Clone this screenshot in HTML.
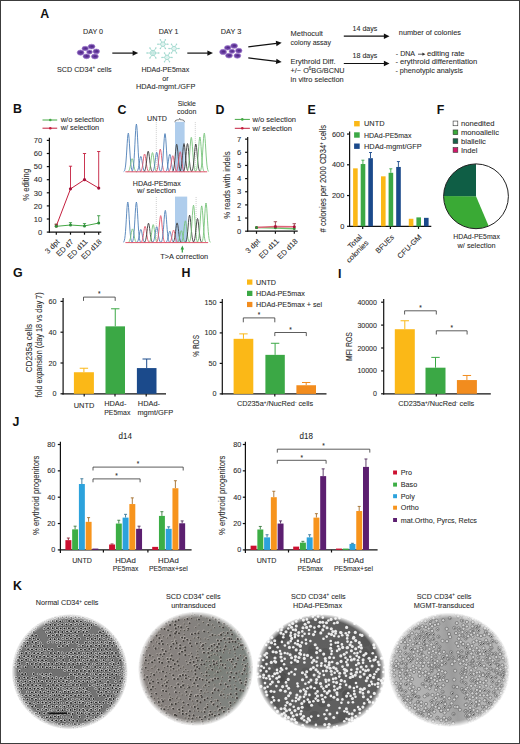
<!DOCTYPE html>
<html><head><meta charset="utf-8"><style>
html,body{margin:0;padding:0;background:#fff;}
body{width:520px;height:744px;overflow:hidden;position:relative;}
svg{position:absolute;left:0;top:0;display:block;}
svg text{font-family:"Liberation Sans", sans-serif;}
</style></head><body>
<svg width="520" height="744" viewBox="0 0 520 744">
<defs><g id="k1a"><circle r="2.15" fill="#4e4e4e"/><circle cx="-0.1" cy="-0.1" r="1.75" fill="#cfcfcf"/><circle r="1.0" fill="#505050"/><circle r="0.75" fill="#141414"/></g><g id="k1b"><circle r="2.0" fill="#555555"/><circle cx="-0.1" cy="-0.1" r="1.6" fill="#c2c2c2"/><circle r="0.75" fill="#333333"/></g><g id="k1c"><circle r="2.0" fill="#6c6c6c"/><circle r="1.5" fill="#a4a4a4"/><circle r="0.7" fill="#6a6a6a"/></g><filter id="kb" x="-5%" y="-5%" width="110%" height="110%"><feGaussianBlur stdDeviation="0.3"/></filter><g id="k2a"><circle cx="-0.4" cy="-0.4" r="1.5" fill="#bdb7b1" opacity="0.8"/><circle r="1.05" fill="#3e3b38"/></g><g id="k2b"><circle cx="-0.3" cy="-0.3" r="1.15" fill="#b3ada7" opacity="0.75"/><circle r="0.75" fill="#524e4a"/></g><linearGradient id="k2lin" x1="0" x2="1" y1="0" y2="0"><stop offset="0" stop-color="#8a8380"/><stop offset="0.45" stop-color="#85817e"/><stop offset="1" stop-color="#7b837e"/></linearGradient><radialGradient id="k2p"><stop offset="0" stop-color="#6f7a70" stop-opacity="0.55"/><stop offset="1" stop-color="#6f7a70" stop-opacity="0"/></radialGradient><circle id="k3a" r="1.3" fill="#f0f0f0"/><circle id="k3b" r="1.55" fill="#ececec"/><circle id="k3d" r="5" fill="#3a3a3a" opacity="0.18"/><g id="k4a"><circle r="1.6" fill="#d2d2d2" stroke="#5e5e5e" stroke-width="0.6"/></g><g id="k4b"><circle r="1.6" fill="#cacaca" stroke="#5a5a5a" stroke-width="0.6"/><circle cx="0.3" cy="0.2" r="0.6" fill="#404040"/></g><linearGradient id="k4band" x1="0" x2="1" y1="0" y2="0"><stop offset="0" stop-color="#8a8a8a" stop-opacity="0"/><stop offset="0.5" stop-color="#8a8a8a" stop-opacity="0.5"/><stop offset="1" stop-color="#8a8a8a" stop-opacity="0"/></linearGradient><radialGradient id="m1g" cx="0.5" cy="0.5" r="0.5"><stop offset="0.897" stop-color="#fff"/><stop offset="0.948" stop-color="#808080"/><stop offset="1" stop-color="#000"/></radialGradient><mask id="m1k" maskContentUnits="userSpaceOnUse"><ellipse cx="69.75" cy="671.75" rx="58.25" ry="57.75" fill="url(#m1g)"/></mask><radialGradient id="m1b" cx="0.5" cy="0.5" r="0.5"><stop offset="0" stop-color="#6e6e6e"/><stop offset="1" stop-color="#767676"/></radialGradient><radialGradient id="m2g" cx="0.5" cy="0.5" r="0.5"><stop offset="0.896" stop-color="#fff"/><stop offset="0.948" stop-color="#808080"/><stop offset="1" stop-color="#000"/></radialGradient><mask id="m2k" maskContentUnits="userSpaceOnUse"><ellipse cx="195.75" cy="668.75" rx="57.75" ry="57.25" fill="url(#m2g)"/></mask><radialGradient id="m2b" cx="0.5" cy="0.5" r="0.5"><stop offset="0" stop-color="#918c87"/><stop offset="1" stop-color="#8d8985"/></radialGradient><radialGradient id="m3g" cx="0.5" cy="0.5" r="0.5"><stop offset="0.907" stop-color="#fff"/><stop offset="0.954" stop-color="#808080"/><stop offset="1" stop-color="#000"/></radialGradient><mask id="m3k" maskContentUnits="userSpaceOnUse"><ellipse cx="320.75" cy="672.0" rx="64.75" ry="58.0" fill="url(#m3g)"/></mask><radialGradient id="m3b" cx="0.5" cy="0.5" r="0.5"><stop offset="0" stop-color="#626262"/><stop offset="1" stop-color="#5c5c5c"/></radialGradient><radialGradient id="m4g" cx="0.5" cy="0.5" r="0.5"><stop offset="0.902" stop-color="#fff"/><stop offset="0.951" stop-color="#808080"/><stop offset="1" stop-color="#000"/></radialGradient><mask id="m4k" maskContentUnits="userSpaceOnUse"><ellipse cx="449.0" cy="669.75" rx="61.0" ry="57.25" fill="url(#m4g)"/></mask><radialGradient id="m4b" cx="0.5" cy="0.5" r="0.5"><stop offset="0" stop-color="#ababab"/><stop offset="1" stop-color="#b6b6b6"/></radialGradient></defs>
<rect x="0" y="0" width="520" height="744" fill="#fff"/>
<text x="12.90" y="590.20" font-size="12.4" text-anchor="start" fill="#111" font-weight="bold">K</text><text x="35.80" y="605.40" font-size="7.2" text-anchor="start" fill="#2b2b2b" stroke="#2b2b2b" stroke-width="0.08">Normal CD34<tspan font-size="4.5" dy="-2.8">+</tspan><tspan dy="2.8"> cells</tspan></text><text x="193.20" y="598.80" font-size="7.2" text-anchor="middle" fill="#2b2b2b" stroke="#2b2b2b" stroke-width="0.08">SCD CD34<tspan font-size="4.5" dy="-2.8">+</tspan><tspan dy="2.8"> cells</tspan></text><text x="193.40" y="608.20" font-size="7.2" text-anchor="middle" fill="#2b2b2b" stroke="#2b2b2b" stroke-width="0.08" textLength="44.40" lengthAdjust="spacingAndGlyphs">untransduced</text><text x="318.30" y="598.80" font-size="7.2" text-anchor="middle" fill="#2b2b2b" stroke="#2b2b2b" stroke-width="0.08">SCD CD34<tspan font-size="4.5" dy="-2.8">+</tspan><tspan dy="2.8"> cells</tspan></text><text x="317.50" y="608.20" font-size="7.2" text-anchor="middle" fill="#2b2b2b" stroke="#2b2b2b" stroke-width="0.08" textLength="49.00" lengthAdjust="spacingAndGlyphs">HDAd-PE5max</text><text x="444.10" y="598.80" font-size="7.2" text-anchor="middle" fill="#2b2b2b" stroke="#2b2b2b" stroke-width="0.08">SCD CD34<tspan font-size="4.5" dy="-2.8">+</tspan><tspan dy="2.8"> cells</tspan></text><text x="443.90" y="608.20" font-size="7.2" text-anchor="middle" fill="#2b2b2b" stroke="#2b2b2b" stroke-width="0.08" textLength="60.50" lengthAdjust="spacingAndGlyphs">MGMT-transduced</text><g mask="url(#m1k)"><g filter="url(#kb)"><ellipse cx="69.75" cy="671.75" rx="58.25" ry="57.75" fill="url(#m1b)"/><use href="#k1b" x="87.0" y="617.4"/><use href="#k1b" x="44.4" y="621.2"/><use href="#k1b" x="64.9" y="621.1"/><use href="#k1b" x="85.2" y="621.5"/><use href="#k1b" x="97.5" y="621.2"/><use href="#k1b" x="58.3" y="624.6"/><use href="#k1b" x="75.3" y="624.5"/><use href="#k1b" x="79.6" y="624.2"/><use href="#k1b" x="35.7" y="628.2"/><use href="#k1b" x="44.3" y="628.7"/><use href="#k1b" x="76.6" y="628.7"/><use href="#k1b" x="29.9" y="631.8"/><use href="#k1b" x="46.7" y="632.2"/><use href="#k1b" x="73.2" y="635.4"/><use href="#k1b" x="93.2" y="635.2"/><use href="#k1b" x="62.9" y="638.5"/><use href="#k1b" x="104.0" y="638.5"/><use href="#k1b" x="108.3" y="639.3"/><use href="#k1b" x="40.4" y="642.9"/><use href="#k1b" x="48.3" y="642.3"/><use href="#k1b" x="52.9" y="642.0"/><use href="#k1b" x="56.7" y="642.4"/><use href="#k1b" x="68.7" y="642.6"/><use href="#k1b" x="89.7" y="642.2"/><use href="#k1b" x="97.3" y="642.3"/><use href="#k1b" x="105.5" y="642.5"/><use href="#k1b" x="30.2" y="646.1"/><use href="#k1b" x="79.1" y="645.7"/><use href="#k1b" x="39.9" y="649.3"/><use href="#k1b" x="77.5" y="649.1"/><use href="#k1b" x="17.4" y="652.8"/><use href="#k1b" x="29.5" y="652.7"/><use href="#k1b" x="46.0" y="653.0"/><use href="#k1b" x="62.3" y="653.0"/><use href="#k1b" x="83.6" y="653.2"/><use href="#k1b" x="95.8" y="653.5"/><use href="#k1b" x="120.6" y="652.7"/><use href="#k1b" x="16.1" y="656.9"/><use href="#k1b" x="64.3" y="656.8"/><use href="#k1b" x="85.2" y="656.5"/><use href="#k1b" x="13.7" y="660.5"/><use href="#k1b" x="30.4" y="659.7"/><use href="#k1b" x="59.1" y="660.6"/><use href="#k1b" x="83.6" y="660.4"/><use href="#k1b" x="99.4" y="660.3"/><use href="#k1b" x="107.9" y="659.9"/><use href="#k1b" x="93.5" y="664.0"/><use href="#k1b" x="110.2" y="663.4"/><use href="#k1b" x="22.1" y="666.9"/><use href="#k1b" x="54.4" y="667.5"/><use href="#k1b" x="67.1" y="667.0"/><use href="#k1b" x="83.4" y="667.6"/><use href="#k1b" x="91.3" y="667.0"/><use href="#k1b" x="103.6" y="666.9"/><use href="#k1b" x="107.7" y="667.5"/><use href="#k1b" x="115.9" y="666.8"/><use href="#k1b" x="120.0" y="667.5"/><use href="#k1b" x="123.8" y="667.2"/><use href="#k1b" x="64.9" y="670.4"/><use href="#k1b" x="118.3" y="670.5"/><use href="#k1b" x="122.3" y="671.3"/><use href="#k1b" x="38.3" y="674.1"/><use href="#k1b" x="91.7" y="674.0"/><use href="#k1b" x="120.2" y="674.3"/><use href="#k1b" x="124.4" y="674.7"/><use href="#k1b" x="56.4" y="677.8"/><use href="#k1b" x="102.2" y="677.6"/><use href="#k1b" x="126.0" y="677.4"/><use href="#k1b" x="21.3" y="681.2"/><use href="#k1b" x="71.2" y="681.5"/><use href="#k1b" x="91.8" y="681.3"/><use href="#k1b" x="104.0" y="681.1"/><use href="#k1b" x="115.7" y="681.6"/><use href="#k1b" x="69.1" y="684.8"/><use href="#k1b" x="93.9" y="685.3"/><use href="#k1b" x="101.5" y="685.4"/><use href="#k1b" x="121.9" y="685.2"/><use href="#k1b" x="63.1" y="688.7"/><use href="#k1b" x="75.0" y="688.3"/><use href="#k1b" x="95.9" y="688.7"/><use href="#k1b" x="27.6" y="692.0"/><use href="#k1b" x="60.3" y="692.4"/><use href="#k1b" x="89.1" y="692.6"/><use href="#k1b" x="109.4" y="691.7"/><use href="#k1b" x="114.5" y="692.3"/><use href="#k1b" x="22.2" y="695.6"/><use href="#k1b" x="45.9" y="695.5"/><use href="#k1b" x="50.4" y="695.4"/><use href="#k1b" x="116.1" y="695.2"/><use href="#k1b" x="40.6" y="698.9"/><use href="#k1b" x="72.8" y="699.3"/><use href="#k1b" x="77.0" y="699.3"/><use href="#k1b" x="21.5" y="702.5"/><use href="#k1b" x="34.2" y="702.6"/><use href="#k1b" x="62.4" y="703.1"/><use href="#k1b" x="87.6" y="703.2"/><use href="#k1b" x="108.3" y="702.6"/><use href="#k1b" x="60.7" y="706.8"/><use href="#k1b" x="42.5" y="709.7"/><use href="#k1b" x="50.7" y="709.8"/><use href="#k1b" x="54.1" y="709.9"/><use href="#k1b" x="67.3" y="709.7"/><use href="#k1b" x="95.4" y="709.5"/><use href="#k1b" x="107.4" y="709.6"/><use href="#k1b" x="111.8" y="710.1"/><use href="#k1b" x="85.5" y="713.2"/><use href="#k1b" x="110.0" y="713.4"/><use href="#k1b" x="62.3" y="717.0"/><use href="#k1b" x="67.1" y="717.1"/><use href="#k1b" x="91.0" y="717.3"/><use href="#k1b" x="46.8" y="724.4"/><use href="#k1b" x="54.2" y="723.9"/><use href="#k1b" x="67.1" y="724.3"/><use href="#k1b" x="70.8" y="724.0"/><use href="#k1b" x="83.2" y="724.4"/><use href="#k1b" x="91.7" y="724.0"/><use href="#k1a" x="72.7" y="614.2"/><use href="#k1a" x="55.0" y="617.3"/><use href="#k1a" x="58.4" y="617.9"/><use href="#k1a" x="62.5" y="617.2"/><use href="#k1a" x="66.4" y="617.3"/><use href="#k1a" x="71.3" y="617.7"/><use href="#k1a" x="75.5" y="617.3"/><use href="#k1a" x="78.9" y="617.5"/><use href="#k1a" x="82.9" y="617.4"/><use href="#k1a" x="48.5" y="621.6"/><use href="#k1a" x="52.7" y="621.0"/><use href="#k1a" x="56.7" y="621.0"/><use href="#k1a" x="60.3" y="621.4"/><use href="#k1a" x="69.1" y="621.1"/><use href="#k1a" x="73.4" y="620.9"/><use href="#k1a" x="76.9" y="621.3"/><use href="#k1a" x="80.9" y="621.5"/><use href="#k1a" x="89.6" y="620.8"/><use href="#k1a" x="93.8" y="621.5"/><use href="#k1a" x="37.7" y="624.3"/><use href="#k1a" x="46.0" y="624.2"/><use href="#k1a" x="50.4" y="624.8"/><use href="#k1a" x="54.9" y="625.1"/><use href="#k1a" x="62.3" y="624.6"/><use href="#k1a" x="66.5" y="624.4"/><use href="#k1a" x="71.1" y="624.7"/><use href="#k1a" x="83.5" y="624.3"/><use href="#k1a" x="87.5" y="625.1"/><use href="#k1a" x="91.5" y="625.0"/><use href="#k1a" x="96.0" y="624.6"/><use href="#k1a" x="31.8" y="628.5"/><use href="#k1a" x="48.1" y="628.2"/><use href="#k1a" x="52.7" y="628.3"/><use href="#k1a" x="56.9" y="628.3"/><use href="#k1a" x="60.6" y="628.5"/><use href="#k1a" x="64.5" y="628.6"/><use href="#k1a" x="68.9" y="628.3"/><use href="#k1a" x="73.0" y="628.2"/><use href="#k1a" x="81.1" y="628.5"/><use href="#k1a" x="85.3" y="628.4"/><use href="#k1a" x="89.4" y="628.1"/><use href="#k1a" x="102.1" y="628.2"/><use href="#k1a" x="105.5" y="628.3"/><use href="#k1a" x="33.8" y="631.9"/><use href="#k1a" x="50.3" y="632.2"/><use href="#k1a" x="55.0" y="632.1"/><use href="#k1a" x="58.4" y="632.0"/><use href="#k1a" x="62.3" y="632.1"/><use href="#k1a" x="67.1" y="631.4"/><use href="#k1a" x="71.1" y="631.3"/><use href="#k1a" x="75.2" y="632.2"/><use href="#k1a" x="78.8" y="631.8"/><use href="#k1a" x="83.3" y="631.9"/><use href="#k1a" x="86.9" y="631.4"/><use href="#k1a" x="100.0" y="632.2"/><use href="#k1a" x="103.3" y="631.3"/><use href="#k1a" x="107.8" y="632.0"/><use href="#k1a" x="28.2" y="635.5"/><use href="#k1a" x="32.1" y="635.2"/><use href="#k1a" x="36.1" y="635.8"/><use href="#k1a" x="48.8" y="635.7"/><use href="#k1a" x="52.8" y="635.6"/><use href="#k1a" x="56.8" y="634.9"/><use href="#k1a" x="60.7" y="634.8"/><use href="#k1a" x="64.9" y="635.4"/><use href="#k1a" x="69.3" y="635.5"/><use href="#k1a" x="77.0" y="635.8"/><use href="#k1a" x="84.8" y="635.4"/><use href="#k1a" x="89.2" y="635.2"/><use href="#k1a" x="97.4" y="635.7"/><use href="#k1a" x="101.7" y="635.8"/><use href="#k1a" x="106.3" y="635.4"/><use href="#k1a" x="109.5" y="635.4"/><use href="#k1a" x="113.5" y="635.7"/><use href="#k1a" x="25.9" y="638.6"/><use href="#k1a" x="29.7" y="638.4"/><use href="#k1a" x="33.6" y="638.5"/><use href="#k1a" x="38.0" y="639.3"/><use href="#k1a" x="50.4" y="639.3"/><use href="#k1a" x="54.6" y="639.3"/><use href="#k1a" x="58.6" y="639.3"/><use href="#k1a" x="66.8" y="638.6"/><use href="#k1a" x="71.0" y="638.5"/><use href="#k1a" x="75.2" y="638.8"/><use href="#k1a" x="79.2" y="638.8"/><use href="#k1a" x="87.6" y="638.6"/><use href="#k1a" x="91.8" y="639.1"/><use href="#k1a" x="95.4" y="638.6"/><use href="#k1a" x="99.7" y="638.9"/><use href="#k1a" x="111.5" y="638.4"/><use href="#k1a" x="116.0" y="639.0"/><use href="#k1a" x="24.0" y="642.7"/><use href="#k1a" x="27.5" y="642.7"/><use href="#k1a" x="32.3" y="642.1"/><use href="#k1a" x="35.9" y="642.7"/><use href="#k1a" x="60.5" y="642.7"/><use href="#k1a" x="64.5" y="642.6"/><use href="#k1a" x="72.8" y="642.0"/><use href="#k1a" x="77.3" y="642.3"/><use href="#k1a" x="85.7" y="642.8"/><use href="#k1a" x="93.4" y="642.8"/><use href="#k1a" x="101.6" y="642.3"/><use href="#k1a" x="109.9" y="642.7"/><use href="#k1a" x="113.7" y="642.7"/><use href="#k1a" x="117.9" y="641.9"/><use href="#k1a" x="17.7" y="646.2"/><use href="#k1a" x="21.3" y="646.2"/><use href="#k1a" x="25.4" y="646.1"/><use href="#k1a" x="33.8" y="646.2"/><use href="#k1a" x="38.4" y="645.8"/><use href="#k1a" x="42.7" y="646.1"/><use href="#k1a" x="59.0" y="646.3"/><use href="#k1a" x="62.9" y="646.0"/><use href="#k1a" x="67.2" y="645.9"/><use href="#k1a" x="82.8" y="645.8"/><use href="#k1a" x="87.5" y="646.2"/><use href="#k1a" x="91.0" y="645.9"/><use href="#k1a" x="96.0" y="645.5"/><use href="#k1a" x="99.3" y="645.7"/><use href="#k1a" x="104.0" y="646.1"/><use href="#k1a" x="107.5" y="645.7"/><use href="#k1a" x="112.2" y="645.8"/><use href="#k1a" x="116.4" y="645.9"/><use href="#k1a" x="120.5" y="646.4"/><use href="#k1a" x="20.0" y="649.4"/><use href="#k1a" x="28.1" y="649.2"/><use href="#k1a" x="32.0" y="649.4"/><use href="#k1a" x="36.3" y="649.6"/><use href="#k1a" x="44.7" y="649.5"/><use href="#k1a" x="48.9" y="649.3"/><use href="#k1a" x="52.2" y="649.8"/><use href="#k1a" x="72.8" y="649.8"/><use href="#k1a" x="80.9" y="649.5"/><use href="#k1a" x="85.0" y="649.8"/><use href="#k1a" x="89.2" y="649.1"/><use href="#k1a" x="93.5" y="649.7"/><use href="#k1a" x="97.8" y="649.1"/><use href="#k1a" x="101.7" y="650.0"/><use href="#k1a" x="106.0" y="649.0"/><use href="#k1a" x="110.1" y="649.2"/><use href="#k1a" x="118.4" y="649.2"/><use href="#k1a" x="122.0" y="649.4"/><use href="#k1a" x="21.6" y="653.5"/><use href="#k1a" x="26.1" y="652.9"/><use href="#k1a" x="34.2" y="653.3"/><use href="#k1a" x="38.1" y="653.4"/><use href="#k1a" x="41.8" y="652.8"/><use href="#k1a" x="50.9" y="653.0"/><use href="#k1a" x="54.7" y="653.3"/><use href="#k1a" x="58.5" y="652.9"/><use href="#k1a" x="67.3" y="653.3"/><use href="#k1a" x="71.1" y="652.6"/><use href="#k1a" x="74.9" y="653.2"/><use href="#k1a" x="79.0" y="653.1"/><use href="#k1a" x="87.6" y="653.5"/><use href="#k1a" x="91.3" y="653.1"/><use href="#k1a" x="99.9" y="653.4"/><use href="#k1a" x="104.2" y="653.2"/><use href="#k1a" x="107.4" y="652.8"/><use href="#k1a" x="112.1" y="652.9"/><use href="#k1a" x="115.9" y="653.0"/><use href="#k1a" x="124.3" y="653.1"/><use href="#k1a" x="19.3" y="656.9"/><use href="#k1a" x="24.2" y="656.3"/><use href="#k1a" x="28.2" y="656.3"/><use href="#k1a" x="31.6" y="656.1"/><use href="#k1a" x="36.6" y="657.0"/><use href="#k1a" x="40.0" y="656.8"/><use href="#k1a" x="44.2" y="656.7"/><use href="#k1a" x="47.9" y="656.3"/><use href="#k1a" x="52.1" y="656.5"/><use href="#k1a" x="56.3" y="656.6"/><use href="#k1a" x="60.8" y="656.4"/><use href="#k1a" x="69.4" y="656.7"/><use href="#k1a" x="72.9" y="656.7"/><use href="#k1a" x="77.4" y="656.9"/><use href="#k1a" x="81.7" y="656.9"/><use href="#k1a" x="89.8" y="656.6"/><use href="#k1a" x="93.4" y="657.0"/><use href="#k1a" x="97.2" y="656.8"/><use href="#k1a" x="101.9" y="656.7"/><use href="#k1a" x="105.6" y="656.7"/><use href="#k1a" x="109.5" y="656.6"/><use href="#k1a" x="113.9" y="656.2"/><use href="#k1a" x="118.1" y="656.3"/><use href="#k1a" x="122.1" y="656.3"/><use href="#k1a" x="18.0" y="659.9"/><use href="#k1a" x="21.8" y="660.6"/><use href="#k1a" x="26.1" y="659.8"/><use href="#k1a" x="33.8" y="660.0"/><use href="#k1a" x="38.5" y="660.5"/><use href="#k1a" x="42.1" y="660.2"/><use href="#k1a" x="45.9" y="660.6"/><use href="#k1a" x="54.5" y="659.9"/><use href="#k1a" x="63.1" y="660.0"/><use href="#k1a" x="70.7" y="660.3"/><use href="#k1a" x="75.4" y="659.7"/><use href="#k1a" x="79.4" y="660.0"/><use href="#k1a" x="87.5" y="660.6"/><use href="#k1a" x="91.0" y="659.9"/><use href="#k1a" x="95.8" y="659.9"/><use href="#k1a" x="103.6" y="660.3"/><use href="#k1a" x="112.4" y="660.3"/><use href="#k1a" x="120.1" y="660.2"/><use href="#k1a" x="123.8" y="660.3"/><use href="#k1a" x="15.2" y="663.5"/><use href="#k1a" x="19.4" y="663.5"/><use href="#k1a" x="27.4" y="663.7"/><use href="#k1a" x="31.9" y="664.1"/><use href="#k1a" x="35.8" y="663.8"/><use href="#k1a" x="40.1" y="663.9"/><use href="#k1a" x="44.3" y="663.7"/><use href="#k1a" x="48.6" y="663.7"/><use href="#k1a" x="52.2" y="664.0"/><use href="#k1a" x="56.7" y="663.4"/><use href="#k1a" x="61.0" y="664.0"/><use href="#k1a" x="64.5" y="663.7"/><use href="#k1a" x="69.0" y="663.7"/><use href="#k1a" x="73.1" y="663.9"/><use href="#k1a" x="77.5" y="663.4"/><use href="#k1a" x="80.7" y="663.7"/><use href="#k1a" x="85.2" y="663.5"/><use href="#k1a" x="89.0" y="664.1"/><use href="#k1a" x="97.2" y="663.5"/><use href="#k1a" x="101.5" y="663.8"/><use href="#k1a" x="105.6" y="663.8"/><use href="#k1a" x="113.7" y="663.9"/><use href="#k1a" x="118.4" y="663.3"/><use href="#k1a" x="125.8" y="663.7"/><use href="#k1a" x="14.0" y="666.9"/><use href="#k1a" x="17.9" y="666.8"/><use href="#k1a" x="25.6" y="667.2"/><use href="#k1a" x="34.3" y="667.0"/><use href="#k1a" x="38.2" y="667.0"/><use href="#k1a" x="42.7" y="667.1"/><use href="#k1a" x="46.8" y="667.4"/><use href="#k1a" x="50.4" y="667.4"/><use href="#k1a" x="58.7" y="667.6"/><use href="#k1a" x="62.6" y="667.6"/><use href="#k1a" x="70.6" y="667.3"/><use href="#k1a" x="74.8" y="667.0"/><use href="#k1a" x="87.2" y="666.8"/><use href="#k1a" x="95.2" y="667.0"/><use href="#k1a" x="100.1" y="667.5"/><use href="#k1a" x="112.4" y="666.8"/><use href="#k1a" x="19.6" y="670.9"/><use href="#k1a" x="68.8" y="670.4"/><use href="#k1a" x="72.8" y="670.8"/><use href="#k1a" x="76.8" y="670.7"/><use href="#k1a" x="80.9" y="671.0"/><use href="#k1a" x="84.9" y="670.7"/><use href="#k1a" x="89.1" y="670.9"/><use href="#k1a" x="93.6" y="671.0"/><use href="#k1a" x="97.5" y="670.7"/><use href="#k1a" x="101.6" y="670.4"/><use href="#k1a" x="105.9" y="670.8"/><use href="#k1a" x="109.7" y="670.3"/><use href="#k1a" x="114.4" y="670.9"/><use href="#k1a" x="126.4" y="671.3"/><use href="#k1a" x="22.1" y="674.2"/><use href="#k1a" x="25.4" y="674.0"/><use href="#k1a" x="33.7" y="674.1"/><use href="#k1a" x="42.3" y="674.3"/><use href="#k1a" x="46.3" y="674.5"/><use href="#k1a" x="50.6" y="674.4"/><use href="#k1a" x="70.9" y="674.4"/><use href="#k1a" x="74.8" y="674.6"/><use href="#k1a" x="78.9" y="674.1"/><use href="#k1a" x="82.9" y="674.4"/><use href="#k1a" x="86.9" y="673.9"/><use href="#k1a" x="95.8" y="674.3"/><use href="#k1a" x="100.0" y="674.7"/><use href="#k1a" x="103.5" y="674.4"/><use href="#k1a" x="107.7" y="674.6"/><use href="#k1a" x="112.2" y="674.2"/><use href="#k1a" x="116.3" y="674.7"/><use href="#k1a" x="15.8" y="677.6"/><use href="#k1a" x="19.2" y="678.0"/><use href="#k1a" x="24.3" y="677.5"/><use href="#k1a" x="27.8" y="678.0"/><use href="#k1a" x="32.4" y="678.4"/><use href="#k1a" x="36.3" y="677.5"/><use href="#k1a" x="43.9" y="677.7"/><use href="#k1a" x="48.4" y="677.9"/><use href="#k1a" x="52.3" y="678.2"/><use href="#k1a" x="61.0" y="678.4"/><use href="#k1a" x="65.0" y="678.0"/><use href="#k1a" x="68.5" y="677.6"/><use href="#k1a" x="76.7" y="677.7"/><use href="#k1a" x="81.3" y="677.6"/><use href="#k1a" x="85.1" y="677.6"/><use href="#k1a" x="89.3" y="677.7"/><use href="#k1a" x="93.1" y="678.3"/><use href="#k1a" x="97.2" y="677.6"/><use href="#k1a" x="105.8" y="677.8"/><use href="#k1a" x="109.8" y="677.5"/><use href="#k1a" x="114.2" y="678.0"/><use href="#k1a" x="122.1" y="678.2"/><use href="#k1a" x="13.2" y="681.0"/><use href="#k1a" x="17.9" y="681.3"/><use href="#k1a" x="25.4" y="681.5"/><use href="#k1a" x="30.2" y="681.7"/><use href="#k1a" x="34.4" y="681.8"/><use href="#k1a" x="38.6" y="681.1"/><use href="#k1a" x="42.2" y="681.7"/><use href="#k1a" x="46.8" y="681.0"/><use href="#k1a" x="50.2" y="681.3"/><use href="#k1a" x="54.7" y="681.8"/><use href="#k1a" x="58.8" y="681.3"/><use href="#k1a" x="63.2" y="681.3"/><use href="#k1a" x="66.7" y="681.7"/><use href="#k1a" x="74.7" y="681.1"/><use href="#k1a" x="79.0" y="681.4"/><use href="#k1a" x="83.3" y="681.4"/><use href="#k1a" x="87.4" y="681.9"/><use href="#k1a" x="95.2" y="681.9"/><use href="#k1a" x="100.1" y="681.2"/><use href="#k1a" x="108.0" y="681.9"/><use href="#k1a" x="120.3" y="681.2"/><use href="#k1a" x="124.6" y="681.8"/><use href="#k1a" x="15.2" y="685.3"/><use href="#k1a" x="19.7" y="685.2"/><use href="#k1a" x="23.7" y="684.7"/><use href="#k1a" x="28.0" y="685.0"/><use href="#k1a" x="32.1" y="685.0"/><use href="#k1a" x="36.2" y="685.4"/><use href="#k1a" x="40.2" y="685.5"/><use href="#k1a" x="48.3" y="685.4"/><use href="#k1a" x="53.0" y="685.0"/><use href="#k1a" x="56.9" y="685.2"/><use href="#k1a" x="61.0" y="685.3"/><use href="#k1a" x="65.3" y="684.6"/><use href="#k1a" x="73.0" y="685.0"/><use href="#k1a" x="76.8" y="684.8"/><use href="#k1a" x="80.8" y="685.1"/><use href="#k1a" x="89.8" y="685.3"/><use href="#k1a" x="97.5" y="684.6"/><use href="#k1a" x="105.4" y="684.7"/><use href="#k1a" x="110.2" y="685.1"/><use href="#k1a" x="113.6" y="685.5"/><use href="#k1a" x="118.2" y="685.4"/><use href="#k1a" x="125.8" y="684.9"/><use href="#k1a" x="17.8" y="688.8"/><use href="#k1a" x="21.4" y="688.8"/><use href="#k1a" x="25.5" y="688.2"/><use href="#k1a" x="30.1" y="688.4"/><use href="#k1a" x="34.5" y="688.8"/><use href="#k1a" x="38.0" y="688.4"/><use href="#k1a" x="41.9" y="688.7"/><use href="#k1a" x="46.7" y="688.5"/><use href="#k1a" x="50.5" y="689.0"/><use href="#k1a" x="54.8" y="688.3"/><use href="#k1a" x="58.4" y="688.9"/><use href="#k1a" x="67.3" y="688.5"/><use href="#k1a" x="71.1" y="688.5"/><use href="#k1a" x="79.6" y="688.4"/><use href="#k1a" x="83.4" y="688.3"/><use href="#k1a" x="87.0" y="689.0"/><use href="#k1a" x="99.2" y="689.0"/><use href="#k1a" x="103.6" y="688.4"/><use href="#k1a" x="108.0" y="688.4"/><use href="#k1a" x="112.4" y="688.1"/><use href="#k1a" x="116.0" y="688.4"/><use href="#k1a" x="120.0" y="688.7"/><use href="#k1a" x="19.3" y="692.1"/><use href="#k1a" x="31.9" y="692.4"/><use href="#k1a" x="35.8" y="692.3"/><use href="#k1a" x="40.4" y="691.9"/><use href="#k1a" x="44.5" y="692.4"/><use href="#k1a" x="48.4" y="691.6"/><use href="#k1a" x="52.9" y="692.5"/><use href="#k1a" x="56.5" y="692.1"/><use href="#k1a" x="64.8" y="691.7"/><use href="#k1a" x="68.5" y="691.7"/><use href="#k1a" x="72.8" y="692.4"/><use href="#k1a" x="77.0" y="691.7"/><use href="#k1a" x="81.2" y="692.2"/><use href="#k1a" x="85.7" y="691.7"/><use href="#k1a" x="98.1" y="692.0"/><use href="#k1a" x="101.4" y="692.4"/><use href="#k1a" x="106.0" y="691.8"/><use href="#k1a" x="117.6" y="692.0"/><use href="#k1a" x="122.0" y="691.7"/><use href="#k1a" x="18.1" y="695.7"/><use href="#k1a" x="26.1" y="695.4"/><use href="#k1a" x="29.9" y="695.6"/><use href="#k1a" x="34.0" y="695.6"/><use href="#k1a" x="38.5" y="695.2"/><use href="#k1a" x="42.3" y="695.6"/><use href="#k1a" x="54.5" y="695.2"/><use href="#k1a" x="59.1" y="695.2"/><use href="#k1a" x="63.2" y="695.5"/><use href="#k1a" x="66.7" y="695.5"/><use href="#k1a" x="71.0" y="695.5"/><use href="#k1a" x="75.1" y="695.9"/><use href="#k1a" x="78.7" y="695.4"/><use href="#k1a" x="83.5" y="695.6"/><use href="#k1a" x="87.3" y="695.4"/><use href="#k1a" x="91.0" y="696.1"/><use href="#k1a" x="99.9" y="695.8"/><use href="#k1a" x="104.0" y="695.2"/><use href="#k1a" x="107.9" y="696.1"/><use href="#k1a" x="111.5" y="696.1"/><use href="#k1a" x="19.6" y="699.2"/><use href="#k1a" x="23.6" y="699.4"/><use href="#k1a" x="27.5" y="699.5"/><use href="#k1a" x="32.0" y="698.8"/><use href="#k1a" x="35.9" y="699.7"/><use href="#k1a" x="44.3" y="699.6"/><use href="#k1a" x="48.8" y="699.2"/><use href="#k1a" x="52.4" y="699.1"/><use href="#k1a" x="57.0" y="699.2"/><use href="#k1a" x="60.6" y="699.5"/><use href="#k1a" x="65.0" y="698.9"/><use href="#k1a" x="68.6" y="699.1"/><use href="#k1a" x="81.1" y="699.3"/><use href="#k1a" x="85.8" y="699.0"/><use href="#k1a" x="89.1" y="699.0"/><use href="#k1a" x="93.6" y="699.0"/><use href="#k1a" x="106.3" y="699.6"/><use href="#k1a" x="109.9" y="698.9"/><use href="#k1a" x="113.6" y="699.0"/><use href="#k1a" x="117.6" y="699.4"/><use href="#k1a" x="26.0" y="702.4"/><use href="#k1a" x="30.0" y="703.2"/><use href="#k1a" x="38.4" y="702.6"/><use href="#k1a" x="42.5" y="702.5"/><use href="#k1a" x="45.9" y="702.8"/><use href="#k1a" x="50.2" y="702.5"/><use href="#k1a" x="54.5" y="702.5"/><use href="#k1a" x="58.4" y="702.8"/><use href="#k1a" x="67.0" y="702.8"/><use href="#k1a" x="71.0" y="702.9"/><use href="#k1a" x="75.3" y="702.5"/><use href="#k1a" x="79.6" y="702.6"/><use href="#k1a" x="83.0" y="702.7"/><use href="#k1a" x="91.5" y="702.6"/><use href="#k1a" x="96.0" y="702.4"/><use href="#k1a" x="99.8" y="702.3"/><use href="#k1a" x="103.4" y="702.8"/><use href="#k1a" x="111.5" y="702.9"/><use href="#k1a" x="23.5" y="706.5"/><use href="#k1a" x="27.9" y="705.9"/><use href="#k1a" x="32.1" y="706.8"/><use href="#k1a" x="35.7" y="706.1"/><use href="#k1a" x="44.7" y="706.7"/><use href="#k1a" x="48.8" y="705.8"/><use href="#k1a" x="52.6" y="706.5"/><use href="#k1a" x="56.7" y="706.7"/><use href="#k1a" x="64.4" y="706.7"/><use href="#k1a" x="68.4" y="705.8"/><use href="#k1a" x="73.2" y="706.3"/><use href="#k1a" x="77.4" y="706.6"/><use href="#k1a" x="85.6" y="706.2"/><use href="#k1a" x="89.2" y="705.8"/><use href="#k1a" x="93.3" y="706.4"/><use href="#k1a" x="97.4" y="706.5"/><use href="#k1a" x="101.4" y="706.7"/><use href="#k1a" x="110.2" y="706.1"/><use href="#k1a" x="114.2" y="706.1"/><use href="#k1a" x="29.9" y="710.4"/><use href="#k1a" x="38.0" y="709.5"/><use href="#k1a" x="46.2" y="709.7"/><use href="#k1a" x="58.2" y="710.3"/><use href="#k1a" x="62.5" y="710.2"/><use href="#k1a" x="70.6" y="710.1"/><use href="#k1a" x="74.7" y="709.5"/><use href="#k1a" x="79.5" y="710.1"/><use href="#k1a" x="83.2" y="709.7"/><use href="#k1a" x="87.1" y="710.3"/><use href="#k1a" x="91.1" y="709.7"/><use href="#k1a" x="99.7" y="709.9"/><use href="#k1a" x="31.9" y="713.0"/><use href="#k1a" x="35.8" y="713.7"/><use href="#k1a" x="39.7" y="713.1"/><use href="#k1a" x="44.3" y="713.6"/><use href="#k1a" x="48.1" y="712.9"/><use href="#k1a" x="52.0" y="713.2"/><use href="#k1a" x="56.5" y="713.4"/><use href="#k1a" x="60.5" y="713.3"/><use href="#k1a" x="64.9" y="713.3"/><use href="#k1a" x="68.9" y="713.2"/><use href="#k1a" x="72.7" y="713.9"/><use href="#k1a" x="77.5" y="713.1"/><use href="#k1a" x="81.7" y="713.2"/><use href="#k1a" x="89.1" y="713.9"/><use href="#k1a" x="93.1" y="713.6"/><use href="#k1a" x="97.7" y="713.4"/><use href="#k1a" x="101.7" y="713.3"/><use href="#k1a" x="34.0" y="716.8"/><use href="#k1a" x="38.2" y="716.8"/><use href="#k1a" x="42.0" y="717.3"/><use href="#k1a" x="46.8" y="717.4"/><use href="#k1a" x="50.7" y="717.2"/><use href="#k1a" x="54.9" y="716.6"/><use href="#k1a" x="58.5" y="716.7"/><use href="#k1a" x="71.4" y="717.1"/><use href="#k1a" x="79.5" y="716.8"/><use href="#k1a" x="87.5" y="716.6"/><use href="#k1a" x="95.8" y="717.3"/><use href="#k1a" x="100.1" y="717.1"/><use href="#k1a" x="103.6" y="716.8"/><use href="#k1a" x="40.2" y="720.1"/><use href="#k1a" x="44.3" y="720.5"/><use href="#k1a" x="48.1" y="720.2"/><use href="#k1a" x="52.2" y="720.3"/><use href="#k1a" x="56.2" y="720.4"/><use href="#k1a" x="61.1" y="720.7"/><use href="#k1a" x="64.7" y="720.3"/><use href="#k1a" x="69.4" y="720.1"/><use href="#k1a" x="73.2" y="720.8"/><use href="#k1a" x="77.2" y="721.0"/><use href="#k1a" x="85.3" y="720.2"/><use href="#k1a" x="89.0" y="720.2"/><use href="#k1a" x="93.3" y="720.7"/><use href="#k1a" x="97.4" y="720.8"/><use href="#k1a" x="59.0" y="724.1"/><use href="#k1a" x="62.6" y="724.5"/><use href="#k1a" x="74.9" y="724.2"/><use href="#k1a" x="79.0" y="724.3"/><use href="#k1a" x="60.5" y="727.8"/><use href="#k1a" x="73.4" y="727.8"/><use href="#k1a" x="77.4" y="727.5"/><use href="#k1a" x="81.3" y="727.6"/></g></g><line x1="49.20" y1="713.30" x2="67.10" y2="713.30" stroke="#111" stroke-width="1.7"/><g mask="url(#m2k)"><g filter="url(#kb)"><ellipse cx="195.75" cy="668.75" rx="57.75" ry="57.25" fill="url(#m2b)"/><ellipse cx="195.75" cy="668.75" rx="57.75" ry="57.25" fill="url(#k2lin)"/><ellipse cx="215.75" cy="664.75" rx="20" ry="24" fill="url(#k2p)"/><use href="#k2b" x="252.8" y="677.2"/><use href="#k2b" x="203.8" y="687.0"/><use href="#k2b" x="227.3" y="660.6"/><use href="#k2b" x="173.8" y="618.2"/><use href="#k2b" x="221.6" y="633.4"/><use href="#k2b" x="242.7" y="649.6"/><use href="#k2b" x="181.4" y="626.3"/><use href="#k2b" x="240.5" y="655.8"/><use href="#k2b" x="183.4" y="647.4"/><use href="#k2b" x="235.9" y="681.4"/><use href="#k2b" x="154.2" y="667.1"/><use href="#k2b" x="223.5" y="652.8"/><use href="#k2b" x="164.8" y="699.9"/><use href="#k2b" x="172.4" y="698.4"/><use href="#k2b" x="150.1" y="700.4"/><use href="#k2b" x="235.2" y="656.6"/><use href="#k2b" x="181.2" y="679.1"/><use href="#k2b" x="214.7" y="654.3"/><use href="#k2b" x="163.1" y="659.0"/><use href="#k2b" x="179.4" y="698.9"/><use href="#k2b" x="145.5" y="657.5"/><use href="#k2b" x="230.2" y="650.2"/><use href="#k2b" x="219.0" y="635.5"/><use href="#k2b" x="206.9" y="618.1"/><use href="#k2b" x="218.5" y="710.7"/><use href="#k2b" x="168.3" y="680.6"/><use href="#k2b" x="183.9" y="684.5"/><use href="#k2b" x="192.8" y="686.4"/><use href="#k2b" x="169.9" y="673.6"/><use href="#k2b" x="168.1" y="709.5"/><use href="#k2b" x="187.9" y="630.5"/><use href="#k2b" x="186.3" y="661.6"/><use href="#k2b" x="185.8" y="669.6"/><use href="#k2b" x="157.0" y="626.8"/><use href="#k2b" x="191.8" y="691.2"/><use href="#k2b" x="220.6" y="664.7"/><use href="#k2b" x="139.2" y="662.5"/><use href="#k2b" x="220.5" y="703.8"/><use href="#k2b" x="225.2" y="635.5"/><use href="#k2b" x="139.8" y="667.1"/><use href="#k2b" x="227.0" y="648.9"/><use href="#k2b" x="160.1" y="634.5"/><use href="#k2b" x="167.6" y="717.8"/><use href="#k2b" x="193.1" y="677.2"/><use href="#k2b" x="188.3" y="685.6"/><use href="#k2b" x="164.4" y="679.9"/><use href="#k2b" x="208.1" y="639.5"/><use href="#k2b" x="187.8" y="688.6"/><use href="#k2b" x="144.4" y="674.9"/><use href="#k2b" x="180.6" y="668.3"/><use href="#k2b" x="176.7" y="698.6"/><use href="#k2b" x="233.6" y="646.4"/><use href="#k2b" x="212.6" y="624.9"/><use href="#k2b" x="200.5" y="642.5"/><use href="#k2b" x="150.4" y="676.6"/><use href="#k2b" x="186.5" y="695.2"/><use href="#k2b" x="146.6" y="650.7"/><use href="#k2b" x="148.9" y="659.9"/><use href="#k2b" x="198.4" y="711.3"/><use href="#k2b" x="155.9" y="709.4"/><use href="#k2b" x="170.4" y="649.3"/><use href="#k2b" x="199.2" y="648.7"/><use href="#k2b" x="198.0" y="689.3"/><use href="#k2b" x="147.3" y="687.3"/><use href="#k2b" x="224.2" y="689.3"/><use href="#k2b" x="231.1" y="689.2"/><use href="#k2b" x="215.0" y="675.0"/><use href="#k2b" x="215.0" y="671.1"/><use href="#k2b" x="179.2" y="712.4"/><use href="#k2b" x="200.1" y="693.2"/><use href="#k2b" x="211.0" y="630.1"/><use href="#k2b" x="225.6" y="642.4"/><use href="#k2b" x="179.3" y="692.8"/><use href="#k2b" x="166.0" y="706.8"/><use href="#k2b" x="217.5" y="655.1"/><use href="#k2b" x="179.1" y="659.1"/><use href="#k2b" x="151.7" y="693.4"/><use href="#k2b" x="156.5" y="672.0"/><use href="#k2b" x="157.2" y="654.8"/><use href="#k2b" x="156.6" y="642.0"/><use href="#k2b" x="180.7" y="630.8"/><use href="#k2b" x="187.8" y="664.4"/><use href="#k2b" x="182.4" y="681.6"/><use href="#k2b" x="197.7" y="651.3"/><use href="#k2b" x="227.1" y="625.7"/><use href="#k2b" x="182.1" y="695.0"/><use href="#k2b" x="188.6" y="718.4"/><use href="#k2b" x="225.5" y="664.8"/><use href="#k2b" x="138.1" y="671.3"/><use href="#k2b" x="158.9" y="705.4"/><use href="#k2b" x="148.0" y="670.6"/><use href="#k2b" x="196.2" y="620.1"/><use href="#k2b" x="183.3" y="667.0"/><use href="#k2b" x="189.9" y="612.7"/><use href="#k2b" x="195.8" y="627.7"/><use href="#k2b" x="230.6" y="705.8"/><use href="#k2b" x="142.3" y="664.9"/><use href="#k2b" x="191.9" y="615.6"/><use href="#k2b" x="247.7" y="663.7"/><use href="#k2b" x="201.3" y="711.9"/><use href="#k2b" x="171.5" y="686.4"/><use href="#k2b" x="163.5" y="636.7"/><use href="#k2b" x="227.9" y="695.2"/><use href="#k2b" x="227.4" y="673.0"/><use href="#k2b" x="184.2" y="688.3"/><use href="#k2b" x="169.5" y="693.9"/><use href="#k2b" x="215.0" y="711.3"/><use href="#k2b" x="214.5" y="667.1"/><use href="#k2b" x="155.2" y="688.8"/><use href="#k2b" x="184.0" y="705.2"/><use href="#k2b" x="167.3" y="638.0"/><use href="#k2b" x="176.0" y="670.9"/><use href="#k2b" x="184.2" y="634.6"/><use href="#k2b" x="167.6" y="644.7"/><use href="#k2b" x="178.2" y="702.3"/><use href="#k2b" x="158.2" y="632.1"/><use href="#k2b" x="199.0" y="657.2"/><use href="#k2b" x="253.0" y="663.6"/><use href="#k2b" x="240.4" y="700.8"/><use href="#k2b" x="197.3" y="705.0"/><use href="#k2b" x="229.0" y="627.8"/><use href="#k2b" x="219.6" y="718.0"/><use href="#k2b" x="232.1" y="708.8"/><use href="#k2b" x="206.5" y="661.4"/><use href="#k2b" x="181.8" y="720.3"/><use href="#k2b" x="148.4" y="680.1"/><use href="#k2b" x="207.6" y="704.4"/><use href="#k2b" x="196.7" y="717.7"/><use href="#k2b" x="227.5" y="698.0"/><use href="#k2b" x="219.7" y="626.4"/><use href="#k2b" x="184.7" y="619.7"/><use href="#k2b" x="246.6" y="673.9"/><use href="#k2b" x="153.3" y="640.0"/><use href="#k2b" x="191.5" y="653.2"/><use href="#k2b" x="238.2" y="677.1"/><use href="#k2b" x="210.0" y="636.3"/><use href="#k2b" x="203.3" y="622.4"/><use href="#k2b" x="211.6" y="697.6"/><use href="#k2b" x="184.2" y="624.0"/><use href="#k2b" x="189.0" y="724.3"/><use href="#k2b" x="159.8" y="672.8"/><use href="#k2b" x="161.7" y="695.6"/><use href="#k2b" x="176.6" y="722.6"/><use href="#k2b" x="232.7" y="697.2"/><use href="#k2b" x="201.6" y="673.4"/><use href="#k2b" x="224.9" y="707.4"/><use href="#k2b" x="219.5" y="668.0"/><use href="#k2b" x="206.1" y="667.7"/><use href="#k2b" x="161.8" y="704.9"/><use href="#k2b" x="192.7" y="700.9"/><use href="#k2b" x="183.8" y="671.6"/><use href="#k2b" x="208.7" y="669.3"/><use href="#k2b" x="189.0" y="655.4"/><use href="#k2b" x="244.0" y="655.9"/><use href="#k2b" x="239.2" y="671.9"/><use href="#k2b" x="246.5" y="678.8"/><use href="#k2b" x="206.3" y="690.1"/><use href="#k2b" x="209.4" y="675.6"/><use href="#k2b" x="194.7" y="614.6"/><use href="#k2b" x="190.6" y="640.2"/><use href="#k2b" x="185.1" y="718.0"/><use href="#k2b" x="221.7" y="681.1"/><use href="#k2b" x="174.7" y="637.0"/><use href="#k2b" x="204.8" y="692.9"/><use href="#k2b" x="191.6" y="707.1"/><use href="#k2b" x="214.8" y="685.1"/><use href="#k2b" x="190.7" y="659.5"/><use href="#k2b" x="234.3" y="630.3"/><use href="#k2b" x="209.5" y="661.5"/><use href="#k2b" x="221.8" y="692.0"/><use href="#k2b" x="205.7" y="643.4"/><use href="#k2b" x="229.6" y="668.1"/><use href="#k2b" x="171.1" y="631.4"/><use href="#k2b" x="168.4" y="687.9"/><use href="#k2b" x="208.9" y="686.5"/><use href="#k2b" x="144.9" y="663.0"/><use href="#k2b" x="238.8" y="643.4"/><use href="#k2b" x="169.3" y="618.7"/><use href="#k2b" x="140.1" y="676.1"/><use href="#k2b" x="191.3" y="671.0"/><use href="#k2b" x="149.0" y="647.5"/><use href="#k2b" x="223.9" y="619.8"/><use href="#k2b" x="220.3" y="647.3"/><use href="#k2b" x="191.5" y="618.4"/><use href="#k2b" x="157.7" y="679.2"/><use href="#k2b" x="164.3" y="667.8"/><use href="#k2b" x="215.2" y="635.4"/><use href="#k2b" x="232.8" y="664.3"/><use href="#k2b" x="242.7" y="664.5"/><use href="#k2b" x="214.8" y="648.7"/><use href="#k2b" x="217.3" y="665.5"/><use href="#k2b" x="188.1" y="671.4"/><use href="#k2b" x="170.7" y="670.0"/><use href="#k2b" x="153.5" y="645.9"/><use href="#k2b" x="186.1" y="724.7"/><use href="#k2b" x="234.9" y="702.7"/><use href="#k2b" x="152.9" y="656.7"/><use href="#k2b" x="223.6" y="694.4"/><use href="#k2b" x="250.6" y="656.3"/><use href="#k2b" x="194.9" y="721.3"/><use href="#k2b" x="154.4" y="698.3"/><use href="#k2b" x="158.2" y="698.3"/><use href="#k2b" x="208.1" y="721.8"/><use href="#k2b" x="246.0" y="642.0"/><use href="#k2b" x="208.0" y="692.2"/><use href="#k2b" x="169.0" y="653.0"/><use href="#k2b" x="199.0" y="625.0"/><use href="#k2b" x="211.5" y="722.1"/><use href="#k2b" x="158.8" y="648.1"/><use href="#k2b" x="148.3" y="642.1"/><use href="#k2b" x="208.3" y="632.5"/><use href="#k2b" x="211.3" y="655.4"/><use href="#k2b" x="220.8" y="671.0"/><use href="#k2b" x="166.5" y="672.6"/><use href="#k2b" x="234.9" y="685.2"/><use href="#k2b" x="232.5" y="669.1"/><use href="#k2b" x="148.3" y="663.4"/><use href="#k2b" x="211.0" y="651.3"/><use href="#k2b" x="151.4" y="701.2"/><use href="#k2b" x="205.1" y="639.0"/><use href="#k2b" x="155.1" y="665.9"/><use href="#k2b" x="184.3" y="630.4"/><use href="#k2b" x="203.8" y="675.4"/><use href="#k2b" x="162.7" y="715.0"/><use href="#k2b" x="242.7" y="636.2"/><use href="#k2b" x="214.4" y="654.3"/><use href="#k2b" x="222.5" y="677.3"/><use href="#k2b" x="180.3" y="699.3"/><use href="#k2b" x="152.0" y="668.5"/><use href="#k2b" x="188.7" y="676.6"/><use href="#k2b" x="194.4" y="711.1"/><use href="#k2b" x="175.8" y="664.3"/><use href="#k2b" x="224.1" y="697.7"/><use href="#k2b" x="197.9" y="654.2"/><use href="#k2b" x="223.7" y="632.5"/><use href="#k2b" x="214.6" y="627.7"/><use href="#k2b" x="248.8" y="688.1"/><use href="#k2b" x="158.6" y="658.1"/><use href="#k2b" x="186.8" y="626.4"/><use href="#k2b" x="192.2" y="724.7"/><use href="#k2b" x="182.4" y="613.5"/><use href="#k2b" x="164.4" y="683.7"/><use href="#k2b" x="165.3" y="679.9"/><use href="#k2b" x="170.7" y="697.2"/><use href="#k2b" x="194.3" y="638.0"/><use href="#k2b" x="172.2" y="641.4"/><use href="#k2b" x="215.2" y="700.7"/><use href="#k2b" x="169.6" y="706.8"/><use href="#k2b" x="178.7" y="670.0"/><use href="#k2b" x="193.2" y="704.1"/><use href="#k2b" x="229.8" y="653.1"/><use href="#k2b" x="238.0" y="660.3"/><use href="#k2b" x="175.7" y="640.2"/><use href="#k2b" x="188.0" y="693.9"/><use href="#k2b" x="230.4" y="685.9"/><use href="#k2b" x="142.0" y="685.1"/><use href="#k2b" x="150.0" y="637.8"/><use href="#k2b" x="249.4" y="667.1"/><use href="#k2b" x="200.7" y="639.1"/><use href="#k2b" x="152.0" y="635.7"/><use href="#k2b" x="143.2" y="689.7"/><use href="#k2b" x="198.9" y="631.5"/><use href="#k2b" x="164.0" y="621.6"/><use href="#k2b" x="235.1" y="653.6"/><use href="#k2b" x="198.0" y="647.1"/><use href="#k2b" x="151.2" y="673.5"/><use href="#k2b" x="166.2" y="715.8"/><use href="#k2b" x="217.0" y="661.6"/><use href="#k2b" x="177.2" y="696.9"/><use href="#k2b" x="169.2" y="715.6"/><use href="#k2b" x="142.5" y="668.0"/><use href="#k2b" x="162.7" y="656.6"/><use href="#k2a" x="216.6" y="663.2"/><use href="#k2a" x="176.0" y="641.3"/><use href="#k2a" x="217.1" y="651.1"/><use href="#k2a" x="150.9" y="635.9"/><use href="#k2a" x="192.4" y="656.6"/><use href="#k2a" x="228.3" y="638.9"/><use href="#k2a" x="186.4" y="691.9"/><use href="#k2a" x="237.9" y="658.3"/><use href="#k2a" x="192.8" y="724.7"/><use href="#k2a" x="176.2" y="715.5"/><use href="#k2a" x="228.6" y="709.3"/><use href="#k2a" x="250.2" y="679.8"/><use href="#k2a" x="156.2" y="693.8"/><use href="#k2a" x="182.7" y="711.0"/><use href="#k2a" x="159.1" y="658.7"/><use href="#k2a" x="176.3" y="631.9"/><use href="#k2a" x="244.8" y="698.8"/><use href="#k2a" x="199.8" y="679.0"/><use href="#k2a" x="180.1" y="648.2"/><use href="#k2a" x="151.2" y="696.5"/><use href="#k2a" x="152.1" y="662.2"/><use href="#k2a" x="245.5" y="666.0"/><use href="#k2a" x="147.2" y="677.0"/><use href="#k2a" x="236.3" y="673.4"/><use href="#k2a" x="173.4" y="643.7"/><use href="#k2a" x="250.6" y="683.4"/><use href="#k2a" x="201.9" y="697.0"/><use href="#k2a" x="212.1" y="650.6"/><use href="#k2a" x="242.8" y="645.0"/><use href="#k2a" x="230.2" y="677.1"/><use href="#k2a" x="201.9" y="660.3"/><use href="#k2a" x="207.5" y="707.1"/><use href="#k2a" x="158.8" y="702.1"/><use href="#k2a" x="195.9" y="696.2"/><use href="#k2a" x="194.2" y="683.3"/><use href="#k2a" x="231.4" y="639.3"/><use href="#k2a" x="196.1" y="665.1"/><use href="#k2a" x="211.6" y="646.0"/><use href="#k2a" x="174.7" y="664.1"/><use href="#k2a" x="166.3" y="713.3"/><use href="#k2a" x="162.1" y="700.1"/><use href="#k2a" x="219.1" y="714.5"/><use href="#k2a" x="229.3" y="642.3"/><use href="#k2a" x="161.3" y="708.9"/><use href="#k2a" x="170.8" y="666.7"/><use href="#k2a" x="178.6" y="619.9"/><use href="#k2a" x="198.4" y="633.2"/><use href="#k2a" x="202.6" y="679.7"/><use href="#k2a" x="175.3" y="687.8"/><use href="#k2a" x="145.9" y="660.2"/><use href="#k2a" x="175.6" y="621.4"/><use href="#k2a" x="204.0" y="652.7"/><use href="#k2a" x="218.0" y="678.6"/><use href="#k2a" x="237.8" y="639.0"/><use href="#k2a" x="190.2" y="696.2"/><use href="#k2a" x="247.7" y="688.2"/><use href="#k2a" x="213.7" y="704.0"/><use href="#k2a" x="166.2" y="686.1"/><use href="#k2a" x="143.4" y="655.0"/><use href="#k2a" x="229.9" y="659.8"/><use href="#k2a" x="215.3" y="688.9"/><use href="#k2a" x="151.4" y="680.3"/><use href="#k2a" x="241.4" y="683.0"/><use href="#k2a" x="175.9" y="692.2"/><use href="#k2a" x="212.3" y="669.8"/><use href="#k2a" x="217.7" y="700.6"/><use href="#k2a" x="190.1" y="662.8"/><use href="#k2a" x="173.1" y="660.3"/><use href="#k2a" x="191.7" y="722.0"/><use href="#k2a" x="155.6" y="649.1"/><use href="#k2a" x="164.2" y="709.2"/><use href="#k2a" x="171.6" y="655.5"/><use href="#k2a" x="177.9" y="679.1"/><use href="#k2a" x="175.1" y="624.9"/><use href="#k2a" x="195.4" y="674.1"/><use href="#k2a" x="226.4" y="715.2"/><use href="#k2a" x="194.8" y="706.9"/><use href="#k2a" x="149.8" y="683.3"/><use href="#k2a" x="243.3" y="690.9"/><use href="#k2a" x="151.0" y="689.5"/><use href="#k2a" x="201.8" y="719.7"/><use href="#k2a" x="185.8" y="675.2"/><use href="#k2a" x="171.8" y="704.4"/><use href="#k2a" x="229.0" y="712.1"/><use href="#k2a" x="235.4" y="641.9"/><use href="#k2a" x="248.7" y="652.7"/><use href="#k2a" x="161.5" y="679.3"/><use href="#k2a" x="236.4" y="688.9"/><use href="#k2a" x="217.8" y="640.5"/><use href="#k2a" x="202.2" y="646.0"/><use href="#k2a" x="186.4" y="713.7"/><use href="#k2a" x="246.2" y="682.0"/><use href="#k2a" x="173.2" y="675.3"/><use href="#k2a" x="192.5" y="718.5"/><use href="#k2a" x="208.3" y="625.0"/><use href="#k2a" x="191.9" y="634.3"/><use href="#k2a" x="220.3" y="650.6"/><use href="#k2a" x="250.4" y="672.4"/><use href="#k2a" x="217.8" y="672.2"/><use href="#k2a" x="200.4" y="702.4"/><use href="#k2a" x="180.2" y="645.2"/><use href="#k2a" x="218.3" y="690.4"/><use href="#k2a" x="183.5" y="702.5"/><use href="#k2a" x="201.2" y="690.7"/><use href="#k2a" x="220.8" y="657.4"/><use href="#k2a" x="244.7" y="669.2"/><use href="#k2a" x="167.6" y="666.3"/><use href="#k2a" x="190.5" y="679.7"/><use href="#k2a" x="168.6" y="661.7"/><use href="#k2a" x="211.5" y="679.8"/><use href="#k2a" x="141.8" y="669.3"/><use href="#k2a" x="240.4" y="690.4"/><use href="#k2a" x="246.1" y="658.0"/><use href="#k2a" x="199.0" y="619.5"/><use href="#k2a" x="180.1" y="676.0"/><use href="#k2a" x="149.9" y="655.4"/><use href="#k2a" x="140.1" y="655.1"/><use href="#k2a" x="159.2" y="643.6"/><use href="#k2a" x="166.1" y="691.3"/><use href="#k2a" x="164.1" y="654.0"/><use href="#k2a" x="242.4" y="674.0"/><use href="#k2a" x="196.4" y="657.9"/><use href="#k2a" x="183.5" y="641.0"/><use href="#k2a" x="154.6" y="703.1"/><use href="#k2a" x="163.1" y="690.7"/><use href="#k2a" x="206.7" y="680.3"/><use href="#k2a" x="182.8" y="713.9"/><use href="#k2a" x="237.6" y="647.3"/><use href="#k2a" x="220.9" y="695.3"/><use href="#k2a" x="178.5" y="665.5"/><use href="#k2a" x="204.2" y="631.5"/><use href="#k2a" x="145.7" y="667.8"/><use href="#k2a" x="197.8" y="686.0"/><use href="#k2a" x="225.6" y="646.4"/><use href="#k2a" x="162.6" y="649.7"/><use href="#k2a" x="232.6" y="641.7"/><use href="#k2a" x="230.8" y="694.3"/><use href="#k2a" x="173.3" y="708.7"/><use href="#k2a" x="243.9" y="660.3"/><use href="#k2a" x="164.5" y="629.0"/><use href="#k2a" x="179.4" y="616.5"/><use href="#k2a" x="174.2" y="679.0"/><use href="#k2a" x="212.9" y="617.4"/><use href="#k2a" x="236.4" y="693.9"/><use href="#k2a" x="224.2" y="623.8"/><use href="#k2a" x="240.2" y="680.2"/><use href="#k2a" x="220.7" y="684.5"/><use href="#k2a" x="218.9" y="643.9"/><use href="#k2a" x="188.2" y="704.8"/><use href="#k2a" x="209.1" y="648.6"/><use href="#k2a" x="168.7" y="621.7"/><use href="#k2a" x="230.4" y="702.9"/><use href="#k2a" x="217.5" y="706.4"/><use href="#k2a" x="225.4" y="668.0"/><use href="#k2a" x="176.0" y="648.3"/><use href="#k2a" x="179.0" y="633.3"/><use href="#k2a" x="223.2" y="627.5"/><use href="#k2a" x="209.8" y="620.3"/><use href="#k2a" x="195.3" y="670.4"/><use href="#k2a" x="237.0" y="698.1"/><use href="#k2a" x="210.4" y="665.8"/><use href="#k2a" x="232.1" y="634.6"/><use href="#k2a" x="173.5" y="668.8"/><use href="#k2a" x="163.0" y="671.6"/><use href="#k2a" x="174.1" y="721.3"/><use href="#k2a" x="231.2" y="624.0"/><use href="#k2a" x="158.2" y="682.8"/><use href="#k2a" x="203.2" y="648.8"/><use href="#k2a" x="233.0" y="659.4"/><use href="#k2a" x="187.4" y="619.0"/><use href="#k2a" x="191.6" y="646.3"/><use href="#k2a" x="179.4" y="653.9"/><use href="#k2a" x="198.4" y="637.6"/><use href="#k2a" x="210.5" y="711.8"/><use href="#k2a" x="223.9" y="711.7"/><use href="#k2a" x="197.7" y="660.6"/><use href="#k2a" x="143.0" y="647.2"/><use href="#k2a" x="236.2" y="663.8"/><use href="#k2a" x="225.7" y="684.2"/><use href="#k2a" x="213.7" y="661.2"/><use href="#k2a" x="170.7" y="659.0"/><use href="#k2a" x="204.3" y="664.3"/><use href="#k2a" x="212.4" y="635.1"/><use href="#k2a" x="170.1" y="625.1"/><use href="#k2a" x="182.0" y="651.7"/><use href="#k2a" x="189.8" y="699.1"/><use href="#k2a" x="165.8" y="651.3"/><use href="#k2a" x="166.1" y="623.4"/><use href="#k2a" x="199.3" y="668.6"/><use href="#k2a" x="161.8" y="641.0"/><use href="#k2a" x="219.2" y="619.3"/><use href="#k2a" x="224.4" y="638.7"/><use href="#k2a" x="145.9" y="692.3"/><use href="#k2a" x="207.5" y="698.3"/><use href="#k2a" x="212.2" y="714.3"/><use href="#k2a" x="162.5" y="685.6"/><use href="#k2a" x="189.6" y="623.2"/><use href="#k2a" x="198.0" y="708.6"/><use href="#k2a" x="227.7" y="633.1"/><use href="#k2a" x="221.0" y="640.8"/><use href="#k2a" x="237.9" y="631.8"/><use href="#k2a" x="227.8" y="686.8"/><use href="#k2a" x="170.1" y="635.4"/><use href="#k2a" x="152.5" y="631.5"/><use href="#k2a" x="201.3" y="664.6"/><use href="#k2a" x="160.5" y="654.5"/><use href="#k2a" x="219.0" y="622.4"/><use href="#k2a" x="234.7" y="649.4"/><use href="#k2a" x="158.6" y="669.6"/><use href="#k2a" x="152.9" y="686.8"/><use href="#k2a" x="231.4" y="672.7"/><use href="#k2a" x="220.9" y="661.0"/><use href="#k2a" x="201.0" y="615.9"/><use href="#k2a" x="189.9" y="711.2"/><use href="#k2a" x="168.1" y="630.2"/><use href="#k2a" x="160.6" y="712.5"/><use href="#k2a" x="208.3" y="653.0"/><use href="#k2a" x="235.0" y="667.0"/><use href="#k2a" x="196.9" y="643.6"/><use href="#k2a" x="161.3" y="628.8"/><use href="#k2a" x="222.0" y="707.9"/><use href="#k2a" x="167.6" y="659.0"/><use href="#k2a" x="178.2" y="684.2"/><use href="#k2a" x="205.1" y="717.0"/><use href="#k2a" x="177.1" y="719.7"/><use href="#k2a" x="204.6" y="712.0"/><use href="#k2a" x="175.7" y="628.4"/><use href="#k2a" x="234.0" y="677.7"/><use href="#k2a" x="211.3" y="701.8"/><use href="#k2a" x="203.2" y="724.4"/><use href="#k2a" x="144.2" y="679.5"/><use href="#k2a" x="178.5" y="626.7"/><use href="#k2a" x="245.6" y="684.7"/><use href="#k2a" x="189.4" y="715.6"/><use href="#k2a" x="182.9" y="675.1"/><use href="#k2a" x="182.6" y="707.6"/><use href="#k2a" x="206.4" y="675.8"/><use href="#k2a" x="216.8" y="719.2"/><use href="#k2a" x="176.6" y="643.1"/><use href="#k2a" x="193.6" y="715.4"/><use href="#k2a" x="214.4" y="644.7"/><use href="#k2a" x="204.6" y="699.9"/><use href="#k2a" x="155.9" y="629.5"/><use href="#k2a" x="183.1" y="685.4"/><use href="#k2a" x="184.8" y="638.0"/><use href="#k2a" x="231.1" y="630.3"/><use href="#k2a" x="185.2" y="647.4"/><use href="#k2a" x="209.1" y="719.2"/><use href="#k2a" x="229.7" y="680.7"/><use href="#k2a" x="215.6" y="619.4"/><use href="#k2a" x="195.9" y="680.1"/><use href="#k2a" x="167.0" y="682.2"/><use href="#k2a" x="206.7" y="672.3"/><use href="#k2a" x="156.5" y="635.6"/><use href="#k2a" x="170.0" y="699.9"/><use href="#k2a" x="195.2" y="633.6"/><use href="#k2a" x="201.3" y="695.8"/><use href="#k2a" x="241.0" y="645.2"/><use href="#k2a" x="197.1" y="667.0"/><use href="#k2a" x="188.3" y="628.8"/><use href="#k2a" x="141.0" y="672.6"/><use href="#k2a" x="172.4" y="621.2"/><use href="#k2a" x="180.9" y="687.1"/><use href="#k2a" x="175.7" y="703.9"/><use href="#k2a" x="151.1" y="641.8"/><use href="#k2a" x="147.8" y="697.2"/><use href="#k2a" x="197.8" y="695.7"/><use href="#k2a" x="252.4" y="667.1"/><use href="#k2a" x="239.2" y="634.3"/><use href="#k2a" x="191.0" y="694.5"/><use href="#k2a" x="222.6" y="665.1"/><use href="#k2a" x="209.2" y="657.2"/><use href="#k2a" x="209.1" y="682.2"/><use href="#k2a" x="189.2" y="687.4"/><use href="#k2a" x="209.6" y="715.0"/><use href="#k2a" x="162.9" y="644.1"/><use href="#k2a" x="159.4" y="662.0"/><use href="#k2a" x="177.5" y="661.4"/><use href="#k2a" x="197.2" y="677.5"/><use href="#k2a" x="205.5" y="685.3"/><use href="#k2a" x="187.3" y="721.5"/><use href="#k2a" x="224.4" y="649.6"/><use href="#k2a" x="192.6" y="612.6"/><use href="#k2a" x="182.1" y="637.6"/><use href="#k2a" x="197.3" y="700.9"/><use href="#k2a" x="221.1" y="634.9"/><use href="#k2a" x="193.6" y="661.9"/><use href="#k2a" x="190.1" y="643.2"/><use href="#k2a" x="154.6" y="660.3"/><use href="#k2a" x="154.1" y="674.9"/><use href="#k2a" x="185.3" y="655.1"/><use href="#k2a" x="175.0" y="714.9"/><use href="#k2a" x="241.0" y="639.1"/><use href="#k2a" x="159.3" y="638.1"/><use href="#k2a" x="212.6" y="693.0"/><use href="#k2a" x="245.9" y="648.1"/><use href="#k2a" x="182.0" y="723.5"/><use href="#k2a" x="145.7" y="647.0"/><use href="#k2a" x="214.8" y="690.0"/><use href="#k2a" x="187.3" y="639.7"/><use href="#k2a" x="229.5" y="638.9"/><use href="#k2a" x="155.5" y="648.3"/><use href="#k2a" x="205.4" y="708.8"/><use href="#k2a" x="179.2" y="709.6"/><use href="#k2a" x="213.4" y="704.6"/><use href="#k2a" x="194.4" y="665.7"/><use href="#k2a" x="202.6" y="721.6"/><use href="#k2a" x="185.1" y="650.4"/><use href="#k2a" x="171.1" y="646.6"/><use href="#k2a" x="199.8" y="717.3"/><use href="#k2a" x="162.1" y="662.9"/><use href="#k2a" x="163.0" y="701.4"/><use href="#k2a" x="219.8" y="709.7"/><use href="#k2a" x="231.6" y="661.7"/><use href="#k2a" x="181.2" y="627.4"/><use href="#k2a" x="214.0" y="664.4"/><use href="#k2a" x="217.2" y="646.9"/><use href="#k2a" x="215.1" y="678.6"/><use href="#k2a" x="175.2" y="633.4"/><use href="#k2a" x="165.8" y="676.2"/><use href="#k2a" x="244.4" y="670.6"/><use href="#k2a" x="214.9" y="715.7"/><use href="#k2a" x="168.5" y="661.7"/><use href="#k2a" x="212.7" y="680.4"/><use href="#k2a" x="168.3" y="718.2"/><use href="#k2a" x="186.0" y="678.3"/><use href="#k2a" x="203.1" y="645.0"/><use href="#k2a" x="153.1" y="681.5"/></g></g><g mask="url(#m3k)"><g filter="url(#kb)"><ellipse cx="320.75" cy="672.0" rx="64.75" ry="58.0" fill="url(#m3b)"/><use href="#k3d" x="274.2" y="652.3"/><use href="#k3d" x="334.7" y="644.1"/><use href="#k3d" x="285.4" y="627.3"/><use href="#k3d" x="344.2" y="658.4"/><use href="#k3d" x="291.3" y="634.9"/><use href="#k3d" x="257.1" y="670.8"/><use href="#k3d" x="278.2" y="665.2"/><use href="#k3d" x="369.2" y="655.9"/><use href="#k3d" x="309.3" y="702.6"/><use href="#k3d" x="305.9" y="672.3"/><use href="#k3d" x="277.4" y="640.9"/><use href="#k3d" x="267.5" y="695.9"/><use href="#k3d" x="364.2" y="653.1"/><use href="#k3d" x="311.5" y="654.0"/><use href="#k3d" x="380.9" y="691.8"/><use href="#k3d" x="314.3" y="698.2"/><use href="#k3d" x="365.4" y="641.6"/><use href="#k3d" x="347.0" y="695.0"/><use href="#k3d" x="322.3" y="702.3"/><use href="#k3d" x="367.6" y="673.7"/><use href="#k3d" x="307.1" y="706.3"/><use href="#k3d" x="329.2" y="689.7"/><use href="#k3d" x="380.0" y="683.1"/><use href="#k3d" x="319.9" y="628.6"/><use href="#k3d" x="338.5" y="687.7"/><use href="#k3d" x="347.4" y="694.3"/><use href="#k3d" x="352.5" y="682.8"/><use href="#k3d" x="329.0" y="696.4"/><use href="#k3d" x="295.8" y="639.7"/><use href="#k3d" x="282.5" y="677.8"/><use href="#k3d" x="265.1" y="659.5"/><use href="#k3d" x="314.6" y="686.4"/><use href="#k3d" x="281.2" y="676.2"/><use href="#k3d" x="324.9" y="653.0"/><use href="#k3d" x="326.2" y="666.9"/><use href="#k3d" x="279.1" y="661.9"/><use href="#k3d" x="296.4" y="722.1"/><use href="#k3d" x="313.0" y="649.6"/><use href="#k3d" x="270.1" y="673.4"/><use href="#k3d" x="339.5" y="675.6"/><use href="#k3d" x="276.4" y="642.4"/><use href="#k3d" x="279.8" y="680.8"/><use href="#k3d" x="287.7" y="670.7"/><use href="#k3d" x="366.1" y="632.2"/><use href="#k3d" x="311.5" y="672.9"/><use href="#k3d" x="274.4" y="703.3"/><use href="#k3d" x="311.2" y="688.8"/><use href="#k3d" x="342.4" y="716.9"/><use href="#k3d" x="295.8" y="650.5"/><use href="#k3d" x="280.5" y="636.6"/><use href="#k3d" x="378.5" y="660.8"/><use href="#k3d" x="267.4" y="693.0"/><use href="#k3d" x="374.6" y="647.6"/><use href="#k3d" x="320.9" y="627.6"/><use href="#k3d" x="261.2" y="668.2"/><use href="#k3d" x="281.9" y="637.2"/><use href="#k3d" x="323.5" y="689.4"/><use href="#k3d" x="314.4" y="715.9"/><use href="#k3d" x="294.9" y="660.6"/><use href="#k3d" x="344.5" y="724.4"/><use href="#k3a" x="325.0" y="665.6"/><use href="#k3a" x="346.1" y="684.9"/><use href="#k3a" x="300.6" y="650.4"/><use href="#k3a" x="353.9" y="688.0"/><use href="#k3a" x="309.7" y="720.4"/><use href="#k3a" x="275.1" y="707.7"/><use href="#k3a" x="300.7" y="654.4"/><use href="#k3a" x="337.2" y="694.7"/><use href="#k3a" x="341.4" y="702.8"/><use href="#k3a" x="340.3" y="684.2"/><use href="#k3a" x="358.8" y="647.0"/><use href="#k3a" x="274.5" y="661.3"/><use href="#k3a" x="307.5" y="688.2"/><use href="#k3a" x="301.3" y="711.2"/><use href="#k3a" x="338.0" y="642.6"/><use href="#k3a" x="335.5" y="618.6"/><use href="#k3a" x="317.4" y="657.8"/><use href="#k3a" x="295.8" y="722.4"/><use href="#k3a" x="282.2" y="669.7"/><use href="#k3a" x="321.4" y="686.5"/><use href="#k3a" x="286.7" y="685.9"/><use href="#k3a" x="346.5" y="718.8"/><use href="#k3a" x="297.9" y="640.9"/><use href="#k3a" x="321.2" y="665.7"/><use href="#k3a" x="356.2" y="665.0"/><use href="#k3a" x="311.3" y="657.6"/><use href="#k3a" x="318.1" y="616.6"/><use href="#k3a" x="304.6" y="633.7"/><use href="#k3a" x="281.5" y="630.0"/><use href="#k3a" x="266.8" y="657.4"/><use href="#k3a" x="305.9" y="639.8"/><use href="#k3a" x="317.9" y="671.7"/><use href="#k3a" x="340.5" y="632.4"/><use href="#k3a" x="324.5" y="691.3"/><use href="#k3a" x="325.6" y="679.8"/><use href="#k3a" x="339.5" y="618.1"/><use href="#k3a" x="347.3" y="711.9"/><use href="#k3a" x="297.9" y="686.3"/><use href="#k3a" x="260.1" y="676.6"/><use href="#k3a" x="346.6" y="652.5"/><use href="#k3a" x="344.1" y="669.2"/><use href="#k3a" x="323.1" y="671.1"/><use href="#k3a" x="359.8" y="713.0"/><use href="#k3a" x="328.8" y="684.8"/><use href="#k3a" x="265.0" y="683.1"/><use href="#k3a" x="273.0" y="697.3"/><use href="#k3a" x="296.3" y="621.4"/><use href="#k3a" x="284.7" y="658.8"/><use href="#k3a" x="315.9" y="724.9"/><use href="#k3a" x="350.3" y="656.7"/><use href="#k3a" x="333.5" y="682.0"/><use href="#k3a" x="326.7" y="636.6"/><use href="#k3a" x="367.2" y="711.3"/><use href="#k3a" x="285.6" y="705.5"/><use href="#k3a" x="310.4" y="641.0"/><use href="#k3a" x="280.0" y="651.1"/><use href="#k3a" x="354.8" y="720.2"/><use href="#k3a" x="372.2" y="684.1"/><use href="#k3a" x="351.3" y="669.8"/><use href="#k3a" x="312.9" y="616.6"/><use href="#k3a" x="307.8" y="699.6"/><use href="#k3a" x="315.7" y="698.6"/><use href="#k3a" x="306.9" y="619.4"/><use href="#k3a" x="263.2" y="660.0"/><use href="#k3a" x="375.9" y="657.0"/><use href="#k3a" x="293.3" y="647.3"/><use href="#k3a" x="295.2" y="643.2"/><use href="#k3a" x="302.4" y="636.1"/><use href="#k3a" x="337.4" y="671.1"/><use href="#k3a" x="304.0" y="696.7"/><use href="#k3a" x="358.1" y="707.1"/><use href="#k3a" x="269.4" y="668.5"/><use href="#k3a" x="323.3" y="688.6"/><use href="#k3a" x="372.7" y="653.2"/><use href="#k3a" x="269.9" y="678.9"/><use href="#k3a" x="305.3" y="674.6"/><use href="#k3a" x="330.7" y="641.0"/><use href="#k3a" x="347.6" y="659.8"/><use href="#k3a" x="283.3" y="637.3"/><use href="#k3a" x="331.8" y="651.1"/><use href="#k3a" x="333.8" y="657.7"/><use href="#k3a" x="317.2" y="665.6"/><use href="#k3a" x="349.0" y="632.4"/><use href="#k3a" x="375.0" y="684.5"/><use href="#k3a" x="333.1" y="678.9"/><use href="#k3a" x="373.0" y="702.6"/><use href="#k3a" x="351.1" y="642.2"/><use href="#k3a" x="355.8" y="716.3"/><use href="#k3a" x="304.1" y="727.6"/><use href="#k3a" x="297.4" y="683.6"/><use href="#k3a" x="371.3" y="681.7"/><use href="#k3a" x="277.8" y="630.4"/><use href="#k3a" x="347.5" y="641.6"/><use href="#k3a" x="260.7" y="670.6"/><use href="#k3a" x="267.6" y="686.8"/><use href="#k3a" x="266.1" y="645.0"/><use href="#k3a" x="349.3" y="713.7"/><use href="#k3a" x="304.4" y="662.5"/><use href="#k3a" x="280.3" y="671.6"/><use href="#k3a" x="319.7" y="673.5"/><use href="#k3a" x="286.0" y="682.4"/><use href="#k3a" x="311.6" y="729.1"/><use href="#k3a" x="360.3" y="671.9"/><use href="#k3a" x="308.8" y="682.2"/><use href="#k3a" x="292.0" y="723.7"/><use href="#k3a" x="350.6" y="695.9"/><use href="#k3a" x="290.7" y="641.1"/><use href="#k3a" x="356.0" y="683.0"/><use href="#k3a" x="338.7" y="636.5"/><use href="#k3a" x="279.5" y="715.8"/><use href="#k3a" x="342.5" y="666.6"/><use href="#k3a" x="324.4" y="714.2"/><use href="#k3a" x="293.0" y="629.7"/><use href="#k3a" x="272.7" y="676.3"/><use href="#k3a" x="270.4" y="684.2"/><use href="#k3a" x="322.8" y="617.6"/><use href="#k3a" x="287.5" y="653.5"/><use href="#k3a" x="294.9" y="637.1"/><use href="#k3a" x="292.4" y="700.7"/><use href="#k3a" x="291.4" y="672.0"/><use href="#k3a" x="370.1" y="635.6"/><use href="#k3a" x="330.9" y="695.9"/><use href="#k3a" x="261.5" y="666.3"/><use href="#k3a" x="284.9" y="645.5"/><use href="#k3a" x="331.4" y="653.9"/><use href="#k3a" x="295.8" y="701.1"/><use href="#k3a" x="276.4" y="686.1"/><use href="#k3a" x="266.5" y="664.1"/><use href="#k3a" x="341.9" y="644.4"/><use href="#k3a" x="363.1" y="669.5"/><use href="#k3a" x="304.1" y="701.4"/><use href="#k3a" x="342.2" y="635.3"/><use href="#k3a" x="344.3" y="721.2"/><use href="#k3a" x="278.8" y="700.4"/><use href="#k3a" x="363.1" y="662.8"/><use href="#k3a" x="334.7" y="672.7"/><use href="#k3a" x="289.0" y="673.6"/><use href="#k3a" x="313.4" y="701.3"/><use href="#k3a" x="275.0" y="644.3"/><use href="#k3a" x="317.5" y="691.4"/><use href="#k3a" x="277.0" y="669.9"/><use href="#k3a" x="266.4" y="671.4"/><use href="#k3a" x="281.9" y="641.9"/><use href="#k3a" x="297.7" y="618.5"/><use href="#k3a" x="339.6" y="708.0"/><use href="#k3a" x="308.3" y="615.3"/><use href="#k3a" x="257.5" y="676.9"/><use href="#k3a" x="302.3" y="631.4"/><use href="#k3a" x="332.2" y="662.0"/><use href="#k3a" x="290.9" y="632.7"/><use href="#k3a" x="295.5" y="669.3"/><use href="#k3a" x="377.0" y="699.1"/><use href="#k3a" x="316.5" y="661.7"/><use href="#k3a" x="356.7" y="655.8"/><use href="#k3a" x="322.5" y="699.3"/><use href="#k3a" x="354.5" y="653.3"/><use href="#k3a" x="302.7" y="725.2"/><use href="#k3a" x="291.3" y="662.6"/><use href="#k3a" x="363.0" y="693.4"/><use href="#k3a" x="284.1" y="664.3"/><use href="#k3a" x="357.0" y="686.7"/><use href="#k3a" x="348.3" y="702.6"/><use href="#k3a" x="312.1" y="662.6"/><use href="#k3a" x="314.4" y="627.6"/><use href="#k3a" x="306.5" y="676.9"/><use href="#k3a" x="315.0" y="631.7"/><use href="#k3a" x="315.7" y="693.5"/><use href="#k3a" x="298.4" y="635.6"/><use href="#k3a" x="337.1" y="650.9"/><use href="#k3a" x="349.4" y="722.9"/><use href="#k3a" x="288.3" y="628.5"/><use href="#k3a" x="337.1" y="712.9"/><use href="#k3a" x="370.2" y="661.0"/><use href="#k3a" x="339.3" y="676.6"/><use href="#k3a" x="348.2" y="693.3"/><use href="#k3a" x="266.3" y="678.3"/><use href="#k3a" x="274.1" y="700.4"/><use href="#k3a" x="346.0" y="675.7"/><use href="#k3a" x="263.9" y="667.7"/><use href="#k3a" x="326.8" y="710.2"/><use href="#k3a" x="301.9" y="642.5"/><use href="#k3a" x="309.4" y="694.9"/><use href="#k3a" x="289.5" y="625.3"/><use href="#k3a" x="328.9" y="633.7"/><use href="#k3a" x="257.5" y="673.7"/><use href="#k3a" x="344.8" y="681.4"/><use href="#k3a" x="258.1" y="665.7"/><use href="#k3a" x="331.0" y="644.6"/><use href="#k3a" x="311.3" y="716.6"/><use href="#k3a" x="305.4" y="683.8"/><use href="#k3a" x="344.5" y="711.2"/><use href="#k3a" x="355.5" y="696.8"/><use href="#k3a" x="345.5" y="657.8"/><use href="#k3a" x="357.9" y="660.2"/><use href="#k3a" x="345.8" y="633.3"/><use href="#k3a" x="294.6" y="674.4"/><use href="#k3a" x="323.8" y="675.0"/><use href="#k3a" x="337.5" y="688.7"/><use href="#k3a" x="383.4" y="672.0"/><use href="#k3a" x="352.9" y="702.3"/><use href="#k3a" x="376.3" y="671.7"/><use href="#k3a" x="304.3" y="654.9"/><use href="#k3a" x="347.2" y="638.4"/><use href="#k3a" x="367.8" y="699.6"/><use href="#k3a" x="354.5" y="710.4"/><use href="#k3a" x="370.9" y="696.8"/><use href="#k3a" x="274.3" y="691.7"/><use href="#k3a" x="360.4" y="651.6"/><use href="#k3a" x="334.3" y="686.4"/><use href="#k3a" x="293.7" y="706.8"/><use href="#k3a" x="323.5" y="638.7"/><use href="#k3a" x="357.4" y="653.1"/><use href="#k3a" x="370.1" y="708.7"/><use href="#k3a" x="306.1" y="643.6"/><use href="#k3a" x="334.2" y="635.9"/><use href="#k3a" x="374.4" y="674.3"/><use href="#k3a" x="281.0" y="668.4"/><use href="#k3a" x="359.0" y="657.4"/><use href="#k3a" x="263.5" y="677.6"/><use href="#k3a" x="300.9" y="617.8"/><use href="#k3a" x="321.8" y="614.1"/><use href="#k3a" x="354.6" y="623.8"/><use href="#k3a" x="335.7" y="642.7"/><use href="#k3a" x="364.2" y="703.4"/><use href="#k3a" x="309.0" y="630.0"/><use href="#k3a" x="277.7" y="647.3"/><use href="#k3a" x="334.2" y="623.3"/><use href="#k3a" x="325.3" y="697.3"/><use href="#k3a" x="338.1" y="646.2"/><use href="#k3a" x="377.9" y="686.7"/><use href="#k3a" x="375.3" y="659.6"/><use href="#k3a" x="366.3" y="666.4"/><use href="#k3a" x="318.3" y="715.8"/><use href="#k3a" x="260.1" y="656.3"/><use href="#k3a" x="331.6" y="674.5"/><use href="#k3a" x="328.4" y="620.5"/><use href="#k3a" x="342.4" y="699.4"/><use href="#k3a" x="296.1" y="697.8"/><use href="#k3a" x="271.5" y="702.4"/><use href="#k3a" x="327.0" y="693.4"/><use href="#k3a" x="296.8" y="722.7"/><use href="#k3a" x="303.8" y="689.6"/><use href="#k3a" x="384.5" y="667.3"/><use href="#k3a" x="284.8" y="653.0"/><use href="#k3a" x="268.5" y="641.8"/><use href="#k3a" x="378.5" y="679.4"/><use href="#k3a" x="335.6" y="633.4"/><use href="#k3a" x="352.0" y="720.2"/><use href="#k3a" x="326.0" y="681.7"/><use href="#k3a" x="304.2" y="720.2"/><use href="#k3a" x="362.7" y="689.9"/><use href="#k3a" x="321.5" y="663.4"/><use href="#k3a" x="283.5" y="634.4"/><use href="#k3a" x="314.5" y="688.2"/><use href="#k3a" x="354.2" y="691.0"/><use href="#k3a" x="309.0" y="633.7"/><use href="#k3a" x="360.2" y="634.8"/><use href="#k3a" x="258.7" y="660.1"/><use href="#k3a" x="346.3" y="662.1"/><use href="#k3a" x="383.6" y="678.5"/><use href="#k3a" x="336.9" y="726.4"/><use href="#k3a" x="286.4" y="668.5"/><use href="#k3b" x="353.8" y="637.3"/><use href="#k3b" x="346.6" y="696.1"/><use href="#k3b" x="277.3" y="673.0"/><use href="#k3b" x="354.4" y="694.0"/><use href="#k3b" x="335.5" y="631.3"/><use href="#k3b" x="364.1" y="674.1"/><use href="#k3b" x="281.9" y="627.2"/><use href="#k3b" x="325.6" y="661.0"/><use href="#k3b" x="352.3" y="646.5"/><use href="#k3b" x="274.7" y="673.7"/><use href="#k3b" x="260.9" y="686.4"/><use href="#k3b" x="362.0" y="635.4"/><use href="#k3b" x="264.8" y="688.1"/><use href="#k3b" x="300.1" y="697.1"/><use href="#k3b" x="317.0" y="729.6"/><use href="#k3b" x="373.9" y="660.1"/><use href="#k3b" x="309.5" y="702.0"/><use href="#k3b" x="290.1" y="654.8"/><use href="#k3b" x="364.4" y="688.5"/><use href="#k3b" x="296.2" y="649.9"/><use href="#k3b" x="284.9" y="718.2"/><use href="#k3b" x="281.8" y="660.7"/><use href="#k3b" x="290.6" y="635.6"/><use href="#k3b" x="327.3" y="692.8"/><use href="#k3b" x="264.8" y="655.1"/><use href="#k3b" x="289.7" y="709.8"/><use href="#k3b" x="310.7" y="669.2"/><use href="#k3b" x="361.2" y="667.0"/><use href="#k3b" x="302.4" y="672.7"/><use href="#k3b" x="347.1" y="647.8"/><use href="#k3b" x="304.3" y="658.4"/><use href="#k3b" x="300.5" y="691.1"/><use href="#k3b" x="300.1" y="645.6"/><use href="#k3b" x="355.7" y="640.6"/><use href="#k3b" x="352.0" y="717.8"/><use href="#k3b" x="373.8" y="644.9"/><use href="#k3b" x="346.7" y="670.7"/><use href="#k3b" x="331.3" y="628.7"/><use href="#k3b" x="317.1" y="648.1"/><use href="#k3b" x="360.5" y="689.0"/><use href="#k3b" x="381.3" y="680.5"/><use href="#k3b" x="339.7" y="673.2"/><use href="#k3b" x="341.1" y="661.4"/><use href="#k3b" x="324.0" y="626.1"/><use href="#k3b" x="322.8" y="622.3"/><use href="#k3b" x="295.0" y="710.6"/><use href="#k3b" x="277.4" y="711.4"/><use href="#k3b" x="271.5" y="642.7"/><use href="#k3b" x="288.6" y="695.7"/><use href="#k3b" x="295.5" y="656.6"/><use href="#k3b" x="335.7" y="678.2"/><use href="#k3b" x="310.9" y="680.1"/><use href="#k3b" x="326.1" y="718.6"/><use href="#k3b" x="326.5" y="622.8"/><use href="#k3b" x="330.6" y="648.2"/><use href="#k3b" x="355.3" y="632.4"/><use href="#k3b" x="316.2" y="682.6"/><use href="#k3b" x="315.5" y="619.5"/><use href="#k3b" x="276.2" y="652.3"/><use href="#k3b" x="272.3" y="682.1"/><use href="#k3b" x="369.1" y="658.3"/><use href="#k3b" x="329.9" y="714.0"/><use href="#k3b" x="303.5" y="716.2"/><use href="#k3b" x="295.1" y="634.5"/><use href="#k3b" x="287.2" y="702.5"/><use href="#k3b" x="313.4" y="667.5"/><use href="#k3b" x="280.9" y="653.8"/><use href="#k3b" x="295.2" y="659.9"/><use href="#k3b" x="378.1" y="669.2"/><use href="#k3b" x="323.5" y="701.8"/><use href="#k3b" x="320.8" y="632.9"/><use href="#k3b" x="334.6" y="690.0"/><use href="#k3b" x="357.7" y="718.9"/><use href="#k3b" x="328.8" y="680.1"/><use href="#k3b" x="326.4" y="686.4"/><use href="#k3b" x="352.7" y="676.4"/><use href="#k3b" x="310.9" y="686.9"/><use href="#k3b" x="274.7" y="640.7"/><use href="#k3b" x="328.4" y="727.3"/><use href="#k3b" x="266.9" y="695.0"/><use href="#k3b" x="329.3" y="662.5"/><use href="#k3b" x="330.1" y="668.2"/><use href="#k3b" x="303.0" y="627.8"/><use href="#k3b" x="337.4" y="622.5"/><use href="#k3b" x="296.9" y="695.0"/><use href="#k3b" x="298.4" y="708.4"/><use href="#k3b" x="306.6" y="627.4"/><use href="#k3b" x="291.7" y="638.4"/><use href="#k3b" x="315.2" y="644.7"/><use href="#k3b" x="293.2" y="716.0"/><use href="#k3b" x="303.4" y="620.1"/><use href="#k3b" x="285.3" y="691.3"/><use href="#k3b" x="263.6" y="675.0"/><use href="#k3b" x="360.3" y="676.7"/><use href="#k3b" x="320.2" y="650.5"/><use href="#k3b" x="366.3" y="680.7"/><use href="#k3b" x="350.1" y="644.8"/><use href="#k3b" x="285.9" y="698.4"/><use href="#k3b" x="281.1" y="708.7"/><use href="#k3b" x="271.8" y="637.5"/><use href="#k3b" x="352.2" y="713.9"/><use href="#k3b" x="363.4" y="696.8"/><use href="#k3b" x="331.2" y="671.2"/><use href="#k3b" x="280.9" y="633.1"/><use href="#k3b" x="362.9" y="707.1"/><use href="#k3b" x="344.2" y="654.2"/><use href="#k3b" x="281.9" y="714.2"/><use href="#k3b" x="381.7" y="658.2"/><use href="#k3b" x="336.6" y="682.6"/><use href="#k3b" x="361.4" y="647.9"/><use href="#k3b" x="318.0" y="700.5"/><use href="#k3b" x="307.5" y="655.4"/><use href="#k3b" x="316.0" y="669.7"/><use href="#k3b" x="318.9" y="626.2"/><use href="#k3b" x="323.7" y="654.1"/><use href="#k3b" x="368.4" y="691.9"/><use href="#k3b" x="288.3" y="721.6"/><use href="#k3b" x="308.5" y="622.3"/><use href="#k3b" x="339.3" y="649.1"/><use href="#k3b" x="271.1" y="691.3"/><use href="#k3b" x="301.8" y="703.5"/><use href="#k3b" x="278.4" y="681.7"/><use href="#k3b" x="271.3" y="662.4"/><use href="#k3b" x="334.3" y="727.2"/><use href="#k3b" x="355.7" y="648.8"/><use href="#k3b" x="347.5" y="635.3"/><use href="#k3b" x="299.0" y="657.5"/><use href="#k3b" x="291.6" y="712.9"/><use href="#k3b" x="331.5" y="634.4"/><use href="#k3b" x="342.7" y="647.4"/><use href="#k3b" x="307.0" y="721.9"/><use href="#k3b" x="377.9" y="683.4"/><use href="#k3b" x="291.7" y="719.1"/><use href="#k3b" x="373.5" y="677.4"/><use href="#k3b" x="297.7" y="644.2"/><use href="#k3b" x="318.8" y="676.8"/><use href="#k3b" x="266.6" y="653.2"/><use href="#k3b" x="288.2" y="679.4"/><use href="#k3b" x="365.9" y="653.5"/><use href="#k3b" x="321.7" y="695.3"/><use href="#k3b" x="305.5" y="694.3"/><use href="#k3b" x="288.6" y="688.3"/><use href="#k3b" x="367.5" y="677.9"/><use href="#k3b" x="378.1" y="662.1"/><use href="#k3b" x="322.8" y="629.9"/><use href="#k3b" x="291.5" y="627.2"/><use href="#k3b" x="333.9" y="697.3"/><use href="#k3b" x="355.3" y="675.1"/><use href="#k3b" x="363.1" y="659.9"/><use href="#k3b" x="284.7" y="708.6"/><use href="#k3b" x="380.2" y="694.6"/><use href="#k3b" x="369.5" y="701.9"/><use href="#k3b" x="273.1" y="651.8"/><use href="#k3b" x="328.6" y="705.3"/><use href="#k3b" x="372.1" y="666.0"/><use href="#k3b" x="337.3" y="663.3"/><use href="#k3b" x="313.5" y="634.6"/><use href="#k3b" x="286.0" y="631.7"/><use href="#k3b" x="346.4" y="708.7"/><use href="#k3b" x="374.3" y="647.8"/><use href="#k3b" x="314.1" y="675.0"/><use href="#k3b" x="289.4" y="647.4"/><use href="#k3b" x="324.8" y="724.6"/><use href="#k3b" x="329.1" y="724.3"/><use href="#k3b" x="331.1" y="619.4"/><use href="#k3b" x="352.4" y="698.5"/><use href="#k3b" x="368.3" y="670.1"/><use href="#k3b" x="320.5" y="683.5"/><use href="#k3b" x="354.2" y="659.1"/><use href="#k3b" x="280.5" y="690.2"/><use href="#k3b" x="333.7" y="667.5"/><use href="#k3b" x="311.6" y="705.2"/><use href="#k3b" x="351.1" y="673.8"/><use href="#k3b" x="302.5" y="679.8"/><use href="#k3b" x="351.4" y="650.8"/><use href="#k3b" x="347.5" y="664.9"/><use href="#k3b" x="341.3" y="680.4"/><use href="#k3b" x="296.3" y="626.0"/><use href="#k3b" x="302.2" y="707.2"/><use href="#k3b" x="360.2" y="692.0"/><use href="#k3b" x="305.8" y="691.5"/><use href="#k3b" x="337.6" y="699.5"/><use href="#k3b" x="344.6" y="672.9"/><use href="#k3b" x="296.8" y="714.8"/><use href="#k3b" x="290.3" y="693.1"/><use href="#k3b" x="329.0" y="665.1"/><use href="#k3b" x="266.1" y="691.9"/><use href="#k3b" x="359.3" y="642.6"/><use href="#k3b" x="301.8" y="718.3"/><use href="#k3b" x="381.8" y="688.9"/><use href="#k3b" x="294.6" y="719.6"/><use href="#k3b" x="316.6" y="679.5"/><use href="#k3b" x="356.5" y="672.2"/><use href="#k3b" x="295.6" y="629.9"/><use href="#k3b" x="333.8" y="717.5"/><use href="#k3b" x="314.6" y="614.4"/><use href="#k3b" x="298.8" y="632.5"/><use href="#k3b" x="320.1" y="622.3"/><use href="#k3b" x="358.6" y="663.3"/><use href="#k3b" x="374.3" y="693.4"/><use href="#k3b" x="360.8" y="645.0"/><use href="#k3b" x="326.4" y="670.7"/><use href="#k3b" x="269.7" y="647.8"/><use href="#k3b" x="382.5" y="683.0"/><use href="#k3b" x="349.8" y="686.9"/><use href="#k3b" x="292.7" y="623.5"/><use href="#k3b" x="275.0" y="658.0"/><use href="#k3b" x="306.7" y="671.7"/><use href="#k3b" x="297.7" y="661.4"/><use href="#k3b" x="379.1" y="664.7"/><use href="#k3b" x="336.0" y="668.8"/><use href="#k3b" x="332.8" y="631.5"/><use href="#k3b" x="269.0" y="676.1"/><use href="#k3b" x="281.0" y="657.0"/><use href="#k3b" x="275.7" y="662.1"/><use href="#k3b" x="268.1" y="639.0"/><use href="#k3b" x="288.2" y="642.9"/><use href="#k3b" x="327.0" y="627.8"/><use href="#k3b" x="369.3" y="685.5"/><use href="#k3b" x="288.4" y="717.4"/><use href="#k3b" x="282.6" y="686.6"/><use href="#k3b" x="336.9" y="692.8"/><use href="#k3b" x="299.7" y="653.2"/><use href="#k3b" x="339.9" y="687.2"/><use href="#k3b" x="325.3" y="658.6"/><use href="#k3b" x="279.2" y="676.8"/><use href="#k3b" x="308.3" y="718.6"/><use href="#k3b" x="300.6" y="714.0"/><use href="#k3b" x="363.9" y="655.3"/><use href="#k3b" x="310.5" y="626.3"/><use href="#k3b" x="284.2" y="713.1"/><use href="#k3b" x="350.3" y="677.5"/><use href="#k3b" x="305.1" y="624.3"/><use href="#k3b" x="285.7" y="715.6"/><use href="#k3b" x="365.6" y="670.7"/><use href="#k3b" x="327.1" y="667.2"/><use href="#k3b" x="329.3" y="691.0"/><use href="#k3b" x="349.2" y="719.5"/><use href="#k3b" x="347.5" y="647.5"/><use href="#k3b" x="317.5" y="696.0"/><use href="#k3b" x="351.4" y="659.9"/><use href="#k3b" x="346.6" y="627.4"/><use href="#k3b" x="298.6" y="699.3"/><use href="#k3b" x="313.8" y="660.4"/><use href="#k3b" x="345.3" y="669.8"/><use href="#k3b" x="370.1" y="675.4"/><use href="#k3b" x="353.5" y="638.3"/><use href="#k3b" x="276.8" y="678.2"/><use href="#k3b" x="316.6" y="652.6"/><use href="#k3b" x="340.8" y="655.9"/><use href="#k3b" x="291.6" y="657.8"/><use href="#k3b" x="357.2" y="669.0"/><use href="#k3b" x="286.4" y="710.7"/><use href="#k3b" x="359.7" y="709.3"/><use href="#k3b" x="341.1" y="632.8"/><use href="#k3b" x="300.4" y="646.2"/><use href="#k3b" x="290.3" y="704.2"/><use href="#k3b" x="329.6" y="657.5"/></g></g><g mask="url(#m4k)"><g filter="url(#kb)"><ellipse cx="449.0" cy="669.75" rx="61.0" ry="57.25" fill="url(#m4b)"/><rect x="436.0" y="612.5" width="32" height="114.5" fill="url(#k4band)" transform="rotate(-7 452.0 669.75)"/><use href="#k4a" x="438.1" y="674.1"/><use href="#k4a" x="420.5" y="662.8"/><use href="#k4a" x="472.7" y="622.2"/><use href="#k4a" x="485.4" y="668.6"/><use href="#k4a" x="437.4" y="661.1"/><use href="#k4a" x="430.7" y="627.8"/><use href="#k4a" x="408.2" y="658.3"/><use href="#k4a" x="464.4" y="664.3"/><use href="#k4a" x="441.0" y="710.9"/><use href="#k4a" x="477.5" y="683.0"/><use href="#k4a" x="486.9" y="712.5"/><use href="#k4a" x="434.4" y="699.4"/><use href="#k4a" x="463.4" y="661.1"/><use href="#k4a" x="430.2" y="623.9"/><use href="#k4a" x="432.2" y="708.6"/><use href="#k4a" x="467.2" y="687.8"/><use href="#k4a" x="476.7" y="694.4"/><use href="#k4a" x="427.1" y="645.5"/><use href="#k4a" x="428.4" y="711.8"/><use href="#k4a" x="485.8" y="626.8"/><use href="#k4a" x="463.0" y="644.4"/><use href="#k4a" x="463.4" y="625.2"/><use href="#k4a" x="466.7" y="704.4"/><use href="#k4a" x="479.9" y="641.8"/><use href="#k4a" x="396.3" y="683.2"/><use href="#k4a" x="468.5" y="718.8"/><use href="#k4a" x="433.0" y="651.2"/><use href="#k4a" x="455.2" y="706.8"/><use href="#k4a" x="440.5" y="724.8"/><use href="#k4a" x="426.0" y="703.9"/><use href="#k4a" x="472.5" y="661.5"/><use href="#k4a" x="390.3" y="677.7"/><use href="#k4a" x="389.7" y="671.1"/><use href="#k4a" x="455.1" y="670.8"/><use href="#k4a" x="413.5" y="652.0"/><use href="#k4a" x="421.7" y="621.0"/><use href="#k4a" x="473.3" y="657.0"/><use href="#k4a" x="444.4" y="697.0"/><use href="#k4a" x="479.2" y="672.2"/><use href="#k4a" x="443.2" y="679.7"/><use href="#k4a" x="430.9" y="715.7"/><use href="#k4a" x="401.8" y="638.0"/><use href="#k4a" x="433.5" y="618.2"/><use href="#k4a" x="437.1" y="681.2"/><use href="#k4a" x="487.2" y="674.9"/><use href="#k4a" x="410.2" y="628.9"/><use href="#k4a" x="400.0" y="672.5"/><use href="#k4a" x="474.2" y="674.7"/><use href="#k4a" x="413.4" y="687.1"/><use href="#k4a" x="485.3" y="700.1"/><use href="#k4a" x="456.8" y="623.1"/><use href="#k4a" x="482.8" y="673.9"/><use href="#k4a" x="427.2" y="617.5"/><use href="#k4a" x="467.3" y="653.0"/><use href="#k4a" x="492.3" y="707.0"/><use href="#k4a" x="389.1" y="664.6"/><use href="#k4a" x="438.3" y="669.1"/><use href="#k4a" x="453.2" y="723.3"/><use href="#k4a" x="503.7" y="646.7"/><use href="#k4a" x="409.8" y="707.8"/><use href="#k4a" x="432.5" y="695.0"/><use href="#k4a" x="465.7" y="615.1"/><use href="#k4a" x="400.2" y="651.5"/><use href="#k4a" x="431.7" y="655.2"/><use href="#k4a" x="407.0" y="710.1"/><use href="#k4a" x="476.2" y="701.9"/><use href="#k4a" x="476.3" y="691.1"/><use href="#k4a" x="425.3" y="675.4"/><use href="#k4a" x="465.7" y="711.1"/><use href="#k4a" x="471.9" y="645.9"/><use href="#k4a" x="424.2" y="711.1"/><use href="#k4a" x="484.0" y="665.7"/><use href="#k4a" x="405.3" y="673.6"/><use href="#k4a" x="472.4" y="636.5"/><use href="#k4a" x="507.9" y="673.3"/><use href="#k4a" x="400.9" y="678.7"/><use href="#k4a" x="405.0" y="642.2"/><use href="#k4a" x="414.2" y="655.6"/><use href="#k4a" x="441.2" y="720.2"/><use href="#k4a" x="473.3" y="650.6"/><use href="#k4a" x="473.6" y="642.2"/><use href="#k4a" x="398.1" y="646.9"/><use href="#k4a" x="420.9" y="647.9"/><use href="#k4a" x="423.5" y="655.8"/><use href="#k4a" x="433.1" y="721.3"/><use href="#k4a" x="415.0" y="707.9"/><use href="#k4a" x="452.1" y="664.2"/><use href="#k4a" x="425.6" y="708.1"/><use href="#k4a" x="455.8" y="613.5"/><use href="#k4a" x="504.2" y="691.0"/><use href="#k4a" x="409.8" y="712.1"/><use href="#k4a" x="471.1" y="670.3"/><use href="#k4a" x="483.1" y="622.9"/><use href="#k4a" x="479.5" y="676.2"/><use href="#k4a" x="480.1" y="691.0"/><use href="#k4a" x="414.9" y="648.7"/><use href="#k4a" x="458.8" y="638.7"/><use href="#k4a" x="480.9" y="636.1"/><use href="#k4a" x="416.7" y="662.8"/><use href="#k4a" x="397.3" y="690.2"/><use href="#k4a" x="444.1" y="717.7"/><use href="#k4a" x="413.0" y="644.5"/><use href="#k4a" x="425.4" y="621.3"/><use href="#k4a" x="391.1" y="659.6"/><use href="#k4a" x="483.5" y="654.1"/><use href="#k4a" x="469.8" y="699.3"/><use href="#k4a" x="394.3" y="675.6"/><use href="#k4a" x="410.3" y="702.8"/><use href="#k4a" x="443.3" y="685.3"/><use href="#k4a" x="412.1" y="679.1"/><use href="#k4a" x="490.3" y="697.6"/><use href="#k4a" x="396.8" y="651.4"/><use href="#k4a" x="480.2" y="695.2"/><use href="#k4a" x="428.9" y="673.5"/><use href="#k4a" x="435.0" y="624.8"/><use href="#k4a" x="423.0" y="666.0"/><use href="#k4a" x="483.5" y="648.2"/><use href="#k4a" x="500.9" y="693.0"/><use href="#k4a" x="422.7" y="672.8"/><use href="#k4a" x="402.4" y="669.8"/><use href="#k4a" x="416.3" y="668.1"/><use href="#k4a" x="412.5" y="714.1"/><use href="#k4a" x="439.5" y="653.5"/><use href="#k4a" x="486.1" y="640.3"/><use href="#k4a" x="470.2" y="707.9"/><use href="#k4a" x="407.5" y="670.5"/><use href="#k4a" x="409.8" y="675.5"/><use href="#k4a" x="405.6" y="702.6"/><use href="#k4a" x="459.5" y="635.3"/><use href="#k4a" x="413.2" y="666.2"/><use href="#k4a" x="426.7" y="657.6"/><use href="#k4a" x="408.4" y="680.4"/><use href="#k4a" x="408.0" y="696.5"/><use href="#k4a" x="486.3" y="706.8"/><use href="#k4a" x="477.6" y="635.1"/><use href="#k4a" x="456.7" y="696.4"/><use href="#k4a" x="492.7" y="660.7"/><use href="#k4a" x="500.5" y="669.4"/><use href="#k4a" x="400.2" y="656.5"/><use href="#k4a" x="441.7" y="660.8"/><use href="#k4a" x="396.3" y="661.2"/><use href="#k4a" x="477.8" y="679.4"/><use href="#k4a" x="412.0" y="633.3"/><use href="#k4a" x="442.5" y="640.9"/><use href="#k4a" x="448.0" y="709.7"/><use href="#k4a" x="425.8" y="686.6"/><use href="#k4a" x="394.3" y="669.8"/><use href="#k4a" x="456.0" y="633.1"/><use href="#k4a" x="434.0" y="647.0"/><use href="#k4a" x="496.3" y="657.0"/><use href="#k4a" x="431.2" y="678.1"/><use href="#k4a" x="427.4" y="718.2"/><use href="#k4a" x="422.3" y="626.4"/><use href="#k4a" x="410.7" y="670.0"/><use href="#k4a" x="483.5" y="682.8"/><use href="#k4a" x="447.0" y="681.0"/><use href="#k4a" x="460.7" y="641.9"/><use href="#k4a" x="407.8" y="644.8"/><use href="#k4a" x="446.9" y="655.5"/><use href="#k4a" x="425.8" y="627.0"/><use href="#k4a" x="466.6" y="659.8"/><use href="#k4a" x="466.3" y="677.0"/><use href="#k4a" x="417.5" y="659.1"/><use href="#k4a" x="458.1" y="616.4"/><use href="#k4a" x="466.9" y="626.5"/><use href="#k4a" x="434.3" y="711.7"/><use href="#k4a" x="499.7" y="688.5"/><use href="#k4a" x="463.5" y="628.8"/><use href="#k4a" x="415.5" y="691.7"/><use href="#k4a" x="437.0" y="724.8"/><use href="#k4a" x="491.4" y="686.7"/><use href="#k4a" x="499.2" y="681.3"/><use href="#k4a" x="457.2" y="687.1"/><use href="#k4a" x="470.0" y="649.2"/><use href="#k4a" x="479.7" y="687.0"/><use href="#k4a" x="471.2" y="685.9"/><use href="#k4a" x="415.2" y="704.6"/><use href="#k4a" x="436.5" y="620.7"/><use href="#k4a" x="418.3" y="623.9"/><use href="#k4a" x="412.1" y="690.7"/><use href="#k4a" x="443.2" y="620.3"/><use href="#k4a" x="476.7" y="648.1"/><use href="#k4a" x="445.3" y="672.5"/><use href="#k4a" x="496.1" y="688.6"/><use href="#k4a" x="398.4" y="663.7"/><use href="#k4a" x="409.7" y="688.4"/><use href="#k4a" x="494.8" y="701.5"/><use href="#k4a" x="420.4" y="668.7"/><use href="#k4a" x="446.3" y="720.1"/><use href="#k4a" x="482.3" y="711.5"/><use href="#k4a" x="451.6" y="703.3"/><use href="#k4a" x="462.1" y="677.7"/><use href="#k4a" x="476.5" y="697.9"/><use href="#k4a" x="425.7" y="671.6"/><use href="#k4a" x="505.6" y="667.4"/><use href="#k4a" x="436.0" y="689.7"/><use href="#k4a" x="410.7" y="683.8"/><use href="#k4a" x="424.3" y="662.7"/><use href="#k4a" x="397.9" y="640.1"/><use href="#k4a" x="410.0" y="640.4"/><use href="#k4a" x="475.7" y="667.8"/><use href="#k4a" x="432.4" y="705.1"/><use href="#k4a" x="473.6" y="709.9"/><use href="#k4a" x="458.7" y="659.5"/><use href="#k4a" x="440.4" y="687.6"/><use href="#k4a" x="508.4" y="669.8"/><use href="#k4a" x="438.3" y="624.1"/><use href="#k4a" x="476.6" y="640.6"/><use href="#k4a" x="441.8" y="664.8"/><use href="#k4a" x="477.4" y="711.1"/><use href="#k4a" x="434.8" y="663.0"/><use href="#k4a" x="435.1" y="676.4"/><use href="#k4a" x="417.6" y="651.1"/><use href="#k4a" x="482.9" y="660.3"/><use href="#k4a" x="442.1" y="671.3"/><use href="#k4a" x="481.5" y="717.8"/><use href="#k4a" x="390.3" y="654.7"/><use href="#k4a" x="414.0" y="671.9"/><use href="#k4a" x="429.5" y="688.3"/><use href="#k4a" x="502.3" y="665.3"/><use href="#k4a" x="507.4" y="682.1"/><use href="#k4a" x="467.4" y="694.6"/><use href="#k4a" x="407.3" y="699.6"/><use href="#k4a" x="445.2" y="704.1"/><use href="#k4a" x="444.6" y="712.7"/><use href="#k4a" x="466.9" y="621.9"/><use href="#k4a" x="489.8" y="658.3"/><use href="#k4a" x="468.0" y="644.4"/><use href="#k4a" x="443.8" y="651.9"/><use href="#k4a" x="449.2" y="698.3"/><use href="#k4a" x="401.0" y="704.4"/><use href="#k4a" x="405.7" y="678.2"/><use href="#k4a" x="432.1" y="630.9"/><use href="#k4a" x="432.6" y="724.9"/><use href="#k4a" x="421.3" y="705.8"/><use href="#k4a" x="462.4" y="632.0"/><use href="#k4a" x="435.1" y="683.7"/><use href="#k4a" x="429.0" y="652.7"/><use href="#k4a" x="419.7" y="675.9"/><use href="#k4a" x="472.4" y="693.3"/><use href="#k4a" x="503.0" y="658.3"/><use href="#k4a" x="458.2" y="646.2"/><use href="#k4a" x="475.3" y="685.5"/><use href="#k4a" x="429.5" y="649.0"/><use href="#k4a" x="454.2" y="679.7"/><use href="#k4a" x="498.9" y="700.7"/><use href="#k4a" x="500.1" y="654.1"/><use href="#k4a" x="487.3" y="695.3"/><use href="#k4a" x="503.6" y="679.7"/><use href="#k4a" x="458.1" y="652.3"/><use href="#k4a" x="436.0" y="652.6"/><use href="#k4a" x="476.6" y="717.6"/><use href="#k4a" x="460.3" y="663.5"/><use href="#k4a" x="418.5" y="709.4"/><use href="#k4a" x="397.1" y="643.5"/><use href="#k4a" x="469.4" y="722.5"/><use href="#k4a" x="472.5" y="626.4"/><use href="#k4a" x="399.0" y="695.2"/><use href="#k4a" x="470.5" y="631.0"/><use href="#k4a" x="472.8" y="697.1"/><use href="#k4a" x="479.5" y="700.9"/><use href="#k4a" x="401.2" y="642.0"/><use href="#k4a" x="486.7" y="668.5"/><use href="#k4a" x="471.3" y="653.6"/><use href="#k4a" x="424.7" y="696.3"/><use href="#k4a" x="428.3" y="662.6"/><use href="#k4a" x="463.6" y="691.8"/><use href="#k4a" x="432.1" y="626.3"/><use href="#k4a" x="419.0" y="671.8"/><use href="#k4a" x="469.4" y="714.7"/><use href="#k4a" x="497.2" y="668.4"/><use href="#k4a" x="437.4" y="703.0"/><use href="#k4a" x="465.9" y="689.4"/><use href="#k4a" x="490.5" y="645.0"/><use href="#k4a" x="456.6" y="643.1"/><use href="#k4a" x="454.7" y="661.2"/><use href="#k4a" x="464.8" y="673.3"/><use href="#k4a" x="472.8" y="618.8"/><use href="#k4a" x="449.0" y="634.0"/><use href="#k4a" x="439.0" y="708.1"/><use href="#k4a" x="468.2" y="636.2"/><use href="#k4a" x="480.3" y="682.0"/><use href="#k4a" x="480.2" y="654.1"/><use href="#k4a" x="441.2" y="710.6"/><use href="#k4a" x="392.7" y="683.3"/><use href="#k4a" x="483.8" y="695.5"/><use href="#k4a" x="502.3" y="676.2"/><use href="#k4a" x="450.1" y="637.1"/><use href="#k4a" x="391.7" y="672.3"/><use href="#k4a" x="400.8" y="683.6"/><use href="#k4a" x="466.3" y="664.7"/><use href="#k4a" x="406.6" y="706.7"/><use href="#k4a" x="391.9" y="662.9"/><use href="#k4a" x="465.7" y="705.0"/><use href="#k4a" x="419.4" y="643.1"/><use href="#k4a" x="484.9" y="628.4"/><use href="#k4a" x="465.8" y="667.9"/><use href="#k4a" x="419.9" y="653.9"/><use href="#k4a" x="408.5" y="658.6"/><use href="#k4a" x="422.8" y="720.9"/><use href="#k4a" x="419.5" y="620.3"/><use href="#k4a" x="463.3" y="644.0"/><use href="#k4a" x="447.0" y="641.2"/><use href="#k4a" x="509.2" y="676.8"/><use href="#k4a" x="428.8" y="714.1"/><use href="#k4a" x="479.3" y="650.6"/><use href="#k4a" x="457.4" y="707.0"/><use href="#k4a" x="459.2" y="629.8"/><use href="#k4a" x="477.2" y="663.6"/><use href="#k4a" x="421.2" y="702.4"/><use href="#k4a" x="470.4" y="718.4"/><use href="#k4a" x="418.9" y="688.9"/><use href="#k4a" x="482.9" y="675.1"/><use href="#k4a" x="478.9" y="704.5"/><use href="#k4a" x="435.3" y="615.1"/><use href="#k4a" x="484.4" y="635.1"/><use href="#k4a" x="431.3" y="644.5"/><use href="#k4a" x="459.9" y="709.8"/><use href="#k4a" x="499.3" y="697.5"/><use href="#k4a" x="408.1" y="630.4"/><use href="#k4a" x="403.3" y="659.1"/><use href="#k4a" x="435.7" y="706.7"/><use href="#k4a" x="434.5" y="679.8"/><use href="#k4a" x="446.7" y="628.9"/><use href="#k4a" x="474.2" y="632.9"/><use href="#k4a" x="476.9" y="672.5"/><use href="#k4a" x="473.6" y="673.8"/><use href="#k4a" x="416.5" y="634.6"/><use href="#k4a" x="437.8" y="694.3"/><use href="#k4a" x="476.9" y="689.9"/><use href="#k4a" x="428.7" y="628.6"/><use href="#k4a" x="396.1" y="666.1"/><use href="#k4a" x="399.6" y="675.8"/><use href="#k4a" x="431.5" y="657.0"/><use href="#k4a" x="488.8" y="634.2"/><use href="#k4a" x="508.8" y="663.9"/><use href="#k4a" x="471.2" y="634.7"/><use href="#k4a" x="439.0" y="670.2"/><use href="#k4a" x="484.6" y="700.3"/><use href="#k4a" x="499.6" y="647.7"/><use href="#k4a" x="486.1" y="680.6"/><use href="#k4a" x="421.5" y="649.8"/><use href="#k4a" x="476.4" y="693.6"/><use href="#k4a" x="494.5" y="635.1"/><use href="#k4a" x="435.9" y="698.0"/><use href="#k4a" x="431.6" y="664.9"/><use href="#k4a" x="506.6" y="673.5"/><use href="#k4a" x="454.2" y="699.5"/><use href="#k4a" x="472.3" y="679.0"/><use href="#k4a" x="486.5" y="710.9"/><use href="#k4a" x="440.2" y="680.2"/><use href="#k4a" x="486.1" y="685.6"/><use href="#k4b" x="406.6" y="629.8"/><use href="#k4b" x="496.7" y="684.0"/><use href="#k4b" x="472.5" y="630.0"/><use href="#k4b" x="464.9" y="692.3"/><use href="#k4b" x="470.0" y="711.2"/><use href="#k4b" x="424.8" y="648.6"/><use href="#k4b" x="479.0" y="625.8"/><use href="#k4b" x="479.3" y="662.6"/><use href="#k4b" x="392.4" y="665.7"/><use href="#k4b" x="437.1" y="704.3"/><use href="#k4b" x="495.4" y="653.6"/><use href="#k4b" x="404.8" y="707.7"/><use href="#k4b" x="433.2" y="634.4"/><use href="#k4b" x="491.5" y="647.9"/><use href="#k4b" x="503.1" y="675.0"/><use href="#k4b" x="465.7" y="671.3"/><use href="#k4b" x="503.6" y="671.2"/><use href="#k4b" x="421.3" y="652.9"/><use href="#k4b" x="430.8" y="685.2"/><use href="#k4b" x="483.3" y="643.2"/><use href="#k4b" x="429.0" y="665.8"/><use href="#k4b" x="499.7" y="673.9"/><use href="#k4b" x="419.2" y="638.4"/><use href="#k4b" x="403.5" y="632.2"/><use href="#k4b" x="477.1" y="652.7"/><use href="#k4b" x="412.3" y="658.7"/><use href="#k4b" x="499.0" y="697.3"/><use href="#k4b" x="458.7" y="628.4"/><use href="#k4b" x="411.3" y="698.9"/><use href="#k4b" x="508.3" y="665.6"/><use href="#k4b" x="493.8" y="692.3"/><use href="#k4b" x="470.6" y="690.4"/><use href="#k4b" x="403.3" y="700.1"/><use href="#k4b" x="476.0" y="705.7"/><use href="#k4b" x="445.1" y="663.3"/><use href="#k4b" x="405.4" y="691.4"/><use href="#k4b" x="491.2" y="704.0"/><use href="#k4b" x="487.7" y="643.2"/><use href="#k4b" x="499.6" y="649.4"/><use href="#k4b" x="479.8" y="714.7"/><use href="#k4b" x="431.8" y="668.9"/><use href="#k4b" x="491.3" y="636.2"/><use href="#k4b" x="403.5" y="695.8"/><use href="#k4b" x="418.7" y="718.1"/><use href="#k4b" x="473.2" y="714.1"/><use href="#k4b" x="438.6" y="665.5"/><use href="#k4b" x="484.6" y="716.1"/><use href="#k4b" x="491.2" y="677.1"/><use href="#k4b" x="465.9" y="698.2"/><use href="#k4b" x="438.8" y="649.9"/><use href="#k4b" x="438.4" y="636.7"/><use href="#k4b" x="478.3" y="657.8"/><use href="#k4b" x="462.7" y="669.6"/><use href="#k4b" x="416.8" y="713.5"/><use href="#k4b" x="487.5" y="661.9"/><use href="#k4b" x="437.4" y="717.8"/><use href="#k4b" x="471.5" y="680.6"/><use href="#k4b" x="495.6" y="633.8"/><use href="#k4b" x="487.9" y="654.8"/><use href="#k4b" x="442.6" y="691.9"/><use href="#k4b" x="433.3" y="639.0"/><use href="#k4b" x="488.5" y="691.5"/><use href="#k4b" x="444.3" y="700.8"/><use href="#k4b" x="496.1" y="695.6"/><use href="#k4b" x="469.7" y="663.8"/><use href="#k4b" x="495.6" y="677.2"/><use href="#k4b" x="441.2" y="702.3"/><use href="#k4b" x="422.7" y="684.1"/><use href="#k4b" x="471.3" y="703.3"/><use href="#k4b" x="422.1" y="631.6"/><use href="#k4b" x="428.0" y="677.4"/><use href="#k4b" x="431.9" y="660.3"/><use href="#k4b" x="414.9" y="628.4"/><use href="#k4b" x="426.7" y="721.6"/><use href="#k4b" x="498.4" y="636.2"/><use href="#k4b" x="505.8" y="660.7"/><use href="#k4b" x="462.3" y="657.0"/><use href="#k4b" x="406.1" y="663.7"/><use href="#k4b" x="398.7" y="668.2"/><use href="#k4b" x="401.8" y="663.0"/><use href="#k4b" x="396.5" y="697.9"/><use href="#k4b" x="507.2" y="686.8"/><use href="#k4b" x="465.5" y="683.4"/><use href="#k4b" x="461.5" y="673.4"/><use href="#k4b" x="416.0" y="643.2"/><use href="#k4b" x="405.4" y="653.4"/><use href="#k4b" x="498.1" y="665.0"/><use href="#k4b" x="439.5" y="614.9"/><use href="#k4b" x="490.2" y="664.1"/><use href="#k4b" x="478.0" y="620.3"/><use href="#k4b" x="493.9" y="670.6"/><use href="#k4b" x="408.7" y="636.2"/><use href="#k4b" x="418.8" y="628.1"/><use href="#k4b" x="424.1" y="640.1"/><use href="#k4b" x="405.1" y="647.7"/><use href="#k4b" x="418.5" y="697.0"/><use href="#k4b" x="459.1" y="656.0"/><use href="#k4b" x="490.7" y="668.9"/><use href="#k4b" x="469.2" y="617.3"/><use href="#k4b" x="495.3" y="662.8"/><use href="#k4b" x="470.4" y="674.3"/><use href="#k4b" x="461.9" y="681.4"/><use href="#k4b" x="452.5" y="657.7"/><use href="#k4b" x="498.5" y="659.9"/><use href="#k4b" x="492.4" y="681.5"/><use href="#k4b" x="454.3" y="627.9"/><use href="#k4b" x="496.7" y="641.8"/><use href="#k4b" x="421.6" y="659.5"/><use href="#k4b" x="410.2" y="661.3"/><use href="#k4b" x="425.9" y="680.2"/><use href="#k4b" x="453.5" y="714.0"/><use href="#k4b" x="449.6" y="718.6"/><use href="#k4b" x="508.0" y="658.0"/><use href="#k4b" x="418.0" y="701.9"/><use href="#k4b" x="451.1" y="652.4"/><use href="#k4b" x="452.1" y="693.2"/><use href="#k4b" x="466.3" y="715.7"/><use href="#k4b" x="492.4" y="641.1"/><use href="#k4b" x="478.2" y="630.5"/><use href="#k4b" x="449.2" y="725.0"/><use href="#k4b" x="444.2" y="707.5"/><use href="#k4b" x="422.5" y="715.7"/><use href="#k4b" x="401.3" y="689.9"/><use href="#k4b" x="503.6" y="652.8"/><use href="#k4b" x="485.9" y="631.9"/><use href="#k4b" x="427.6" y="694.7"/><use href="#k4b" x="427.2" y="636.7"/><use href="#k4b" x="488.1" y="702.5"/><use href="#k4b" x="466.5" y="632.4"/><use href="#k4b" x="393.5" y="655.8"/><use href="#k4b" x="394.4" y="648.1"/><use href="#k4b" x="429.2" y="680.9"/><use href="#k4b" x="449.7" y="706.8"/><use href="#k4b" x="466.1" y="647.5"/><use href="#k4b" x="484.3" y="690.1"/><use href="#k4b" x="409.6" y="654.6"/><use href="#k4b" x="461.6" y="651.3"/><use href="#k4b" x="435.1" y="666.7"/><use href="#k4b" x="465.7" y="638.5"/><use href="#k4b" x="488.1" y="629.2"/><use href="#k4b" x="492.3" y="632.4"/><use href="#k4b" x="419.7" y="635.2"/><use href="#k4b" x="423.5" y="636.3"/><use href="#k4b" x="492.1" y="653.9"/><use href="#k4b" x="482.9" y="706.8"/><use href="#k4b" x="437.5" y="629.3"/><use href="#k4b" x="489.5" y="650.5"/><use href="#k4b" x="406.0" y="684.2"/><use href="#k4b" x="411.2" y="649.1"/><use href="#k4b" x="415.2" y="638.6"/><use href="#k4b" x="431.5" y="701.2"/><use href="#k4b" x="485.2" y="651.2"/><use href="#k4b" x="436.4" y="643.1"/><use href="#k4b" x="506.4" y="650.9"/><use href="#k4b" x="435.6" y="656.9"/><use href="#k4b" x="424.0" y="644.0"/><use href="#k4b" x="439.0" y="677.0"/><use href="#k4b" x="466.1" y="656.4"/><use href="#k4b" x="453.8" y="686.9"/><use href="#k4b" x="480.3" y="665.3"/><use href="#k4b" x="412.6" y="694.2"/><use href="#k4b" x="461.8" y="689.1"/><use href="#k4b" x="502.2" y="685.8"/><use href="#k4b" x="443.2" y="657.1"/><use href="#k4b" x="431.7" y="709.7"/><use href="#k4b" x="428.5" y="710.5"/><use href="#k4b" x="415.2" y="696.1"/><use href="#k4b" x="444.9" y="724.3"/><use href="#k4b" x="480.0" y="623.8"/><use href="#k4b" x="480.3" y="644.3"/><use href="#k4b" x="399.8" y="686.9"/><use href="#k4b" x="448.2" y="658.9"/><use href="#k4b" x="472.7" y="665.9"/><use href="#k4b" x="476.0" y="627.3"/><use href="#k4b" x="449.8" y="618.0"/><use href="#k4b" x="497.1" y="672.9"/><use href="#k4b" x="486.5" y="658.1"/><use href="#k4b" x="437.1" y="686.4"/><use href="#k4b" x="443.5" y="676.3"/><use href="#k4b" x="500.7" y="642.4"/><use href="#k4b" x="429.6" y="640.4"/><use href="#k4b" x="430.6" y="620.4"/><use href="#k4b" x="462.8" y="635.7"/><use href="#k4b" x="426.2" y="633.1"/><use href="#k4b" x="429.3" y="634.1"/><use href="#k4b" x="461.8" y="615.7"/><use href="#k4b" x="488.5" y="673.1"/><use href="#k4b" x="411.7" y="624.6"/><use href="#k4b" x="486.3" y="676.4"/><use href="#k4b" x="467.0" y="652.5"/><use href="#k4b" x="475.0" y="681.3"/><use href="#k4b" x="420.8" y="713.0"/><use href="#k4b" x="404.4" y="638.5"/><use href="#k4b" x="462.0" y="620.6"/><use href="#k4b" x="503.0" y="645.8"/><use href="#k4b" x="406.1" y="673.9"/><use href="#k4b" x="472.8" y="661.0"/><use href="#k4b" x="441.0" y="696.3"/><use href="#k4b" x="431.5" y="671.1"/><use href="#k4b" x="424.1" y="618.0"/><use href="#k4b" x="439.5" y="646.7"/><use href="#k4b" x="417.2" y="713.8"/><use href="#k4b" x="489.2" y="708.1"/><use href="#k4b" x="475.1" y="720.8"/><use href="#k4b" x="465.6" y="711.3"/><use href="#k4b" x="405.7" y="667.5"/><use href="#k4b" x="493.4" y="708.9"/><use href="#k4b" x="430.7" y="615.5"/></g></g><text x="40.30" y="17.80" font-size="12.4" text-anchor="start" fill="#111" font-weight="bold">A</text><text x="83.10" y="33.80" font-size="7.2" text-anchor="start" fill="#2b2b2b" stroke="#2b2b2b" stroke-width="0.08" textLength="20.00" lengthAdjust="spacingAndGlyphs">DAY 0</text><ellipse cx="91.60" cy="46.60" rx="3.40" ry="2.40" fill="#6a40a3" stroke="#a07ccc" stroke-width="0.7"/><ellipse cx="92.00" cy="46.40" rx="1.53" ry="0.84" fill="#4e2482" opacity="0.8"/><ellipse cx="85.20" cy="48.50" rx="3.20" ry="2.20" fill="#6a40a3" stroke="#a07ccc" stroke-width="0.7"/><ellipse cx="85.60" cy="48.30" rx="1.44" ry="0.77" fill="#4e2482" opacity="0.8"/><ellipse cx="80.60" cy="52.60" rx="3.40" ry="2.60" fill="#6a40a3" stroke="#a07ccc" stroke-width="0.7"/><ellipse cx="81.00" cy="52.40" rx="1.53" ry="0.91" fill="#4e2482" opacity="0.8"/><ellipse cx="89.50" cy="52.00" rx="2.80" ry="2.00" fill="#6a40a3" stroke="#a07ccc" stroke-width="0.7"/><ellipse cx="89.90" cy="51.80" rx="1.26" ry="0.70" fill="#4e2482" opacity="0.8"/><ellipse cx="96.30" cy="51.40" rx="3.20" ry="2.40" fill="#6a40a3" stroke="#a07ccc" stroke-width="0.7"/><ellipse cx="96.70" cy="51.20" rx="1.44" ry="0.84" fill="#4e2482" opacity="0.8"/><ellipse cx="86.50" cy="56.30" rx="3.40" ry="2.40" fill="#6a40a3" stroke="#a07ccc" stroke-width="0.7"/><ellipse cx="86.90" cy="56.10" rx="1.53" ry="0.84" fill="#4e2482" opacity="0.8"/><ellipse cx="94.90" cy="56.50" rx="3.40" ry="2.40" fill="#6a40a3" stroke="#a07ccc" stroke-width="0.7"/><ellipse cx="95.30" cy="56.30" rx="1.53" ry="0.84" fill="#4e2482" opacity="0.8"/><text x="57.00" y="71.60" font-size="7.2" text-anchor="start" fill="#2b2b2b" stroke="#2b2b2b" stroke-width="0.08">SCD CD34<tspan font-size="4.5" dy="-3">+</tspan><tspan dy="3"> cells</tspan></text><line x1="112.30" y1="53.10" x2="133.10" y2="53.10" stroke="#111" stroke-width="1.2"/><polygon points="138.20,53.10 132.60,55.80 132.60,50.40" fill="#111"/><text x="158.70" y="33.80" font-size="7.2" text-anchor="start" fill="#2b2b2b" stroke="#2b2b2b" stroke-width="0.08" textLength="19.80" lengthAdjust="spacingAndGlyphs">DAY 1</text><line x1="155.85" y1="53.00" x2="158.80" y2="53.00" stroke="#9dd7cc" stroke-width="0.8"/><circle cx="158.80" cy="53.00" r="0.75" fill="#9dd7cc"/><line x1="154.38" y1="55.55" x2="155.85" y2="58.11" stroke="#9dd7cc" stroke-width="0.8"/><circle cx="155.85" cy="58.11" r="0.75" fill="#9dd7cc"/><line x1="151.43" y1="55.55" x2="149.95" y2="58.11" stroke="#9dd7cc" stroke-width="0.8"/><circle cx="149.95" cy="58.11" r="0.75" fill="#9dd7cc"/><line x1="149.95" y1="53.00" x2="147.00" y2="53.00" stroke="#9dd7cc" stroke-width="0.8"/><circle cx="147.00" cy="53.00" r="0.75" fill="#9dd7cc"/><line x1="151.43" y1="50.45" x2="149.95" y2="47.89" stroke="#9dd7cc" stroke-width="0.8"/><circle cx="149.95" cy="47.89" r="0.75" fill="#9dd7cc"/><line x1="154.38" y1="50.45" x2="155.85" y2="47.89" stroke="#9dd7cc" stroke-width="0.8"/><circle cx="155.85" cy="47.89" r="0.75" fill="#9dd7cc"/><polygon points="155.85,53.00 154.38,55.55 151.43,55.55 149.95,53.00 151.43,50.45 154.38,50.45" fill="#dff3ef" stroke="#9dd7cc" stroke-width="0.9"/><circle cx="152.90" cy="53.00" r="1.33" fill="none" stroke="#9dd7cc" stroke-width="0.6"/><line x1="165.40" y1="44.20" x2="167.90" y2="44.20" stroke="#9dd7cc" stroke-width="0.8"/><circle cx="167.90" cy="44.20" r="0.75" fill="#9dd7cc"/><line x1="164.15" y1="46.37" x2="165.40" y2="48.53" stroke="#9dd7cc" stroke-width="0.8"/><circle cx="165.40" cy="48.53" r="0.75" fill="#9dd7cc"/><line x1="161.65" y1="46.37" x2="160.40" y2="48.53" stroke="#9dd7cc" stroke-width="0.8"/><circle cx="160.40" cy="48.53" r="0.75" fill="#9dd7cc"/><line x1="160.40" y1="44.20" x2="157.90" y2="44.20" stroke="#9dd7cc" stroke-width="0.8"/><circle cx="157.90" cy="44.20" r="0.75" fill="#9dd7cc"/><line x1="161.65" y1="42.03" x2="160.40" y2="39.87" stroke="#9dd7cc" stroke-width="0.8"/><circle cx="160.40" cy="39.87" r="0.75" fill="#9dd7cc"/><line x1="164.15" y1="42.03" x2="165.40" y2="39.87" stroke="#9dd7cc" stroke-width="0.8"/><circle cx="165.40" cy="39.87" r="0.75" fill="#9dd7cc"/><polygon points="165.40,44.20 164.15,46.37 161.65,46.37 160.40,44.20 161.65,42.03 164.15,42.03" fill="#dff3ef" stroke="#9dd7cc" stroke-width="0.9"/><line x1="176.50" y1="48.60" x2="179.00" y2="48.60" stroke="#9dd7cc" stroke-width="0.8"/><circle cx="179.00" cy="48.60" r="0.75" fill="#9dd7cc"/><line x1="175.25" y1="50.77" x2="176.50" y2="52.93" stroke="#9dd7cc" stroke-width="0.8"/><circle cx="176.50" cy="52.93" r="0.75" fill="#9dd7cc"/><line x1="172.75" y1="50.77" x2="171.50" y2="52.93" stroke="#9dd7cc" stroke-width="0.8"/><circle cx="171.50" cy="52.93" r="0.75" fill="#9dd7cc"/><line x1="171.50" y1="48.60" x2="169.00" y2="48.60" stroke="#9dd7cc" stroke-width="0.8"/><circle cx="169.00" cy="48.60" r="0.75" fill="#9dd7cc"/><line x1="172.75" y1="46.43" x2="171.50" y2="44.27" stroke="#9dd7cc" stroke-width="0.8"/><circle cx="171.50" cy="44.27" r="0.75" fill="#9dd7cc"/><line x1="175.25" y1="46.43" x2="176.50" y2="44.27" stroke="#9dd7cc" stroke-width="0.8"/><circle cx="176.50" cy="44.27" r="0.75" fill="#9dd7cc"/><polygon points="176.50,48.60 175.25,50.77 172.75,50.77 171.50,48.60 172.75,46.43 175.25,46.43" fill="#dff3ef" stroke="#9dd7cc" stroke-width="0.9"/><line x1="169.50" y1="57.40" x2="172.00" y2="57.40" stroke="#9dd7cc" stroke-width="0.8"/><circle cx="172.00" cy="57.40" r="0.75" fill="#9dd7cc"/><line x1="168.25" y1="59.57" x2="169.50" y2="61.73" stroke="#9dd7cc" stroke-width="0.8"/><circle cx="169.50" cy="61.73" r="0.75" fill="#9dd7cc"/><line x1="165.75" y1="59.57" x2="164.50" y2="61.73" stroke="#9dd7cc" stroke-width="0.8"/><circle cx="164.50" cy="61.73" r="0.75" fill="#9dd7cc"/><line x1="164.50" y1="57.40" x2="162.00" y2="57.40" stroke="#9dd7cc" stroke-width="0.8"/><circle cx="162.00" cy="57.40" r="0.75" fill="#9dd7cc"/><line x1="165.75" y1="55.23" x2="164.50" y2="53.07" stroke="#9dd7cc" stroke-width="0.8"/><circle cx="164.50" cy="53.07" r="0.75" fill="#9dd7cc"/><line x1="168.25" y1="55.23" x2="169.50" y2="53.07" stroke="#9dd7cc" stroke-width="0.8"/><circle cx="169.50" cy="53.07" r="0.75" fill="#9dd7cc"/><polygon points="169.50,57.40 168.25,59.57 165.75,59.57 164.50,57.40 165.75,55.23 168.25,55.23" fill="#dff3ef" stroke="#9dd7cc" stroke-width="0.9"/><text x="141.40" y="72.40" font-size="7.2" text-anchor="start" fill="#2b2b2b" stroke="#2b2b2b" stroke-width="0.08" textLength="47.80" lengthAdjust="spacingAndGlyphs">HDAd-PE5max</text><text x="165.40" y="80.90" font-size="7.2" text-anchor="middle" fill="#2b2b2b" stroke="#2b2b2b" stroke-width="0.08">or</text><text x="136.00" y="89.30" font-size="7.2" text-anchor="start" fill="#2b2b2b" stroke="#2b2b2b" stroke-width="0.08" textLength="59.30" lengthAdjust="spacingAndGlyphs">HDAd-mgmt./GFP</text><line x1="187.30" y1="53.10" x2="207.90" y2="53.10" stroke="#111" stroke-width="1.2"/><polygon points="213.00,53.10 207.40,55.80 207.40,50.40" fill="#111"/><text x="220.80" y="33.80" font-size="7.2" text-anchor="start" fill="#2b2b2b" stroke="#2b2b2b" stroke-width="0.08" textLength="20.40" lengthAdjust="spacingAndGlyphs">DAY 3</text><ellipse cx="234.10" cy="45.90" rx="3.40" ry="2.40" fill="#6a40a3" stroke="#a07ccc" stroke-width="0.7"/><ellipse cx="234.50" cy="45.70" rx="1.53" ry="0.84" fill="#4e2482" opacity="0.8"/><ellipse cx="227.70" cy="47.80" rx="3.20" ry="2.20" fill="#6a40a3" stroke="#a07ccc" stroke-width="0.7"/><ellipse cx="228.10" cy="47.60" rx="1.44" ry="0.77" fill="#4e2482" opacity="0.8"/><ellipse cx="223.10" cy="51.90" rx="3.40" ry="2.60" fill="#6a40a3" stroke="#a07ccc" stroke-width="0.7"/><ellipse cx="223.50" cy="51.70" rx="1.53" ry="0.91" fill="#4e2482" opacity="0.8"/><ellipse cx="232.00" cy="51.30" rx="2.80" ry="2.00" fill="#6a40a3" stroke="#a07ccc" stroke-width="0.7"/><ellipse cx="232.40" cy="51.10" rx="1.26" ry="0.70" fill="#4e2482" opacity="0.8"/><ellipse cx="238.80" cy="50.70" rx="3.20" ry="2.40" fill="#6a40a3" stroke="#a07ccc" stroke-width="0.7"/><ellipse cx="239.20" cy="50.50" rx="1.44" ry="0.84" fill="#4e2482" opacity="0.8"/><ellipse cx="229.00" cy="55.60" rx="3.40" ry="2.40" fill="#6a40a3" stroke="#a07ccc" stroke-width="0.7"/><ellipse cx="229.40" cy="55.40" rx="1.53" ry="0.84" fill="#4e2482" opacity="0.8"/><ellipse cx="237.40" cy="55.80" rx="3.40" ry="2.40" fill="#6a40a3" stroke="#a07ccc" stroke-width="0.7"/><ellipse cx="237.80" cy="55.60" rx="1.53" ry="0.84" fill="#4e2482" opacity="0.8"/><line x1="248.30" y1="46.90" x2="276.64" y2="43.42" stroke="#111" stroke-width="1.2"/><polygon points="281.70,42.80 276.47,46.16 275.81,40.80" fill="#111"/><line x1="248.30" y1="57.90" x2="276.64" y2="61.38" stroke="#111" stroke-width="1.2"/><polygon points="281.70,62.00 275.81,64.00 276.47,58.64" fill="#111"/><text x="290.60" y="36.20" font-size="7.4" text-anchor="start" fill="#2b2b2b" stroke="#2b2b2b" stroke-width="0.08" textLength="32.30" lengthAdjust="spacingAndGlyphs">Methocult</text><text x="290.60" y="45.30" font-size="7.4" text-anchor="start" fill="#2b2b2b" stroke="#2b2b2b" stroke-width="0.08" textLength="40.40" lengthAdjust="spacingAndGlyphs">colony assay</text><text x="290.60" y="63.60" font-size="7.4" text-anchor="start" fill="#2b2b2b" stroke="#2b2b2b" stroke-width="0.08" textLength="45.00" lengthAdjust="spacingAndGlyphs">Erythroid Diff.</text><text x="290.60" y="73.00" font-size="7.4" text-anchor="start" fill="#2b2b2b" stroke="#2b2b2b" stroke-width="0.08" textLength="53.90" lengthAdjust="spacingAndGlyphs">+/− O<tspan font-size="4.5" dy="-3">6</tspan><tspan dy="3">BG/BCNU</tspan></text><text x="290.60" y="82.40" font-size="7.4" text-anchor="start" fill="#2b2b2b" stroke="#2b2b2b" stroke-width="0.08" textLength="53.10" lengthAdjust="spacingAndGlyphs">in vitro selection</text><line x1="343.80" y1="36.20" x2="384.40" y2="36.20" stroke="#111" stroke-width="1.2"/><polygon points="389.50,36.20 383.90,38.90 383.90,33.50" fill="#111"/><text x="352.60" y="30.70" font-size="7.2" text-anchor="start" fill="#2b2b2b" stroke="#2b2b2b" stroke-width="0.08" textLength="24.70" lengthAdjust="spacingAndGlyphs">14 days</text><line x1="343.80" y1="63.50" x2="384.40" y2="63.50" stroke="#111" stroke-width="1.2"/><polygon points="389.50,63.50 383.90,66.20 383.90,60.80" fill="#111"/><text x="352.60" y="57.70" font-size="7.2" text-anchor="start" fill="#2b2b2b" stroke="#2b2b2b" stroke-width="0.08" textLength="24.70" lengthAdjust="spacingAndGlyphs">18 days</text><text x="398.80" y="35.30" font-size="7.2" text-anchor="start" fill="#2b2b2b" stroke="#2b2b2b" stroke-width="0.08" textLength="62.10" lengthAdjust="spacingAndGlyphs">number of colonies</text><text x="395.80" y="55.90" font-size="7.4" text-anchor="start" fill="#2b2b2b" stroke="#2b2b2b" stroke-width="0.08" textLength="19.30" lengthAdjust="spacingAndGlyphs">- DNA</text><line x1="418.00" y1="54.20" x2="423.20" y2="54.20" stroke="#333" stroke-width="0.8"/><polygon points="425.4,54.2 422.4,52.6 422.4,55.8" fill="#333"/><text x="426.90" y="55.90" font-size="7.4" text-anchor="start" fill="#2b2b2b" stroke="#2b2b2b" stroke-width="0.08" textLength="37.70" lengthAdjust="spacingAndGlyphs">editing rate</text><text x="395.40" y="64.40" font-size="7.4" text-anchor="start" fill="#2b2b2b" stroke="#2b2b2b" stroke-width="0.08" textLength="81.90" lengthAdjust="spacingAndGlyphs">- erythroid differentiation</text><text x="395.40" y="72.90" font-size="7.4" text-anchor="start" fill="#2b2b2b" stroke="#2b2b2b" stroke-width="0.08" textLength="67.50" lengthAdjust="spacingAndGlyphs">- phenotypic analysis</text><text x="12.90" y="113.20" font-size="12.4" text-anchor="start" fill="#111" font-weight="bold">B</text><line x1="42.50" y1="120.00" x2="57.20" y2="120.00" stroke="#45a845" stroke-width="1"/><circle cx="50.3" cy="120" r="1.3" fill="#45a845"/><line x1="42.50" y1="128.20" x2="57.20" y2="128.20" stroke="#c41f3e" stroke-width="1"/><circle cx="50.3" cy="128.2" r="1.3" fill="#c41f3e"/><text x="60.70" y="122.20" font-size="7.4" text-anchor="start" fill="#2b2b2b" stroke="#2b2b2b" stroke-width="0.08" textLength="43.20" lengthAdjust="spacingAndGlyphs">w/o selection</text><text x="60.70" y="130.40" font-size="7.4" text-anchor="start" fill="#2b2b2b" stroke="#2b2b2b" stroke-width="0.08" textLength="38.50" lengthAdjust="spacingAndGlyphs">w/ selection</text><line x1="49.40" y1="137.70" x2="49.40" y2="232.70" stroke="#111" stroke-width="1.2"/><line x1="46.80" y1="232.10" x2="49.40" y2="232.10" stroke="#111" stroke-width="1.2"/><text x="42.30" y="234.84" font-size="7.6" text-anchor="end" fill="#2b2b2b" stroke="#2b2b2b" stroke-width="0.08">0</text><line x1="46.80" y1="219.00" x2="49.40" y2="219.00" stroke="#111" stroke-width="1.2"/><text x="42.30" y="221.74" font-size="7.6" text-anchor="end" fill="#2b2b2b" stroke="#2b2b2b" stroke-width="0.08">10</text><line x1="46.80" y1="205.90" x2="49.40" y2="205.90" stroke="#111" stroke-width="1.2"/><text x="42.30" y="208.64" font-size="7.6" text-anchor="end" fill="#2b2b2b" stroke="#2b2b2b" stroke-width="0.08">20</text><line x1="46.80" y1="192.80" x2="49.40" y2="192.80" stroke="#111" stroke-width="1.2"/><text x="42.30" y="195.54" font-size="7.6" text-anchor="end" fill="#2b2b2b" stroke="#2b2b2b" stroke-width="0.08">30</text><line x1="46.80" y1="179.70" x2="49.40" y2="179.70" stroke="#111" stroke-width="1.2"/><text x="42.30" y="182.44" font-size="7.6" text-anchor="end" fill="#2b2b2b" stroke="#2b2b2b" stroke-width="0.08">40</text><line x1="46.80" y1="166.60" x2="49.40" y2="166.60" stroke="#111" stroke-width="1.2"/><text x="42.30" y="169.34" font-size="7.6" text-anchor="end" fill="#2b2b2b" stroke="#2b2b2b" stroke-width="0.08">50</text><line x1="46.80" y1="153.50" x2="49.40" y2="153.50" stroke="#111" stroke-width="1.2"/><text x="42.30" y="156.24" font-size="7.6" text-anchor="end" fill="#2b2b2b" stroke="#2b2b2b" stroke-width="0.08">60</text><line x1="46.80" y1="140.40" x2="49.40" y2="140.40" stroke="#111" stroke-width="1.2"/><text x="42.30" y="143.14" font-size="7.6" text-anchor="end" fill="#2b2b2b" stroke="#2b2b2b" stroke-width="0.08">70</text><line x1="48.80" y1="232.10" x2="101.30" y2="232.10" stroke="#111" stroke-width="1.2"/><line x1="56.30" y1="232.10" x2="56.30" y2="234.70" stroke="#111" stroke-width="1.2"/><line x1="70.50" y1="232.10" x2="70.50" y2="234.70" stroke="#111" stroke-width="1.2"/><line x1="84.50" y1="232.10" x2="84.50" y2="234.70" stroke="#111" stroke-width="1.2"/><line x1="98.70" y1="232.10" x2="98.70" y2="234.70" stroke="#111" stroke-width="1.2"/><line x1="56.30" y1="225.94" x2="56.30" y2="224.24" stroke="#c41f3e" stroke-width="0.9"/><line x1="54.70" y1="224.24" x2="57.90" y2="224.24" stroke="#c41f3e" stroke-width="0.9"/><line x1="70.50" y1="188.87" x2="70.50" y2="166.21" stroke="#c41f3e" stroke-width="0.9"/><line x1="68.90" y1="166.21" x2="72.10" y2="166.21" stroke="#c41f3e" stroke-width="0.9"/><line x1="84.50" y1="179.70" x2="84.50" y2="153.50" stroke="#c41f3e" stroke-width="0.9"/><line x1="82.90" y1="153.50" x2="86.10" y2="153.50" stroke="#c41f3e" stroke-width="0.9"/><line x1="98.70" y1="188.08" x2="98.70" y2="151.53" stroke="#c41f3e" stroke-width="0.9"/><line x1="97.10" y1="151.53" x2="100.30" y2="151.53" stroke="#c41f3e" stroke-width="0.9"/><line x1="56.30" y1="226.34" x2="56.30" y2="224.24" stroke="#3d9a45" stroke-width="0.9"/><line x1="54.70" y1="224.24" x2="57.90" y2="224.24" stroke="#3d9a45" stroke-width="0.9"/><line x1="70.50" y1="225.03" x2="70.50" y2="222.67" stroke="#3d9a45" stroke-width="0.9"/><line x1="68.90" y1="222.67" x2="72.10" y2="222.67" stroke="#3d9a45" stroke-width="0.9"/><line x1="84.50" y1="225.94" x2="84.50" y2="223.58" stroke="#3d9a45" stroke-width="0.9"/><line x1="82.90" y1="223.58" x2="86.10" y2="223.58" stroke="#3d9a45" stroke-width="0.9"/><line x1="98.70" y1="223.06" x2="98.70" y2="215.72" stroke="#3d9a45" stroke-width="0.9"/><line x1="97.10" y1="215.72" x2="100.30" y2="215.72" stroke="#3d9a45" stroke-width="0.9"/><polyline points="56.30,225.94 70.50,188.87 84.50,179.70 98.70,188.08" fill="none" stroke="#c41f3e" stroke-width="1"/><polyline points="56.30,226.34 70.50,225.03 84.50,225.94 98.70,223.06" fill="none" stroke="#45a845" stroke-width="1"/><circle cx="56.3" cy="225.94" r="1.6" fill="#a8123a"/><circle cx="70.5" cy="188.87" r="1.6" fill="#a8123a"/><circle cx="84.5" cy="179.70" r="1.6" fill="#a8123a"/><circle cx="98.7" cy="188.08" r="1.6" fill="#a8123a"/><circle cx="56.3" cy="226.34" r="1.5" fill="#2f8f3a"/><circle cx="70.5" cy="225.03" r="1.5" fill="#2f8f3a"/><circle cx="84.5" cy="225.94" r="1.5" fill="#2f8f3a"/><circle cx="98.7" cy="223.06" r="1.5" fill="#2f8f3a"/><text x="29.40" y="184.75" font-size="8.4" text-anchor="middle" fill="#2b2b2b" stroke="#2b2b2b" stroke-width="0.08" textLength="31.90" lengthAdjust="spacingAndGlyphs" transform="rotate(-90 29.40 184.75)">% editing</text><text x="59.90" y="242.20" font-size="7.6" text-anchor="end" fill="#2b2b2b" stroke="#2b2b2b" stroke-width="0.08" transform="rotate(-45 59.90 242.20)">3 dpt</text><text x="74.10" y="242.20" font-size="7.6" text-anchor="end" fill="#2b2b2b" stroke="#2b2b2b" stroke-width="0.08" transform="rotate(-45 74.10 242.20)">ED d7</text><text x="88.10" y="242.20" font-size="7.6" text-anchor="end" fill="#2b2b2b" stroke="#2b2b2b" stroke-width="0.08" transform="rotate(-45 88.10 242.20)">ED d11</text><text x="102.30" y="242.20" font-size="7.6" text-anchor="end" fill="#2b2b2b" stroke="#2b2b2b" stroke-width="0.08" transform="rotate(-45 102.30 242.20)">ED d18</text><text x="117.60" y="113.90" font-size="12.4" text-anchor="start" fill="#111" font-weight="bold">C</text><text x="157.00" y="120.90" font-size="7.6" text-anchor="middle" fill="#2b2b2b" stroke="#2b2b2b" stroke-width="0.08" textLength="19.90" lengthAdjust="spacingAndGlyphs">UNTD</text><text x="186.80" y="106.30" font-size="7.6" text-anchor="middle" fill="#2b2b2b" stroke="#2b2b2b" stroke-width="0.08" textLength="18.20" lengthAdjust="spacingAndGlyphs">Sickle</text><text x="186.70" y="114.40" font-size="7.6" text-anchor="middle" fill="#2b2b2b" stroke="#2b2b2b" stroke-width="0.08" textLength="19.30" lengthAdjust="spacingAndGlyphs">codon</text><path d="M174.8,122.2 Q175,119.8 177.5,119.8 L178.6,119.8 Q179.6,119.8 179.7,118.4 Q179.8,119.8 180.8,119.8 L182,119.8 Q184.4,119.8 184.6,122.2" fill="none" stroke="#444" stroke-width="0.7"/><rect x="175.00" y="121.80" width="9.60" height="50.00" fill="#afcdec"/><line x1="156.30" y1="122.30" x2="156.30" y2="171.80" stroke="#9a9a9a" stroke-width="0.6" stroke-dasharray="0.8 1.2"/><line x1="195.30" y1="122.30" x2="195.30" y2="171.80" stroke="#9a9a9a" stroke-width="0.6" stroke-dasharray="0.8 1.2"/><path d="M123.76,171.57 L124.13,171.28 L124.51,170.70 L124.89,169.63 L125.27,167.83 L125.65,165.04 L126.03,161.07 L126.41,155.93 L126.79,149.95 L127.16,143.77 L127.54,138.32 L127.92,134.55 L128.30,133.20 L128.68,134.55 L129.06,138.32 L129.44,143.77 L129.81,149.95 L130.19,155.93 L130.57,161.07 L130.95,165.04 L131.33,167.83 L131.71,169.63 L132.09,170.70 L132.47,171.28 L132.84,171.57" fill="none" stroke="#4d7fb8" stroke-width="0.9" stroke-linejoin="round"/><path d="M127.56,171.72 L127.93,171.62 L128.31,171.43 L128.69,171.06 L129.07,170.45 L129.45,169.51 L129.83,168.16 L130.21,166.41 L130.59,164.38 L130.96,162.29 L131.34,160.44 L131.72,159.16 L132.10,158.70 L132.48,159.16 L132.86,160.44 L133.24,162.29 L133.61,164.38 L133.99,166.41 L134.37,168.16 L134.75,169.51 L135.13,170.45 L135.51,171.06 L135.89,171.43 L136.27,171.62 L136.64,171.72" fill="none" stroke="#76c379" stroke-width="0.9" stroke-linejoin="round"/><path d="M131.86,171.51 L132.23,171.15 L132.61,170.44 L132.99,169.12 L133.37,166.90 L133.75,163.45 L134.13,158.54 L134.51,152.19 L134.89,144.79 L135.26,137.16 L135.64,130.42 L136.02,125.77 L136.40,124.10 L136.78,125.77 L137.16,130.42 L137.54,137.16 L137.91,144.79 L138.29,152.19 L138.67,158.54 L139.05,163.45 L139.43,166.90 L139.81,169.12 L140.19,170.44 L140.57,171.15 L140.94,171.51" fill="none" stroke="#4d7fb8" stroke-width="0.9" stroke-linejoin="round"/><path d="M136.26,171.71 L136.63,171.59 L137.01,171.36 L137.39,170.94 L137.77,170.22 L138.15,169.10 L138.53,167.52 L138.91,165.47 L139.29,163.08 L139.66,160.62 L140.04,158.44 L140.42,156.94 L140.80,156.40 L141.18,156.94 L141.56,158.44 L141.94,160.62 L142.31,163.08 L142.69,165.47 L143.07,167.52 L143.45,169.10 L143.83,170.22 L144.21,170.94 L144.59,171.36 L144.97,171.59 L145.34,171.71" fill="none" stroke="#4d7fb8" stroke-width="0.9" stroke-linejoin="round"/><path d="M140.06,171.69 L140.43,171.56 L140.81,171.29 L141.19,170.80 L141.57,169.97 L141.95,168.68 L142.33,166.85 L142.71,164.48 L143.09,161.72 L143.46,158.87 L143.84,156.36 L144.22,154.62 L144.60,154.00 L144.98,154.62 L145.36,156.36 L145.74,158.87 L146.11,161.72 L146.49,164.48 L146.87,166.85 L147.25,168.68 L147.63,169.97 L148.01,170.80 L148.39,171.29 L148.77,171.56 L149.14,171.69" fill="none" stroke="#e0566b" stroke-width="0.9" stroke-linejoin="round"/><path d="M143.66,171.68 L144.03,171.52 L144.41,171.21 L144.79,170.64 L145.17,169.68 L145.55,168.19 L145.93,166.07 L146.31,163.33 L146.69,160.14 L147.06,156.84 L147.44,153.93 L147.82,151.92 L148.20,151.20 L148.58,151.92 L148.96,153.93 L149.34,156.84 L149.71,160.14 L150.09,163.33 L150.47,166.07 L150.85,168.19 L151.23,169.68 L151.61,170.64 L151.99,171.21 L152.37,171.52 L152.74,171.68" fill="none" stroke="#3a3a3a" stroke-width="0.9" stroke-linejoin="round"/><path d="M147.96,171.69 L148.33,171.54 L148.71,171.25 L149.09,170.72 L149.47,169.83 L149.85,168.44 L150.23,166.46 L150.61,163.91 L150.99,160.93 L151.36,157.86 L151.74,155.15 L152.12,153.27 L152.50,152.60 L152.88,153.27 L153.26,155.15 L153.64,157.86 L154.01,160.93 L154.39,163.91 L154.77,166.46 L155.15,168.44 L155.53,169.83 L155.91,170.72 L156.29,171.25 L156.67,171.54 L157.04,171.69" fill="none" stroke="#76c379" stroke-width="0.9" stroke-linejoin="round"/><path d="M152.16,171.68 L152.53,171.54 L152.91,171.24 L153.29,170.71 L153.67,169.80 L154.05,168.38 L154.43,166.38 L154.81,163.78 L155.19,160.76 L155.56,157.64 L155.94,154.89 L156.32,152.98 L156.70,152.30 L157.08,152.98 L157.46,154.89 L157.84,157.64 L158.21,160.76 L158.59,163.78 L158.97,166.38 L159.35,168.38 L159.73,169.80 L160.11,170.71 L160.49,171.24 L160.87,171.54 L161.24,171.68" fill="none" stroke="#4d7fb8" stroke-width="0.9" stroke-linejoin="round"/><path d="M155.76,171.66 L156.13,171.49 L156.51,171.15 L156.89,170.53 L157.27,169.47 L157.65,167.82 L158.03,165.49 L158.41,162.47 L158.79,158.95 L159.16,155.32 L159.54,152.11 L159.92,149.89 L160.30,149.10 L160.68,149.89 L161.06,152.11 L161.44,155.32 L161.81,158.95 L162.19,162.47 L162.57,165.49 L162.95,167.82 L163.33,169.47 L163.71,170.53 L164.09,171.15 L164.47,171.49 L164.84,171.66" fill="none" stroke="#e0566b" stroke-width="0.9" stroke-linejoin="round"/><path d="M160.46,171.57 L160.83,171.28 L161.21,170.71 L161.59,169.66 L161.97,167.88 L162.35,165.11 L162.73,161.18 L163.11,156.10 L163.49,150.17 L163.86,144.06 L164.24,138.66 L164.62,134.93 L165.00,133.60 L165.38,134.93 L165.76,138.66 L166.14,144.06 L166.51,150.17 L166.89,156.10 L167.27,161.18 L167.65,165.11 L168.03,167.88 L168.41,169.66 L168.79,170.71 L169.17,171.28 L169.54,171.57" fill="none" stroke="#4d7fb8" stroke-width="0.9" stroke-linejoin="round"/><path d="M165.26,171.70 L165.63,171.56 L166.01,171.30 L166.39,170.82 L166.77,170.00 L167.15,168.74 L167.53,166.93 L167.91,164.61 L168.29,161.89 L168.66,159.09 L169.04,156.62 L169.42,154.91 L169.80,154.30 L170.18,154.91 L170.56,156.62 L170.94,159.09 L171.31,161.89 L171.69,164.61 L172.07,166.93 L172.45,168.74 L172.83,170.00 L173.21,170.82 L173.59,171.30 L173.97,171.56 L174.34,171.70" fill="none" stroke="#4d7fb8" stroke-width="0.9" stroke-linejoin="round"/><path d="M168.26,171.70 L168.63,171.58 L169.01,171.34 L169.39,170.90 L169.77,170.15 L170.15,168.98 L170.53,167.32 L170.91,165.18 L171.29,162.68 L171.66,160.11 L172.04,157.83 L172.42,156.26 L172.80,155.70 L173.18,156.26 L173.56,157.83 L173.94,160.11 L174.31,162.68 L174.69,165.18 L175.07,167.32 L175.45,168.98 L175.83,170.15 L176.21,170.90 L176.59,171.34 L176.97,171.58 L177.34,171.70" fill="none" stroke="#e0566b" stroke-width="0.9" stroke-linejoin="round"/><path d="M172.16,171.64 L172.53,171.43 L172.91,171.01 L173.29,170.26 L173.67,168.97 L174.05,166.98 L174.43,164.15 L174.81,160.49 L175.19,156.23 L175.56,151.83 L175.94,147.95 L176.32,145.26 L176.70,144.30 L177.08,145.26 L177.46,147.95 L177.84,151.83 L178.21,156.23 L178.59,160.49 L178.97,164.15 L179.35,166.98 L179.73,168.97 L180.11,170.26 L180.49,171.01 L180.87,171.43 L181.24,171.64" fill="none" stroke="#3a3a3a" stroke-width="0.9" stroke-linejoin="round"/><path d="M175.66,171.68 L176.03,171.53 L176.41,171.23 L176.79,170.67 L177.17,169.73 L177.55,168.28 L177.93,166.21 L178.31,163.54 L178.69,160.42 L179.06,157.20 L179.44,154.36 L179.82,152.40 L180.20,151.70 L180.58,152.40 L180.96,154.36 L181.34,157.20 L181.71,160.42 L182.09,163.54 L182.47,166.21 L182.85,168.28 L183.23,169.73 L183.61,170.67 L183.99,171.23 L184.37,171.53 L184.74,171.68" fill="none" stroke="#e0566b" stroke-width="0.9" stroke-linejoin="round"/><path d="M179.46,171.63 L179.83,171.42 L180.21,170.99 L180.59,170.22 L180.97,168.90 L181.35,166.86 L181.73,163.96 L182.11,160.21 L182.49,155.83 L182.86,151.32 L183.24,147.34 L183.62,144.59 L184.00,143.60 L184.38,144.59 L184.76,147.34 L185.14,151.32 L185.51,155.83 L185.89,160.21 L186.27,163.96 L186.65,166.86 L187.03,168.90 L187.41,170.22 L187.79,170.99 L188.17,171.42 L188.54,171.63" fill="none" stroke="#3a3a3a" stroke-width="0.9" stroke-linejoin="round"/><path d="M182.96,171.63 L183.33,171.42 L183.71,170.99 L184.09,170.22 L184.47,168.90 L184.85,166.86 L185.23,163.96 L185.61,160.21 L185.99,155.83 L186.36,151.32 L186.74,147.34 L187.12,144.59 L187.50,143.60 L187.88,144.59 L188.26,147.34 L188.64,151.32 L189.01,155.83 L189.39,160.21 L189.77,163.96 L190.15,166.86 L190.53,168.90 L190.91,170.22 L191.29,170.99 L191.67,171.42 L192.04,171.63" fill="none" stroke="#3a3a3a" stroke-width="0.9" stroke-linejoin="round"/><path d="M186.76,171.59 L187.13,171.33 L187.51,170.82 L187.89,169.87 L188.27,168.27 L188.65,165.78 L189.03,162.24 L189.41,157.66 L189.79,152.32 L190.16,146.82 L190.54,141.96 L190.92,138.60 L191.30,137.40 L191.68,138.60 L192.06,141.96 L192.44,146.82 L192.81,152.32 L193.19,157.66 L193.57,162.24 L193.95,165.78 L194.33,168.27 L194.71,169.87 L195.09,170.82 L195.47,171.33 L195.84,171.59" fill="none" stroke="#76c379" stroke-width="0.9" stroke-linejoin="round"/><path d="M191.26,171.63 L191.63,171.42 L192.01,171.01 L192.39,170.24 L192.77,168.94 L193.15,166.93 L193.53,164.07 L193.91,160.37 L194.29,156.06 L194.66,151.61 L195.04,147.69 L195.42,144.97 L195.80,144.00 L196.18,144.97 L196.56,147.69 L196.94,151.61 L197.31,156.06 L197.69,160.37 L198.07,164.07 L198.45,166.93 L198.83,168.94 L199.21,170.24 L199.59,171.01 L199.97,171.42 L200.34,171.63" fill="none" stroke="#3a3a3a" stroke-width="0.9" stroke-linejoin="round"/><path d="M195.36,171.59 L195.73,171.33 L196.11,170.81 L196.49,169.85 L196.87,168.22 L197.25,165.71 L197.63,162.12 L198.01,157.49 L198.39,152.10 L198.76,146.53 L199.14,141.61 L199.52,138.22 L199.90,137.00 L200.28,138.22 L200.66,141.61 L201.04,146.53 L201.41,152.10 L201.79,157.49 L202.17,162.12 L202.55,165.71 L202.93,168.22 L203.31,169.85 L203.69,170.81 L204.07,171.33 L204.44,171.59" fill="none" stroke="#76c379" stroke-width="0.9" stroke-linejoin="round"/><path d="M199.76,171.57 L200.13,171.28 L200.51,170.70 L200.89,169.63 L201.27,167.83 L201.65,165.04 L202.03,161.07 L202.41,155.93 L202.79,149.95 L203.16,143.77 L203.54,138.32 L203.92,134.55 L204.30,133.20 L204.68,134.55 L205.06,138.32 L205.44,143.77 L205.81,149.95 L206.19,155.93 L206.57,161.07 L206.95,165.04 L207.33,167.83 L207.71,169.63 L208.09,170.70 L208.47,171.28 L208.84,171.57" fill="none" stroke="#76c379" stroke-width="0.9" stroke-linejoin="round"/><line x1="125.40" y1="171.80" x2="207.20" y2="171.80" stroke="#e0566b" stroke-width="1.0"/><text x="156.75" y="185.60" font-size="7.6" text-anchor="middle" fill="#2b2b2b" stroke="#2b2b2b" stroke-width="0.08" textLength="47.90" lengthAdjust="spacingAndGlyphs">HDAd-PE5max</text><text x="156.55" y="193.40" font-size="7.6" text-anchor="middle" fill="#2b2b2b" stroke="#2b2b2b" stroke-width="0.08" textLength="38.90" lengthAdjust="spacingAndGlyphs">w/ selection</text><rect x="175.00" y="196.60" width="12.20" height="46.00" fill="#afcdec"/><line x1="156.30" y1="197.10" x2="156.30" y2="242.60" stroke="#9a9a9a" stroke-width="0.6" stroke-dasharray="0.8 1.2"/><line x1="196.10" y1="197.10" x2="196.10" y2="242.60" stroke="#9a9a9a" stroke-width="0.6" stroke-dasharray="0.8 1.2"/><path d="M123.26,242.36 L123.63,242.05 L124.01,241.44 L124.39,240.33 L124.77,238.44 L125.15,235.51 L125.53,231.34 L125.91,225.95 L126.29,219.67 L126.66,213.19 L127.04,207.47 L127.42,203.51 L127.80,202.10 L128.18,203.51 L128.56,207.47 L128.94,213.19 L129.31,219.67 L129.69,225.95 L130.07,231.34 L130.45,235.51 L130.83,238.44 L131.21,240.33 L131.59,241.44 L131.97,242.05 L132.34,242.36" fill="none" stroke="#4d7fb8" stroke-width="0.9" stroke-linejoin="round"/><path d="M127.96,242.52 L128.33,242.41 L128.71,242.21 L129.09,241.83 L129.47,241.19 L129.85,240.20 L130.23,238.79 L130.61,236.97 L130.99,234.84 L131.36,232.65 L131.74,230.72 L132.12,229.38 L132.50,228.90 L132.88,229.38 L133.26,230.72 L133.64,232.65 L134.01,234.84 L134.39,236.97 L134.77,238.79 L135.15,240.20 L135.53,241.19 L135.91,241.83 L136.29,242.21 L136.67,242.41 L137.04,242.52" fill="none" stroke="#76c379" stroke-width="0.9" stroke-linejoin="round"/><path d="M131.86,242.36 L132.23,242.05 L132.61,241.44 L132.99,240.33 L133.37,238.44 L133.75,235.51 L134.13,231.34 L134.51,225.95 L134.89,219.67 L135.26,213.19 L135.64,207.47 L136.02,203.51 L136.40,202.10 L136.78,203.51 L137.16,207.47 L137.54,213.19 L137.91,219.67 L138.29,225.95 L138.67,231.34 L139.05,235.51 L139.43,238.44 L139.81,240.33 L140.19,241.44 L140.57,242.05 L140.94,242.36" fill="none" stroke="#4d7fb8" stroke-width="0.9" stroke-linejoin="round"/><path d="M136.26,242.52 L136.63,242.42 L137.01,242.22 L137.39,241.86 L137.77,241.24 L138.15,240.29 L138.53,238.93 L138.91,237.17 L139.29,235.13 L139.66,233.01 L140.04,231.15 L140.42,229.86 L140.80,229.40 L141.18,229.86 L141.56,231.15 L141.94,233.01 L142.31,235.13 L142.69,237.17 L143.07,238.93 L143.45,240.29 L143.83,241.24 L144.21,241.86 L144.59,242.22 L144.97,242.42 L145.34,242.52" fill="none" stroke="#4d7fb8" stroke-width="0.9" stroke-linejoin="round"/><path d="M140.56,242.50 L140.93,242.38 L141.31,242.13 L141.69,241.69 L142.07,240.93 L142.45,239.75 L142.83,238.07 L143.21,235.90 L143.59,233.37 L143.96,230.76 L144.34,228.46 L144.72,226.87 L145.10,226.30 L145.48,226.87 L145.86,228.46 L146.24,230.76 L146.61,233.37 L146.99,235.90 L147.37,238.07 L147.75,239.75 L148.13,240.93 L148.51,241.69 L148.89,242.13 L149.27,242.38 L149.64,242.50" fill="none" stroke="#e0566b" stroke-width="0.9" stroke-linejoin="round"/><path d="M143.96,242.48 L144.33,242.34 L144.71,242.05 L145.09,241.51 L145.47,240.61 L145.85,239.20 L146.23,237.21 L146.61,234.62 L146.99,231.62 L147.36,228.51 L147.74,225.77 L148.12,223.88 L148.50,223.20 L148.88,223.88 L149.26,225.77 L149.64,228.51 L150.01,231.62 L150.39,234.62 L150.77,237.21 L151.15,239.20 L151.53,240.61 L151.91,241.51 L152.29,242.05 L152.67,242.34 L153.04,242.48" fill="none" stroke="#3a3a3a" stroke-width="0.9" stroke-linejoin="round"/><path d="M148.66,242.49 L149.03,242.36 L149.41,242.09 L149.79,241.59 L150.17,240.75 L150.55,239.45 L150.93,237.60 L151.31,235.20 L151.69,232.41 L152.06,229.53 L152.44,226.99 L152.82,225.23 L153.20,224.60 L153.58,225.23 L153.96,226.99 L154.34,229.53 L154.71,232.41 L155.09,235.20 L155.47,237.60 L155.85,239.45 L156.23,240.75 L156.61,241.59 L156.99,242.09 L157.37,242.36 L157.74,242.49" fill="none" stroke="#76c379" stroke-width="0.9" stroke-linejoin="round"/><path d="M152.16,242.50 L152.53,242.38 L152.91,242.15 L153.29,241.71 L153.67,240.97 L154.05,239.82 L154.43,238.18 L154.81,236.06 L155.19,233.60 L155.56,231.05 L155.94,228.81 L156.32,227.26 L156.70,226.70 L157.08,227.26 L157.46,228.81 L157.84,231.05 L158.21,233.60 L158.59,236.06 L158.97,238.18 L159.35,239.82 L159.73,240.97 L160.11,241.71 L160.49,242.15 L160.87,242.38 L161.24,242.50" fill="none" stroke="#4d7fb8" stroke-width="0.9" stroke-linejoin="round"/><path d="M156.16,242.44 L156.53,242.23 L156.91,241.83 L157.29,241.08 L157.67,239.83 L158.05,237.87 L158.43,235.09 L158.81,231.50 L159.19,227.31 L159.56,222.99 L159.94,219.18 L160.32,216.54 L160.70,215.60 L161.08,216.54 L161.46,219.18 L161.84,222.99 L162.21,227.31 L162.59,231.50 L162.97,235.09 L163.35,237.87 L163.73,239.83 L164.11,241.08 L164.49,241.83 L164.87,242.23 L165.24,242.44" fill="none" stroke="#e0566b" stroke-width="0.9" stroke-linejoin="round"/><path d="M160.76,242.41 L161.13,242.16 L161.51,241.68 L161.89,240.79 L162.27,239.29 L162.65,236.96 L163.03,233.65 L163.41,229.36 L163.79,224.37 L164.16,219.22 L164.54,214.67 L164.92,211.52 L165.30,210.40 L165.68,211.52 L166.06,214.67 L166.44,219.22 L166.81,224.37 L167.19,229.36 L167.57,233.65 L167.95,236.96 L168.33,239.29 L168.71,240.79 L169.09,241.68 L169.47,242.16 L169.84,242.41" fill="none" stroke="#4d7fb8" stroke-width="0.9" stroke-linejoin="round"/><path d="M165.26,242.53 L165.63,242.45 L166.01,242.27 L166.39,241.96 L166.77,241.43 L167.15,240.60 L167.53,239.43 L167.91,237.91 L168.29,236.15 L168.66,234.32 L169.04,232.71 L169.42,231.60 L169.80,231.20 L170.18,231.60 L170.56,232.71 L170.94,234.32 L171.31,236.15 L171.69,237.91 L172.07,239.43 L172.45,240.60 L172.83,241.43 L173.21,241.96 L173.59,242.27 L173.97,242.45 L174.34,242.53" fill="none" stroke="#4d7fb8" stroke-width="0.9" stroke-linejoin="round"/><path d="M169.06,242.53 L169.43,242.43 L169.81,242.24 L170.19,241.90 L170.57,241.32 L170.95,240.41 L171.33,239.12 L171.71,237.46 L172.09,235.52 L172.46,233.52 L172.84,231.76 L173.22,230.54 L173.60,230.10 L173.98,230.54 L174.36,231.76 L174.74,233.52 L175.11,235.52 L175.49,237.46 L175.87,239.12 L176.25,240.41 L176.63,241.32 L177.01,241.90 L177.39,242.24 L177.77,242.43 L178.14,242.53" fill="none" stroke="#e0566b" stroke-width="0.9" stroke-linejoin="round"/><path d="M172.56,242.48 L172.93,242.33 L173.31,242.04 L173.69,241.49 L174.07,240.58 L174.45,239.15 L174.83,237.12 L175.21,234.50 L175.59,231.45 L175.96,228.29 L176.34,225.51 L176.72,223.59 L177.10,222.90 L177.48,223.59 L177.86,225.51 L178.24,228.29 L178.61,231.45 L178.99,234.50 L179.37,237.12 L179.75,239.15 L180.13,240.58 L180.51,241.49 L180.89,242.04 L181.27,242.33 L181.64,242.48" fill="none" stroke="#3a3a3a" stroke-width="0.9" stroke-linejoin="round"/><path d="M176.86,242.53 L177.23,242.44 L177.61,242.26 L177.99,241.93 L178.37,241.38 L178.75,240.52 L179.13,239.29 L179.51,237.71 L179.89,235.86 L180.26,233.96 L180.64,232.28 L181.02,231.12 L181.40,230.70 L181.78,231.12 L182.16,232.28 L182.54,233.96 L182.91,235.86 L183.29,237.71 L183.67,239.29 L184.05,240.52 L184.43,241.38 L184.81,241.93 L185.19,242.26 L185.57,242.44 L185.94,242.53" fill="none" stroke="#76c379" stroke-width="0.9" stroke-linejoin="round"/><path d="M180.86,242.47 L181.23,242.30 L181.61,241.98 L181.99,241.38 L182.37,240.36 L182.75,238.78 L183.13,236.54 L183.51,233.64 L183.89,230.26 L184.26,226.77 L184.64,223.69 L185.02,221.56 L185.40,220.80 L185.78,221.56 L186.16,223.69 L186.54,226.77 L186.91,230.26 L187.29,233.64 L187.67,236.54 L188.05,238.78 L188.43,240.36 L188.81,241.38 L189.19,241.98 L189.57,242.30 L189.94,242.47" fill="none" stroke="#76c379" stroke-width="0.9" stroke-linejoin="round"/><path d="M185.06,242.44 L185.43,242.23 L185.81,241.81 L186.19,241.06 L186.57,239.77 L186.95,237.78 L187.33,234.95 L187.71,231.29 L188.09,227.03 L188.46,222.63 L188.84,218.75 L189.22,216.06 L189.60,215.10 L189.98,216.06 L190.36,218.75 L190.74,222.63 L191.11,227.03 L191.49,231.29 L191.87,234.95 L192.25,237.78 L192.63,239.77 L193.01,241.06 L193.39,241.81 L193.77,242.23 L194.14,242.44" fill="none" stroke="#3a3a3a" stroke-width="0.9" stroke-linejoin="round"/><path d="M188.96,242.38 L189.33,242.09 L189.71,241.53 L190.09,240.50 L190.47,238.76 L190.85,236.05 L191.23,232.20 L191.61,227.22 L191.99,221.43 L192.36,215.44 L192.74,210.16 L193.12,206.51 L193.50,205.20 L193.88,206.51 L194.26,210.16 L194.64,215.44 L195.01,221.43 L195.39,227.22 L195.77,232.20 L196.15,236.05 L196.53,238.76 L196.91,240.50 L197.29,241.53 L197.67,242.09 L198.04,242.38" fill="none" stroke="#76c379" stroke-width="0.9" stroke-linejoin="round"/><path d="M192.96,242.46 L193.33,242.27 L193.71,241.91 L194.09,241.25 L194.47,240.12 L194.85,238.38 L195.23,235.90 L195.61,232.69 L195.99,228.96 L196.36,225.10 L196.74,221.69 L197.12,219.34 L197.50,218.50 L197.88,219.34 L198.26,221.69 L198.64,225.10 L199.01,228.96 L199.39,232.69 L199.77,235.90 L200.15,238.38 L200.53,240.12 L200.91,241.25 L201.29,241.91 L201.67,242.27 L202.04,242.46" fill="none" stroke="#3a3a3a" stroke-width="0.9" stroke-linejoin="round"/><path d="M197.16,242.38 L197.53,242.10 L197.91,241.55 L198.29,240.54 L198.67,238.83 L199.05,236.17 L199.43,232.40 L199.81,227.51 L200.19,221.82 L200.56,215.95 L200.94,210.77 L201.32,207.18 L201.70,205.90 L202.08,207.18 L202.46,210.77 L202.84,215.95 L203.21,221.82 L203.59,227.51 L203.97,232.40 L204.35,236.17 L204.73,238.83 L205.11,240.54 L205.49,241.55 L205.87,242.10 L206.24,242.38" fill="none" stroke="#76c379" stroke-width="0.9" stroke-linejoin="round"/><path d="M201.46,242.36 L201.83,242.06 L202.21,241.47 L202.59,240.38 L202.97,238.53 L203.35,235.66 L203.73,231.59 L204.11,226.32 L204.49,220.18 L204.86,213.84 L205.24,208.25 L205.62,204.38 L206.00,203.00 L206.38,204.38 L206.76,208.25 L207.14,213.84 L207.51,220.18 L207.89,226.32 L208.27,231.59 L208.65,235.66 L209.03,238.53 L209.41,240.38 L209.79,241.47 L210.17,242.06 L210.54,242.36" fill="none" stroke="#76c379" stroke-width="0.9" stroke-linejoin="round"/><line x1="125.40" y1="242.60" x2="208.10" y2="242.60" stroke="#e0566b" stroke-width="1.0"/><path d="M182.3,252.5 L182.3,248.8" stroke="#2e9e3e" stroke-width="1.2"/><polygon points="182.3,245.6 180.6,249.6 184.0,249.6" fill="#2e9e3e"/><text x="184.20" y="259.40" font-size="7.6" text-anchor="middle" fill="#2b2b2b" stroke="#2b2b2b" stroke-width="0.08" textLength="47.80" lengthAdjust="spacingAndGlyphs">T&gt;A correction</text><text x="215.50" y="113.90" font-size="12.4" text-anchor="start" fill="#111" font-weight="bold">D</text><line x1="234.80" y1="119.40" x2="249.90" y2="119.40" stroke="#45a845" stroke-width="1"/><circle cx="242.3" cy="119.4" r="1.3" fill="#45a845"/><line x1="234.80" y1="128.30" x2="249.90" y2="128.30" stroke="#c41f3e" stroke-width="1"/><circle cx="242.3" cy="128.3" r="1.3" fill="#c41f3e"/><text x="252.60" y="121.60" font-size="7.4" text-anchor="start" fill="#2b2b2b" stroke="#2b2b2b" stroke-width="0.08" textLength="43.40" lengthAdjust="spacingAndGlyphs">w/o selection</text><text x="252.60" y="130.50" font-size="7.4" text-anchor="start" fill="#2b2b2b" stroke="#2b2b2b" stroke-width="0.08" textLength="39.40" lengthAdjust="spacingAndGlyphs">w/ selection</text><line x1="247.70" y1="137.00" x2="247.70" y2="231.80" stroke="#111" stroke-width="1.2"/><line x1="245.10" y1="231.20" x2="247.70" y2="231.20" stroke="#111" stroke-width="1.2"/><text x="241.20" y="233.94" font-size="7.6" text-anchor="end" fill="#2b2b2b" stroke="#2b2b2b" stroke-width="0.08">0</text><line x1="245.10" y1="218.05" x2="247.70" y2="218.05" stroke="#111" stroke-width="1.2"/><text x="241.20" y="220.79" font-size="7.6" text-anchor="end" fill="#2b2b2b" stroke="#2b2b2b" stroke-width="0.08">1</text><line x1="245.10" y1="204.90" x2="247.70" y2="204.90" stroke="#111" stroke-width="1.2"/><text x="241.20" y="207.64" font-size="7.6" text-anchor="end" fill="#2b2b2b" stroke="#2b2b2b" stroke-width="0.08">2</text><line x1="245.10" y1="191.75" x2="247.70" y2="191.75" stroke="#111" stroke-width="1.2"/><text x="241.20" y="194.49" font-size="7.6" text-anchor="end" fill="#2b2b2b" stroke="#2b2b2b" stroke-width="0.08">3</text><line x1="245.10" y1="178.60" x2="247.70" y2="178.60" stroke="#111" stroke-width="1.2"/><text x="241.20" y="181.34" font-size="7.6" text-anchor="end" fill="#2b2b2b" stroke="#2b2b2b" stroke-width="0.08">4</text><line x1="245.10" y1="165.45" x2="247.70" y2="165.45" stroke="#111" stroke-width="1.2"/><text x="241.20" y="168.19" font-size="7.6" text-anchor="end" fill="#2b2b2b" stroke="#2b2b2b" stroke-width="0.08">5</text><line x1="245.10" y1="152.30" x2="247.70" y2="152.30" stroke="#111" stroke-width="1.2"/><text x="241.20" y="155.04" font-size="7.6" text-anchor="end" fill="#2b2b2b" stroke="#2b2b2b" stroke-width="0.08">6</text><line x1="245.10" y1="139.15" x2="247.70" y2="139.15" stroke="#111" stroke-width="1.2"/><text x="241.20" y="141.89" font-size="7.6" text-anchor="end" fill="#2b2b2b" stroke="#2b2b2b" stroke-width="0.08">7</text><line x1="247.10" y1="231.20" x2="297.70" y2="231.20" stroke="#111" stroke-width="1.2"/><line x1="256.50" y1="231.20" x2="256.50" y2="233.80" stroke="#111" stroke-width="1.2"/><line x1="275.40" y1="231.20" x2="275.40" y2="233.80" stroke="#111" stroke-width="1.2"/><line x1="294.30" y1="231.20" x2="294.30" y2="233.80" stroke="#111" stroke-width="1.2"/><line x1="275.40" y1="226.47" x2="275.40" y2="221.73" stroke="#9a3a4a" stroke-width="0.9"/><line x1="273.70" y1="221.73" x2="277.10" y2="221.73" stroke="#9a3a4a" stroke-width="0.9"/><line x1="294.30" y1="226.86" x2="294.30" y2="223.70" stroke="#9a3a4a" stroke-width="0.9"/><line x1="292.60" y1="223.70" x2="296.00" y2="223.70" stroke="#9a3a4a" stroke-width="0.9"/><polyline points="256.50,227.39 275.40,227.91 294.30,228.83" fill="none" stroke="#6cc56c" stroke-width="1.5"/><polyline points="256.50,227.39 275.40,226.47 294.30,226.86" fill="none" stroke="#e0637a" stroke-width="1.5"/><circle cx="275.4" cy="227.91" r="1.4" fill="#2f8f3a"/><circle cx="294.3" cy="228.83" r="1.4" fill="#2f8f3a"/><circle cx="256.5" cy="227.39" r="1.5" fill="#a8123a"/><circle cx="275.4" cy="226.47" r="1.5" fill="#a8123a"/><circle cx="294.3" cy="226.86" r="1.5" fill="#a8123a"/><circle cx="256.5" cy="227.39" r="1.5" fill="#2f8f3a"/><text x="230.00" y="185.10" font-size="8.4" text-anchor="middle" fill="#2b2b2b" stroke="#2b2b2b" stroke-width="0.08" textLength="67.40" lengthAdjust="spacingAndGlyphs" transform="rotate(-90 230.00 185.10)">% reads with indels</text><text x="260.50" y="241.80" font-size="7.6" text-anchor="end" fill="#2b2b2b" stroke="#2b2b2b" stroke-width="0.08" transform="rotate(-45 260.50 241.80)">3 dpt</text><text x="279.40" y="241.80" font-size="7.6" text-anchor="end" fill="#2b2b2b" stroke="#2b2b2b" stroke-width="0.08" transform="rotate(-45 279.40 241.80)">ED d11</text><text x="298.30" y="241.80" font-size="7.6" text-anchor="end" fill="#2b2b2b" stroke="#2b2b2b" stroke-width="0.08" transform="rotate(-45 298.30 241.80)">ED d18</text><text x="307.50" y="113.80" font-size="12.4" text-anchor="start" fill="#111" font-weight="bold">E</text><rect x="354.10" y="121.00" width="5.60" height="5.40" fill="#fbb817"/><text x="364.00" y="126.30" font-size="7.4" text-anchor="start" fill="#2b2b2b" stroke="#2b2b2b" stroke-width="0.08">UNTD</text><rect x="354.10" y="132.30" width="5.60" height="5.40" fill="#3ba845"/><text x="364.00" y="137.60" font-size="7.4" text-anchor="start" fill="#2b2b2b" stroke="#2b2b2b" stroke-width="0.08" textLength="47.50" lengthAdjust="spacingAndGlyphs">HDAd-PE5max</text><rect x="354.10" y="143.50" width="5.60" height="5.40" fill="#1b4a8b"/><text x="364.00" y="148.80" font-size="7.4" text-anchor="start" fill="#2b2b2b" stroke="#2b2b2b" stroke-width="0.08" textLength="57.70" lengthAdjust="spacingAndGlyphs">HDAd-mgmt/GFP</text><line x1="349.60" y1="131.50" x2="349.60" y2="226.90" stroke="#111" stroke-width="1.2"/><line x1="347.00" y1="226.30" x2="349.60" y2="226.30" stroke="#111" stroke-width="1.2"/><text x="344.30" y="228.96" font-size="7.4" text-anchor="end" fill="#2b2b2b" stroke="#2b2b2b" stroke-width="0.08">0</text><line x1="347.00" y1="195.55" x2="349.60" y2="195.55" stroke="#111" stroke-width="1.2"/><text x="344.30" y="198.21" font-size="7.4" text-anchor="end" fill="#2b2b2b" stroke="#2b2b2b" stroke-width="0.08">200</text><line x1="347.00" y1="164.80" x2="349.60" y2="164.80" stroke="#111" stroke-width="1.2"/><text x="344.30" y="167.46" font-size="7.4" text-anchor="end" fill="#2b2b2b" stroke="#2b2b2b" stroke-width="0.08">400</text><line x1="347.00" y1="134.05" x2="349.60" y2="134.05" stroke="#111" stroke-width="1.2"/><text x="344.30" y="136.71" font-size="7.4" text-anchor="end" fill="#2b2b2b" stroke="#2b2b2b" stroke-width="0.08">600</text><line x1="349.00" y1="226.30" x2="431.30" y2="226.30" stroke="#111" stroke-width="1.2"/><line x1="362.70" y1="226.30" x2="362.70" y2="228.90" stroke="#111" stroke-width="1.2"/><line x1="390.40" y1="226.30" x2="390.40" y2="228.90" stroke="#111" stroke-width="1.2"/><line x1="418.50" y1="226.30" x2="418.50" y2="228.90" stroke="#111" stroke-width="1.2"/><rect x="353.10" y="168.34" width="4.60" height="57.96" fill="#fbb817"/><line x1="362.90" y1="164.03" x2="362.90" y2="160.19" stroke="#3ba845" stroke-width="0.9"/><line x1="361.40" y1="160.19" x2="364.40" y2="160.19" stroke="#3ba845" stroke-width="0.9"/><rect x="360.70" y="164.03" width="4.60" height="62.27" fill="#3ba845"/><line x1="370.50" y1="158.19" x2="370.50" y2="152.50" stroke="#1b4a8b" stroke-width="0.9"/><line x1="369.00" y1="152.50" x2="372.00" y2="152.50" stroke="#1b4a8b" stroke-width="0.9"/><rect x="368.30" y="158.19" width="4.60" height="68.11" fill="#1b4a8b"/><rect x="381.00" y="176.33" width="4.60" height="49.97" fill="#fbb817"/><line x1="390.80" y1="172.80" x2="390.80" y2="168.80" stroke="#3ba845" stroke-width="0.9"/><line x1="389.30" y1="168.80" x2="392.30" y2="168.80" stroke="#3ba845" stroke-width="0.9"/><rect x="388.60" y="172.80" width="4.60" height="53.50" fill="#3ba845"/><line x1="398.40" y1="166.95" x2="398.40" y2="161.57" stroke="#1b4a8b" stroke-width="0.9"/><line x1="396.90" y1="161.57" x2="399.90" y2="161.57" stroke="#1b4a8b" stroke-width="0.9"/><rect x="396.20" y="166.95" width="4.60" height="59.35" fill="#1b4a8b"/><rect x="408.80" y="218.77" width="4.60" height="7.53" fill="#fbb817"/><rect x="416.40" y="217.38" width="4.60" height="8.92" fill="#3ba845"/><rect x="424.00" y="217.84" width="4.60" height="8.46" fill="#1b4a8b"/><text x="326.00" y="178.70" font-size="9.0" text-anchor="middle" fill="#2b2b2b" stroke="#2b2b2b" stroke-width="0.08" textLength="107.50" lengthAdjust="spacingAndGlyphs" transform="rotate(-90 326.00 178.70)"># colonies per 2000 CD34<tspan font-size="5" dy="-3">+</tspan><tspan dy="3"> cells</tspan></text><text x="362.60" y="237.40" font-size="7.4" text-anchor="end" fill="#2b2b2b" stroke="#2b2b2b" stroke-width="0.08" textLength="16.80" lengthAdjust="spacingAndGlyphs" transform="rotate(-45 362.60 237.40)">Total</text><text x="369.10" y="243.40" font-size="7.4" text-anchor="end" fill="#2b2b2b" stroke="#2b2b2b" stroke-width="0.08" textLength="28.20" lengthAdjust="spacingAndGlyphs" transform="rotate(-45 369.10 243.40)">colonies</text><text x="394.50" y="237.80" font-size="7.4" text-anchor="end" fill="#2b2b2b" stroke="#2b2b2b" stroke-width="0.08" textLength="22.50" lengthAdjust="spacingAndGlyphs" transform="rotate(-45 394.50 237.80)">BFUEs</text><text x="421.90" y="237.40" font-size="7.4" text-anchor="end" fill="#2b2b2b" stroke="#2b2b2b" stroke-width="0.08" textLength="30.60" lengthAdjust="spacingAndGlyphs" transform="rotate(-45 421.90 237.40)">CFU-GM</text><text x="436.80" y="113.90" font-size="12.4" text-anchor="start" fill="#111" font-weight="bold">F</text><rect x="453.1" y="121.05" width="4.7" height="4.7" fill="#fff" stroke="#333" stroke-width="0.6"/><text x="461.00" y="126.00" font-size="7.6" text-anchor="start" fill="#2b2b2b" stroke="#2b2b2b" stroke-width="0.08">nonedited</text><rect x="453.1" y="129.95" width="4.7" height="4.7" fill="#3aaa3a" stroke="#333" stroke-width="0.6"/><text x="461.00" y="134.90" font-size="7.6" text-anchor="start" fill="#2b2b2b" stroke="#2b2b2b" stroke-width="0.08">monoallelic</text><rect x="453.1" y="138.75" width="4.7" height="4.7" fill="#17634a" stroke="#333" stroke-width="0.6"/><text x="461.00" y="143.70" font-size="7.6" text-anchor="start" fill="#2b2b2b" stroke="#2b2b2b" stroke-width="0.08">biallelic</text><rect x="453.1" y="147.65" width="4.7" height="4.7" fill="#d1176a" stroke="#333" stroke-width="0.6"/><text x="461.00" y="152.60" font-size="7.6" text-anchor="start" fill="#2b2b2b" stroke="#2b2b2b" stroke-width="0.08">Indel</text><path d="M476.0,196.3 L476.00,163.90 A32.4,32.4 0 0 1 488.66,226.12 Z" fill="#ffffff"/><path d="M476.0,196.3 L488.66,226.12 A32.4,32.4 0 0 1 443.60,196.02 Z" fill="#3aaa35"/><path d="M476.0,196.3 L443.60,196.02 A32.4,32.4 0 0 1 476.00,163.90 Z" fill="#0f5e45"/><circle cx="476.0" cy="196.3" r="32.4" fill="none" stroke="#222" stroke-width="1"/><text x="476.60" y="238.90" font-size="7.4" text-anchor="middle" fill="#2b2b2b" stroke="#2b2b2b" stroke-width="0.08" textLength="46.50" lengthAdjust="spacingAndGlyphs">HDAd-PE5max</text><text x="476.60" y="247.70" font-size="7.4" text-anchor="middle" fill="#2b2b2b" stroke="#2b2b2b" stroke-width="0.08" textLength="38.00" lengthAdjust="spacingAndGlyphs">w/ selection</text><text x="13.10" y="276.60" font-size="12.4" text-anchor="start" fill="#111" font-weight="bold">G</text><line x1="63.10" y1="298.00" x2="63.10" y2="394.40" stroke="#111" stroke-width="1.2"/><line x1="60.50" y1="393.80" x2="63.10" y2="393.80" stroke="#111" stroke-width="1.2"/><text x="56.50" y="396.39" font-size="7.2" text-anchor="end" fill="#2b2b2b" stroke="#2b2b2b" stroke-width="0.08">0</text><line x1="60.50" y1="363.00" x2="63.10" y2="363.00" stroke="#111" stroke-width="1.2"/><text x="56.50" y="365.59" font-size="7.2" text-anchor="end" fill="#2b2b2b" stroke="#2b2b2b" stroke-width="0.08">20</text><line x1="60.50" y1="332.20" x2="63.10" y2="332.20" stroke="#111" stroke-width="1.2"/><text x="56.50" y="334.79" font-size="7.2" text-anchor="end" fill="#2b2b2b" stroke="#2b2b2b" stroke-width="0.08">40</text><line x1="60.50" y1="301.40" x2="63.10" y2="301.40" stroke="#111" stroke-width="1.2"/><text x="56.50" y="303.99" font-size="7.2" text-anchor="end" fill="#2b2b2b" stroke="#2b2b2b" stroke-width="0.08">60</text><line x1="62.50" y1="393.80" x2="166.00" y2="393.80" stroke="#111" stroke-width="1.2"/><line x1="84.20" y1="393.80" x2="84.20" y2="396.40" stroke="#111" stroke-width="1.2"/><line x1="115.00" y1="393.80" x2="115.00" y2="396.40" stroke="#111" stroke-width="1.2"/><line x1="146.20" y1="393.80" x2="146.20" y2="396.40" stroke="#111" stroke-width="1.2"/><line x1="83.90" y1="372.24" x2="83.90" y2="368.24" stroke="#fbb817" stroke-width="1.0"/><line x1="79.70" y1="368.24" x2="88.10" y2="368.24" stroke="#fbb817" stroke-width="1.0"/><rect x="73.90" y="372.24" width="20.00" height="21.56" fill="#fbb817"/><line x1="115.25" y1="326.35" x2="115.25" y2="308.79" stroke="#3ba845" stroke-width="1.0"/><line x1="111.05" y1="308.79" x2="119.45" y2="308.79" stroke="#3ba845" stroke-width="1.0"/><rect x="105.50" y="326.35" width="19.50" height="67.45" fill="#3ba845"/><line x1="146.70" y1="368.08" x2="146.70" y2="359.00" stroke="#1b4a8b" stroke-width="1.0"/><line x1="142.50" y1="359.00" x2="150.90" y2="359.00" stroke="#1b4a8b" stroke-width="1.0"/><rect x="136.90" y="368.08" width="19.60" height="25.72" fill="#1b4a8b"/><path d="M83.50,300.90 L83.50,297.10 L115.20,297.10 L115.20,300.90" fill="none" stroke="#333" stroke-width="0.8"/><text x="99.35" y="296.30" font-size="6.5" text-anchor="middle" fill="#2b2b2b" stroke="#2b2b2b" stroke-width="0.08">*</text><text x="32.00" y="348.10" font-size="9.0" text-anchor="middle" fill="#2b2b2b" stroke="#2b2b2b" stroke-width="0.08" textLength="48.40" lengthAdjust="spacingAndGlyphs" transform="rotate(-90 32.00 348.10)">CD235a cells</text><text x="42.20" y="344.85" font-size="9.0" text-anchor="middle" fill="#2b2b2b" stroke="#2b2b2b" stroke-width="0.08" textLength="104.90" lengthAdjust="spacingAndGlyphs" transform="rotate(-90 42.20 344.85)">fold expansion (day 18 vs day 7)</text><text x="73.70" y="407.60" font-size="7.2" text-anchor="start" fill="#2b2b2b" stroke="#2b2b2b" stroke-width="0.08" textLength="20.60" lengthAdjust="spacingAndGlyphs">UNTD</text><text x="104.20" y="406.40" font-size="7.2" text-anchor="start" fill="#2b2b2b" stroke="#2b2b2b" stroke-width="0.08" textLength="22.20" lengthAdjust="spacingAndGlyphs">HDAd-</text><text x="104.20" y="415.40" font-size="7.2" text-anchor="start" fill="#2b2b2b" stroke="#2b2b2b" stroke-width="0.08" textLength="26.20" lengthAdjust="spacingAndGlyphs">PE5max</text><text x="137.80" y="406.40" font-size="7.2" text-anchor="start" fill="#2b2b2b" stroke="#2b2b2b" stroke-width="0.08" textLength="22.20" lengthAdjust="spacingAndGlyphs">HDAd-</text><text x="137.40" y="415.40" font-size="7.2" text-anchor="start" fill="#2b2b2b" stroke="#2b2b2b" stroke-width="0.08" textLength="35.90" lengthAdjust="spacingAndGlyphs">mgmt/GFP</text><text x="181.50" y="276.60" font-size="12.4" text-anchor="start" fill="#111" font-weight="bold">H</text><rect x="247.00" y="279.50" width="5.40" height="5.20" fill="#fbb817"/><text x="256.00" y="284.70" font-size="7.2" text-anchor="start" fill="#2b2b2b" stroke="#2b2b2b" stroke-width="0.08">UNTD</text><rect x="247.00" y="290.80" width="5.40" height="5.20" fill="#3ba845"/><text x="256.00" y="296.00" font-size="7.2" text-anchor="start" fill="#2b2b2b" stroke="#2b2b2b" stroke-width="0.08">HDAd-PE5max</text><rect x="247.00" y="301.90" width="5.40" height="5.20" fill="#f28c1e"/><text x="256.00" y="307.10" font-size="7.2" text-anchor="start" fill="#2b2b2b" stroke="#2b2b2b" stroke-width="0.08">HDAd-PE5max + sel</text><line x1="222.30" y1="299.10" x2="222.30" y2="394.50" stroke="#111" stroke-width="1.2"/><line x1="219.70" y1="393.90" x2="222.30" y2="393.90" stroke="#111" stroke-width="1.2"/><text x="216.50" y="396.49" font-size="7.2" text-anchor="end" fill="#2b2b2b" stroke="#2b2b2b" stroke-width="0.08">0</text><line x1="219.70" y1="363.40" x2="222.30" y2="363.40" stroke="#111" stroke-width="1.2"/><text x="216.50" y="365.99" font-size="7.2" text-anchor="end" fill="#2b2b2b" stroke="#2b2b2b" stroke-width="0.08">50</text><line x1="219.70" y1="332.90" x2="222.30" y2="332.90" stroke="#111" stroke-width="1.2"/><text x="216.50" y="335.49" font-size="7.2" text-anchor="end" fill="#2b2b2b" stroke="#2b2b2b" stroke-width="0.08">100</text><line x1="219.70" y1="302.40" x2="222.30" y2="302.40" stroke="#111" stroke-width="1.2"/><text x="216.50" y="304.99" font-size="7.2" text-anchor="end" fill="#2b2b2b" stroke="#2b2b2b" stroke-width="0.08">150</text><line x1="221.70" y1="393.90" x2="326.50" y2="393.90" stroke="#111" stroke-width="1.2"/><line x1="274.80" y1="393.90" x2="274.80" y2="396.50" stroke="#111" stroke-width="1.2"/><line x1="243.45" y1="338.82" x2="243.45" y2="333.88" stroke="#fbb817" stroke-width="1.0"/><line x1="239.25" y1="333.88" x2="247.65" y2="333.88" stroke="#fbb817" stroke-width="1.0"/><rect x="233.60" y="338.82" width="19.70" height="55.08" fill="#fbb817"/><line x1="275.10" y1="354.86" x2="275.10" y2="343.27" stroke="#3ba845" stroke-width="1.0"/><line x1="270.90" y1="343.27" x2="279.30" y2="343.27" stroke="#3ba845" stroke-width="1.0"/><rect x="265.40" y="354.86" width="19.40" height="39.04" fill="#3ba845"/><line x1="306.20" y1="385.24" x2="306.20" y2="382.49" stroke="#f28c1e" stroke-width="1.0"/><line x1="302.00" y1="382.49" x2="310.40" y2="382.49" stroke="#f28c1e" stroke-width="1.0"/><rect x="296.40" y="385.24" width="19.60" height="8.66" fill="#f28c1e"/><path d="M243.30,322.30 L243.30,317.90 L274.80,317.90 L274.80,322.30" fill="none" stroke="#333" stroke-width="0.8"/><text x="259.05" y="317.10" font-size="6.5" text-anchor="middle" fill="#2b2b2b" stroke="#2b2b2b" stroke-width="0.08">*</text><path d="M274.80,336.10 L274.80,332.50 L306.30,332.50 L306.30,336.10" fill="none" stroke="#333" stroke-width="0.8"/><text x="290.55" y="331.70" font-size="6.5" text-anchor="middle" fill="#2b2b2b" stroke="#2b2b2b" stroke-width="0.08">*</text><text x="198.60" y="345.85" font-size="9.2" text-anchor="middle" fill="#2b2b2b" stroke="#2b2b2b" stroke-width="0.08" textLength="21.70" lengthAdjust="spacingAndGlyphs" transform="rotate(-90 198.60 345.85)">% ROS</text><text x="275.00" y="406.30" font-size="7.2" text-anchor="middle" fill="#2b2b2b" stroke="#2b2b2b" stroke-width="0.08" textLength="76.20" lengthAdjust="spacingAndGlyphs">CD235a<tspan font-size="4.5" dy="-2.8">+</tspan><tspan dy="2.8">/NucRed</tspan><tspan font-size="4.5" dy="-2.8">-</tspan><tspan dy="2.8"> cells</tspan></text><text x="338.00" y="277.70" font-size="12.4" text-anchor="start" fill="#111" font-weight="bold">I</text><line x1="383.70" y1="299.00" x2="383.70" y2="394.40" stroke="#111" stroke-width="1.2"/><line x1="381.10" y1="393.80" x2="383.70" y2="393.80" stroke="#111" stroke-width="1.2"/><text x="376.90" y="396.32" font-size="7.0" text-anchor="end" fill="#2b2b2b" stroke="#2b2b2b" stroke-width="0.08">0</text><line x1="381.10" y1="370.90" x2="383.70" y2="370.90" stroke="#111" stroke-width="1.2"/><text x="376.90" y="373.42" font-size="7.0" text-anchor="end" fill="#2b2b2b" stroke="#2b2b2b" stroke-width="0.08">10000</text><line x1="381.10" y1="348.00" x2="383.70" y2="348.00" stroke="#111" stroke-width="1.2"/><text x="376.90" y="350.52" font-size="7.0" text-anchor="end" fill="#2b2b2b" stroke="#2b2b2b" stroke-width="0.08">20000</text><line x1="381.10" y1="325.10" x2="383.70" y2="325.10" stroke="#111" stroke-width="1.2"/><text x="376.90" y="327.62" font-size="7.0" text-anchor="end" fill="#2b2b2b" stroke="#2b2b2b" stroke-width="0.08">30000</text><line x1="381.10" y1="302.20" x2="383.70" y2="302.20" stroke="#111" stroke-width="1.2"/><text x="376.90" y="304.72" font-size="7.0" text-anchor="end" fill="#2b2b2b" stroke="#2b2b2b" stroke-width="0.08">40000</text><line x1="383.10" y1="393.80" x2="490.80" y2="393.80" stroke="#111" stroke-width="1.2"/><line x1="436.30" y1="393.80" x2="436.30" y2="396.40" stroke="#111" stroke-width="1.2"/><line x1="404.80" y1="329.22" x2="404.80" y2="320.75" stroke="#fbb817" stroke-width="1.0"/><line x1="400.60" y1="320.75" x2="409.00" y2="320.75" stroke="#fbb817" stroke-width="1.0"/><rect x="394.80" y="329.22" width="20.00" height="64.58" fill="#fbb817"/><line x1="435.50" y1="367.69" x2="435.50" y2="357.39" stroke="#3ba845" stroke-width="1.0"/><line x1="431.30" y1="357.39" x2="439.70" y2="357.39" stroke="#3ba845" stroke-width="1.0"/><rect x="425.50" y="367.69" width="20.00" height="26.11" fill="#3ba845"/><line x1="466.90" y1="380.06" x2="466.90" y2="375.48" stroke="#f28c1e" stroke-width="1.0"/><line x1="462.70" y1="375.48" x2="471.10" y2="375.48" stroke="#f28c1e" stroke-width="1.0"/><rect x="456.90" y="380.06" width="20.00" height="13.74" fill="#f28c1e"/><path d="M404.60,314.50 L404.60,310.80 L436.30,310.80 L436.30,314.50" fill="none" stroke="#333" stroke-width="0.8"/><text x="420.45" y="310.00" font-size="6.5" text-anchor="middle" fill="#2b2b2b" stroke="#2b2b2b" stroke-width="0.08">*</text><path d="M436.30,334.50 L436.30,330.80 L467.10,330.80 L467.10,334.50" fill="none" stroke="#333" stroke-width="0.8"/><text x="451.70" y="330.00" font-size="6.5" text-anchor="middle" fill="#2b2b2b" stroke="#2b2b2b" stroke-width="0.08">*</text><text x="351.80" y="346.50" font-size="8.8" text-anchor="middle" fill="#2b2b2b" stroke="#2b2b2b" stroke-width="0.08" textLength="28.80" lengthAdjust="spacingAndGlyphs" transform="rotate(-90 351.80 346.50)">MFI ROS</text><text x="436.20" y="406.30" font-size="7.2" text-anchor="middle" fill="#2b2b2b" stroke="#2b2b2b" stroke-width="0.08" textLength="76.10" lengthAdjust="spacingAndGlyphs">CD235a<tspan font-size="4.5" dy="-2.8">+</tspan><tspan dy="2.8">/NucRed</tspan><tspan font-size="4.5" dy="-2.8">-</tspan><tspan dy="2.8"> cells</tspan></text><text x="12.60" y="426.30" font-size="12.4" text-anchor="start" fill="#111" font-weight="bold">J</text><line x1="60.40" y1="441.80" x2="60.40" y2="550.50" stroke="#111" stroke-width="1.2"/><line x1="57.80" y1="549.90" x2="60.40" y2="549.90" stroke="#111" stroke-width="1.2"/><text x="55.30" y="552.49" font-size="7.2" text-anchor="end" fill="#2b2b2b" stroke="#2b2b2b" stroke-width="0.08">0</text><line x1="57.80" y1="523.55" x2="60.40" y2="523.55" stroke="#111" stroke-width="1.2"/><text x="55.30" y="526.14" font-size="7.2" text-anchor="end" fill="#2b2b2b" stroke="#2b2b2b" stroke-width="0.08">20</text><line x1="57.80" y1="497.20" x2="60.40" y2="497.20" stroke="#111" stroke-width="1.2"/><text x="55.30" y="499.79" font-size="7.2" text-anchor="end" fill="#2b2b2b" stroke="#2b2b2b" stroke-width="0.08">40</text><line x1="57.80" y1="470.85" x2="60.40" y2="470.85" stroke="#111" stroke-width="1.2"/><text x="55.30" y="473.44" font-size="7.2" text-anchor="end" fill="#2b2b2b" stroke="#2b2b2b" stroke-width="0.08">60</text><line x1="57.80" y1="444.50" x2="60.40" y2="444.50" stroke="#111" stroke-width="1.2"/><text x="55.30" y="447.09" font-size="7.2" text-anchor="end" fill="#2b2b2b" stroke="#2b2b2b" stroke-width="0.08">80</text><line x1="59.80" y1="549.90" x2="191.60" y2="549.90" stroke="#111" stroke-width="1.2"/><line x1="103.40" y1="549.90" x2="103.40" y2="552.50" stroke="#111" stroke-width="1.2"/><line x1="147.90" y1="549.90" x2="147.90" y2="552.50" stroke="#111" stroke-width="1.2"/><line x1="60.40" y1="549.90" x2="60.40" y2="552.90" stroke="#111" stroke-width="1.2"/><line x1="68.35" y1="540.15" x2="68.35" y2="538.04" stroke="#8d2537" stroke-width="0.9"/><line x1="66.85" y1="538.04" x2="69.85" y2="538.04" stroke="#8d2537" stroke-width="0.9"/><rect x="65.40" y="540.15" width="5.95" height="9.75" fill="#cc1030"/><line x1="75.10" y1="529.35" x2="75.10" y2="526.18" stroke="#3d7c42" stroke-width="0.9"/><line x1="73.60" y1="526.18" x2="76.60" y2="526.18" stroke="#3d7c42" stroke-width="0.9"/><rect x="72.15" y="529.35" width="5.95" height="20.55" fill="#3cae45"/><line x1="81.85" y1="484.02" x2="81.85" y2="478.75" stroke="#357595" stroke-width="0.9"/><line x1="80.35" y1="478.75" x2="83.35" y2="478.75" stroke="#357595" stroke-width="0.9"/><rect x="78.90" y="484.02" width="5.95" height="65.88" fill="#2ca2dc"/><line x1="88.60" y1="521.84" x2="88.60" y2="517.62" stroke="#a46e2c" stroke-width="0.9"/><line x1="87.10" y1="517.62" x2="90.10" y2="517.62" stroke="#a46e2c" stroke-width="0.9"/><rect x="85.65" y="521.84" width="5.95" height="28.06" fill="#f7941d"/><rect x="92.40" y="548.58" width="5.95" height="1.32" fill="#5c1f70"/><line x1="112.05" y1="544.50" x2="112.05" y2="543.97" stroke="#8d2537" stroke-width="0.9"/><line x1="110.55" y1="543.97" x2="113.55" y2="543.97" stroke="#8d2537" stroke-width="0.9"/><rect x="109.10" y="544.50" width="5.95" height="5.40" fill="#cc1030"/><line x1="118.80" y1="523.55" x2="118.80" y2="520.26" stroke="#3d7c42" stroke-width="0.9"/><line x1="117.30" y1="520.26" x2="120.30" y2="520.26" stroke="#3d7c42" stroke-width="0.9"/><rect x="115.85" y="523.55" width="5.95" height="26.35" fill="#3cae45"/><line x1="125.55" y1="517.62" x2="125.55" y2="514.33" stroke="#357595" stroke-width="0.9"/><line x1="124.05" y1="514.33" x2="127.05" y2="514.33" stroke="#357595" stroke-width="0.9"/><rect x="122.60" y="517.62" width="5.95" height="32.28" fill="#2ca2dc"/><line x1="132.30" y1="504.05" x2="132.30" y2="497.86" stroke="#a46e2c" stroke-width="0.9"/><line x1="130.80" y1="497.86" x2="133.80" y2="497.86" stroke="#a46e2c" stroke-width="0.9"/><rect x="129.35" y="504.05" width="5.95" height="45.85" fill="#f7941d"/><line x1="139.05" y1="528.82" x2="139.05" y2="526.18" stroke="#4f2d5a" stroke-width="0.9"/><line x1="137.55" y1="526.18" x2="140.55" y2="526.18" stroke="#4f2d5a" stroke-width="0.9"/><rect x="136.10" y="528.82" width="5.95" height="21.08" fill="#5c1f70"/><rect x="152.20" y="546.87" width="5.95" height="3.03" fill="#cc1030"/><line x1="161.90" y1="515.91" x2="161.90" y2="511.69" stroke="#3d7c42" stroke-width="0.9"/><line x1="160.40" y1="511.69" x2="163.40" y2="511.69" stroke="#3d7c42" stroke-width="0.9"/><rect x="158.95" y="515.91" width="5.95" height="33.99" fill="#3cae45"/><line x1="168.65" y1="528.82" x2="168.65" y2="526.84" stroke="#357595" stroke-width="0.9"/><line x1="167.15" y1="526.84" x2="170.15" y2="526.84" stroke="#357595" stroke-width="0.9"/><rect x="165.70" y="528.82" width="5.95" height="21.08" fill="#2ca2dc"/><line x1="175.40" y1="488.24" x2="175.40" y2="480.73" stroke="#a46e2c" stroke-width="0.9"/><line x1="173.90" y1="480.73" x2="176.90" y2="480.73" stroke="#a46e2c" stroke-width="0.9"/><rect x="172.45" y="488.24" width="5.95" height="61.66" fill="#f7941d"/><line x1="182.15" y1="523.29" x2="182.15" y2="520.91" stroke="#4f2d5a" stroke-width="0.9"/><line x1="180.65" y1="520.91" x2="183.65" y2="520.91" stroke="#4f2d5a" stroke-width="0.9"/><rect x="179.20" y="523.29" width="5.95" height="26.61" fill="#5c1f70"/><text x="125.30" y="439.00" font-size="8.6" text-anchor="middle" fill="#2b2b2b" stroke="#2b2b2b" stroke-width="0.08" textLength="13.40" lengthAdjust="spacingAndGlyphs">d14</text><text x="38.60" y="495.30" font-size="9.0" text-anchor="middle" fill="#2b2b2b" stroke="#2b2b2b" stroke-width="0.08" textLength="79.20" lengthAdjust="spacingAndGlyphs" transform="rotate(-90 38.60 495.30)">% erythroid progenitors</text><path d="M93.00,470.50 L93.00,467.10 L183.20,467.10 L183.20,470.50" fill="none" stroke="#333" stroke-width="0.8"/><text x="138.10" y="466.30" font-size="6.5" text-anchor="middle" fill="#2b2b2b" stroke="#2b2b2b" stroke-width="0.08">*</text><path d="M93.00,482.30 L93.00,478.90 L140.10,478.90 L140.10,482.30" fill="none" stroke="#333" stroke-width="0.8"/><text x="116.55" y="478.10" font-size="6.5" text-anchor="middle" fill="#2b2b2b" stroke="#2b2b2b" stroke-width="0.08">*</text><text x="82.00" y="562.90" font-size="7.4" text-anchor="middle" fill="#2b2b2b" stroke="#2b2b2b" stroke-width="0.08" textLength="19.70" lengthAdjust="spacingAndGlyphs">UNTD</text><text x="125.50" y="562.90" font-size="7.4" text-anchor="middle" fill="#2b2b2b" stroke="#2b2b2b" stroke-width="0.08" textLength="20.70" lengthAdjust="spacingAndGlyphs">HDAd</text><text x="125.50" y="571.40" font-size="7.4" text-anchor="middle" fill="#2b2b2b" stroke="#2b2b2b" stroke-width="0.08" textLength="25.60" lengthAdjust="spacingAndGlyphs">PE5max</text><text x="168.40" y="562.90" font-size="7.4" text-anchor="middle" fill="#2b2b2b" stroke="#2b2b2b" stroke-width="0.08" textLength="20.70" lengthAdjust="spacingAndGlyphs">HDAd</text><text x="168.40" y="571.40" font-size="7.4" text-anchor="middle" fill="#2b2b2b" stroke="#2b2b2b" stroke-width="0.08" textLength="39.00" lengthAdjust="spacingAndGlyphs">PE5max+sel</text><line x1="245.40" y1="441.80" x2="245.40" y2="550.50" stroke="#111" stroke-width="1.2"/><line x1="242.80" y1="549.90" x2="245.40" y2="549.90" stroke="#111" stroke-width="1.2"/><text x="241.30" y="552.49" font-size="7.2" text-anchor="end" fill="#2b2b2b" stroke="#2b2b2b" stroke-width="0.08">0</text><line x1="242.80" y1="523.55" x2="245.40" y2="523.55" stroke="#111" stroke-width="1.2"/><text x="241.30" y="526.14" font-size="7.2" text-anchor="end" fill="#2b2b2b" stroke="#2b2b2b" stroke-width="0.08">20</text><line x1="242.80" y1="497.20" x2="245.40" y2="497.20" stroke="#111" stroke-width="1.2"/><text x="241.30" y="499.79" font-size="7.2" text-anchor="end" fill="#2b2b2b" stroke="#2b2b2b" stroke-width="0.08">40</text><line x1="242.80" y1="470.85" x2="245.40" y2="470.85" stroke="#111" stroke-width="1.2"/><text x="241.30" y="473.44" font-size="7.2" text-anchor="end" fill="#2b2b2b" stroke="#2b2b2b" stroke-width="0.08">60</text><line x1="242.80" y1="444.50" x2="245.40" y2="444.50" stroke="#111" stroke-width="1.2"/><text x="241.30" y="447.09" font-size="7.2" text-anchor="end" fill="#2b2b2b" stroke="#2b2b2b" stroke-width="0.08">80</text><line x1="244.80" y1="549.90" x2="377.60" y2="549.90" stroke="#111" stroke-width="1.2"/><line x1="288.50" y1="549.90" x2="288.50" y2="552.50" stroke="#111" stroke-width="1.2"/><line x1="331.50" y1="549.90" x2="331.50" y2="552.50" stroke="#111" stroke-width="1.2"/><line x1="245.40" y1="549.90" x2="245.40" y2="552.90" stroke="#111" stroke-width="1.2"/><rect x="250.60" y="545.68" width="5.95" height="4.22" fill="#cc1030"/><line x1="260.30" y1="529.48" x2="260.30" y2="526.45" stroke="#3d7c42" stroke-width="0.9"/><line x1="258.80" y1="526.45" x2="261.80" y2="526.45" stroke="#3d7c42" stroke-width="0.9"/><rect x="257.35" y="529.48" width="5.95" height="20.42" fill="#3cae45"/><line x1="267.05" y1="537.38" x2="267.05" y2="534.75" stroke="#357595" stroke-width="0.9"/><line x1="265.55" y1="534.75" x2="268.55" y2="534.75" stroke="#357595" stroke-width="0.9"/><rect x="264.10" y="537.38" width="5.95" height="12.52" fill="#2ca2dc"/><line x1="273.80" y1="497.20" x2="273.80" y2="491.27" stroke="#a46e2c" stroke-width="0.9"/><line x1="272.30" y1="491.27" x2="275.30" y2="491.27" stroke="#a46e2c" stroke-width="0.9"/><rect x="270.85" y="497.20" width="5.95" height="52.70" fill="#f7941d"/><line x1="280.55" y1="523.55" x2="280.55" y2="520.91" stroke="#4f2d5a" stroke-width="0.9"/><line x1="279.05" y1="520.91" x2="282.05" y2="520.91" stroke="#4f2d5a" stroke-width="0.9"/><rect x="277.60" y="523.55" width="5.95" height="26.35" fill="#5c1f70"/><rect x="293.20" y="546.61" width="5.95" height="3.29" fill="#cc1030"/><line x1="302.90" y1="542.65" x2="302.90" y2="541.34" stroke="#3d7c42" stroke-width="0.9"/><line x1="301.40" y1="541.34" x2="304.40" y2="541.34" stroke="#3d7c42" stroke-width="0.9"/><rect x="299.95" y="542.65" width="5.95" height="7.25" fill="#3cae45"/><line x1="309.65" y1="537.38" x2="309.65" y2="534.75" stroke="#357595" stroke-width="0.9"/><line x1="308.15" y1="534.75" x2="311.15" y2="534.75" stroke="#357595" stroke-width="0.9"/><rect x="306.70" y="537.38" width="5.95" height="12.52" fill="#2ca2dc"/><line x1="316.40" y1="517.62" x2="316.40" y2="513.67" stroke="#a46e2c" stroke-width="0.9"/><line x1="314.90" y1="513.67" x2="317.90" y2="513.67" stroke="#a46e2c" stroke-width="0.9"/><rect x="313.45" y="517.62" width="5.95" height="32.28" fill="#f7941d"/><line x1="323.15" y1="476.12" x2="323.15" y2="468.87" stroke="#4f2d5a" stroke-width="0.9"/><line x1="321.65" y1="468.87" x2="324.65" y2="468.87" stroke="#4f2d5a" stroke-width="0.9"/><rect x="320.20" y="476.12" width="5.95" height="73.78" fill="#5c1f70"/><rect x="336.00" y="548.58" width="5.95" height="1.32" fill="#cc1030"/><rect x="342.75" y="548.58" width="5.95" height="1.32" fill="#3cae45"/><line x1="352.45" y1="543.97" x2="352.45" y2="543.31" stroke="#357595" stroke-width="0.9"/><line x1="350.95" y1="543.31" x2="353.95" y2="543.31" stroke="#357595" stroke-width="0.9"/><rect x="349.50" y="543.97" width="5.95" height="5.93" fill="#2ca2dc"/><line x1="359.20" y1="511.03" x2="359.20" y2="506.42" stroke="#a46e2c" stroke-width="0.9"/><line x1="357.70" y1="506.42" x2="360.70" y2="506.42" stroke="#a46e2c" stroke-width="0.9"/><rect x="356.25" y="511.03" width="5.95" height="38.87" fill="#f7941d"/><line x1="365.95" y1="466.90" x2="365.95" y2="458.99" stroke="#4f2d5a" stroke-width="0.9"/><line x1="364.45" y1="458.99" x2="367.45" y2="458.99" stroke="#4f2d5a" stroke-width="0.9"/><rect x="363.00" y="466.90" width="5.95" height="83.00" fill="#5c1f70"/><text x="306.20" y="439.00" font-size="8.6" text-anchor="middle" fill="#2b2b2b" stroke="#2b2b2b" stroke-width="0.08" textLength="13.40" lengthAdjust="spacingAndGlyphs">d18</text><text x="224.60" y="495.30" font-size="9.0" text-anchor="middle" fill="#2b2b2b" stroke="#2b2b2b" stroke-width="0.08" textLength="79.20" lengthAdjust="spacingAndGlyphs" transform="rotate(-90 224.60 495.30)">% erythroid progenitors</text><path d="M277.30,452.60 L277.30,449.20 L369.80,449.20 L369.80,452.60" fill="none" stroke="#333" stroke-width="0.8"/><text x="323.55" y="448.40" font-size="6.5" text-anchor="middle" fill="#2b2b2b" stroke="#2b2b2b" stroke-width="0.08">*</text><path d="M277.30,463.70 L277.30,460.30 L326.10,460.30 L326.10,463.70" fill="none" stroke="#333" stroke-width="0.8"/><text x="301.70" y="459.50" font-size="6.5" text-anchor="middle" fill="#2b2b2b" stroke="#2b2b2b" stroke-width="0.08">*</text><text x="266.50" y="562.90" font-size="7.4" text-anchor="middle" fill="#2b2b2b" stroke="#2b2b2b" stroke-width="0.08" textLength="19.70" lengthAdjust="spacingAndGlyphs">UNTD</text><text x="310.20" y="562.90" font-size="7.4" text-anchor="middle" fill="#2b2b2b" stroke="#2b2b2b" stroke-width="0.08" textLength="20.70" lengthAdjust="spacingAndGlyphs">HDAd</text><text x="310.20" y="571.40" font-size="7.4" text-anchor="middle" fill="#2b2b2b" stroke="#2b2b2b" stroke-width="0.08" textLength="25.60" lengthAdjust="spacingAndGlyphs">PE5max</text><text x="353.50" y="562.90" font-size="7.4" text-anchor="middle" fill="#2b2b2b" stroke="#2b2b2b" stroke-width="0.08" textLength="20.70" lengthAdjust="spacingAndGlyphs">HDAd</text><text x="353.50" y="571.40" font-size="7.4" text-anchor="middle" fill="#2b2b2b" stroke="#2b2b2b" stroke-width="0.08" textLength="39.00" lengthAdjust="spacingAndGlyphs">PE5max+sel</text><rect x="393.10" y="470.50" width="3.90" height="4.00" fill="#cc1030"/><text x="400.80" y="475.00" font-size="7.2" text-anchor="start" fill="#2b2b2b" stroke="#2b2b2b" stroke-width="0.08">Pro</text><rect x="393.10" y="482.60" width="3.90" height="4.00" fill="#3cae45"/><text x="400.80" y="487.10" font-size="7.2" text-anchor="start" fill="#2b2b2b" stroke="#2b2b2b" stroke-width="0.08">Baso</text><rect x="393.10" y="494.20" width="3.90" height="4.00" fill="#2ca2dc"/><text x="400.80" y="498.70" font-size="7.2" text-anchor="start" fill="#2b2b2b" stroke="#2b2b2b" stroke-width="0.08">Poly</text><rect x="393.10" y="505.70" width="3.90" height="4.00" fill="#f7941d"/><text x="400.80" y="510.20" font-size="7.2" text-anchor="start" fill="#2b2b2b" stroke="#2b2b2b" stroke-width="0.08">Ortho</text><rect x="393.10" y="518.00" width="3.90" height="4.00" fill="#5c1f70"/><text x="400.80" y="522.50" font-size="7.2" text-anchor="start" fill="#2b2b2b" stroke="#2b2b2b" stroke-width="0.08" textLength="76.10" lengthAdjust="spacingAndGlyphs">mat.Ortho, Pyrcs, Retcs</text>
<rect x="0.5" y="0.5" width="519" height="743" fill="none" stroke="#3c3c3c" stroke-width="1"/>
</svg>
</body></html>
